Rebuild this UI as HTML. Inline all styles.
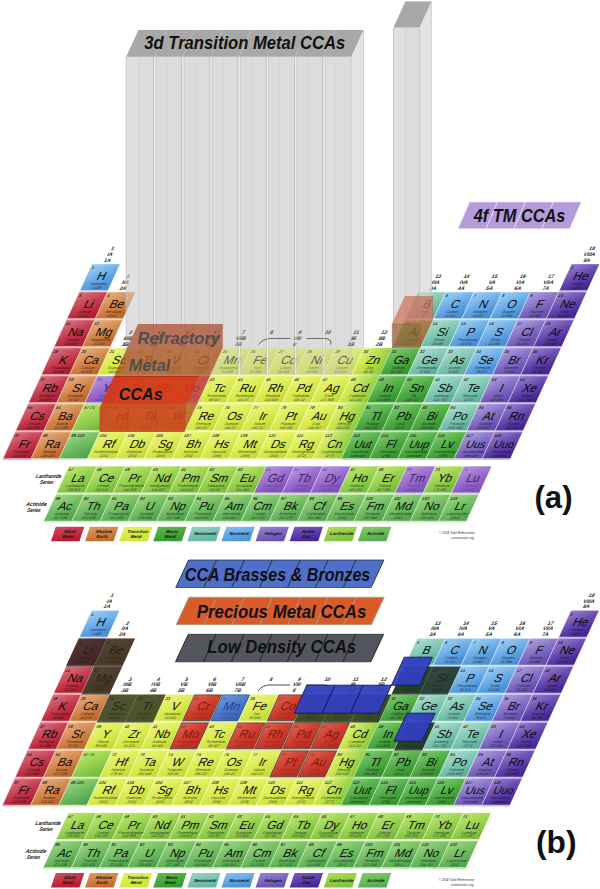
<!DOCTYPE html>
<html><head><meta charset="utf-8"><title>CCA periodic tables</title>
<style>html,body{margin:0;padding:0;background:#fff;}svg{display:block;font-family:"Liberation Sans",sans-serif;}</style></head><body>
<svg width="600" height="889" viewBox="0 0 600 889">
<defs>
<linearGradient id="g_alk" x1="0" y1="0" x2="0.35" y2="1"><stop offset="0" stop-color="#cf4c5e"/><stop offset="1" stop-color="#b91c32"/></linearGradient>
<linearGradient id="g_ae" x1="0" y1="0" x2="0.35" y2="1"><stop offset="0" stop-color="#de9a5e"/><stop offset="1" stop-color="#c86c2c"/></linearGradient>
<linearGradient id="g_tm" x1="0" y1="0" x2="0.35" y2="1"><stop offset="0" stop-color="#e6f25c"/><stop offset="1" stop-color="#d0e638"/></linearGradient>
<linearGradient id="g_bm" x1="0" y1="0" x2="0.35" y2="1"><stop offset="0" stop-color="#5cbc4a"/><stop offset="1" stop-color="#379a30"/></linearGradient>
<linearGradient id="g_sm" x1="0" y1="0" x2="0.35" y2="1"><stop offset="0" stop-color="#94d5c2"/><stop offset="1" stop-color="#64b8a4"/></linearGradient>
<linearGradient id="g_nm" x1="0" y1="0" x2="0.35" y2="1"><stop offset="0" stop-color="#82c2f0"/><stop offset="1" stop-color="#4a94de"/></linearGradient>
<linearGradient id="g_hal" x1="0" y1="0" x2="0.35" y2="1"><stop offset="0" stop-color="#9486d4"/><stop offset="1" stop-color="#6a50b6"/></linearGradient>
<linearGradient id="g_ng" x1="0" y1="0" x2="0.35" y2="1"><stop offset="0" stop-color="#7a5cc0"/><stop offset="1" stop-color="#47269a"/></linearGradient>
<linearGradient id="g_lan" x1="0" y1="0" x2="0.35" y2="1"><stop offset="0" stop-color="#addf4c"/><stop offset="1" stop-color="#7fc440"/></linearGradient>
<linearGradient id="g_act" x1="0" y1="0" x2="0.35" y2="1"><stop offset="0" stop-color="#84cd62"/><stop offset="1" stop-color="#56ac52"/></linearGradient>
<linearGradient id="g_pur" x1="0" y1="0" x2="0.35" y2="1"><stop offset="0" stop-color="#a27ad2"/><stop offset="1" stop-color="#8654c2"/></linearGradient>
<linearGradient id="g_red" x1="0" y1="0" x2="0.35" y2="1"><stop offset="0" stop-color="#d63826"/><stop offset="1" stop-color="#c62c1c"/></linearGradient>
<linearGradient id="g_blu" x1="0" y1="0" x2="0.35" y2="1"><stop offset="0" stop-color="#4c80d4"/><stop offset="1" stop-color="#3c68c2"/></linearGradient>
<linearGradient id="g_bar" x1="0" y1="0" x2="0" y2="1"><stop offset="0" stop-color="#b4b4b4" stop-opacity="0.5"/><stop offset="0.8" stop-color="#b2b2b2" stop-opacity="0.48"/><stop offset="1" stop-color="#b0b0b0" stop-opacity="0.42"/></linearGradient>
<linearGradient id="g_shine" x1="0" y1="0" x2="1" y2="1"><stop offset="0" stop-color="#fff" stop-opacity="0.22"/><stop offset="0.5" stop-color="#fff" stop-opacity="0.05"/><stop offset="1" stop-color="#000" stop-opacity="0.06"/></linearGradient>
<linearGradient id="g_zn" x1="0" y1="0" x2="1" y2="0"><stop offset="0" stop-color="#7cc83c" stop-opacity="0.05"/><stop offset="1" stop-color="#6cc040" stop-opacity="0.6"/></linearGradient>
</defs>
<rect width="600" height="889" fill="#ffffff"/>
<g transform="matrix(1,0,-0.458,1,92.00,264.00)" font-family="Liberation Sans, sans-serif" font-style="normal">
<text x="13.80" y="-13.60" font-size="5.2" font-weight="bold" text-anchor="middle" fill="#1a1a1a" fill-opacity="1.0">1</text>
<text x="13.80" y="-8.00" font-size="5.2" font-weight="bold" text-anchor="middle" fill="#1a1a1a" fill-opacity="1.0">IA</text>
<text x="13.80" y="-2.40" font-size="5.2" font-weight="bold" text-anchor="middle" fill="#1a1a1a" fill-opacity="1.0">1A</text>
<text x="42.00" y="14.40" font-size="5.2" font-weight="bold" text-anchor="middle" fill="#1a1a1a" fill-opacity="1.0">2</text>
<text x="42.00" y="20.00" font-size="5.2" font-weight="bold" text-anchor="middle" fill="#1a1a1a" fill-opacity="1.0">IIA</text>
<text x="42.00" y="25.60" font-size="5.2" font-weight="bold" text-anchor="middle" fill="#1a1a1a" fill-opacity="1.0">2A</text>
<text x="70.20" y="70.40" font-size="5.2" font-weight="bold" text-anchor="middle" fill="#1a1a1a" fill-opacity="1.0">3</text>
<text x="70.20" y="76.00" font-size="5.2" font-weight="bold" text-anchor="middle" fill="#1a1a1a" fill-opacity="1.0">IIIB</text>
<text x="70.20" y="81.60" font-size="5.2" font-weight="bold" text-anchor="middle" fill="#1a1a1a" fill-opacity="1.0">3B</text>
<text x="98.40" y="70.40" font-size="5.2" font-weight="bold" text-anchor="middle" fill="#1a1a1a" fill-opacity="1.0">4</text>
<text x="98.40" y="76.00" font-size="5.2" font-weight="bold" text-anchor="middle" fill="#1a1a1a" fill-opacity="1.0">IVB</text>
<text x="98.40" y="81.60" font-size="5.2" font-weight="bold" text-anchor="middle" fill="#1a1a1a" fill-opacity="1.0">4B</text>
<text x="126.60" y="70.40" font-size="5.2" font-weight="bold" text-anchor="middle" fill="#1a1a1a" fill-opacity="1.0">5</text>
<text x="126.60" y="76.00" font-size="5.2" font-weight="bold" text-anchor="middle" fill="#1a1a1a" fill-opacity="1.0">VB</text>
<text x="126.60" y="81.60" font-size="5.2" font-weight="bold" text-anchor="middle" fill="#1a1a1a" fill-opacity="1.0">5B</text>
<text x="154.80" y="70.40" font-size="5.2" font-weight="bold" text-anchor="middle" fill="#1a1a1a" fill-opacity="1.0">6</text>
<text x="154.80" y="76.00" font-size="5.2" font-weight="bold" text-anchor="middle" fill="#1a1a1a" fill-opacity="1.0">VIB</text>
<text x="154.80" y="81.60" font-size="5.2" font-weight="bold" text-anchor="middle" fill="#1a1a1a" fill-opacity="1.0">6B</text>
<text x="183.00" y="70.40" font-size="5.2" font-weight="bold" text-anchor="middle" fill="#1a1a1a" fill-opacity="1.0">7</text>
<text x="183.00" y="76.00" font-size="5.2" font-weight="bold" text-anchor="middle" fill="#1a1a1a" fill-opacity="1.0">VIIB</text>
<text x="183.00" y="81.60" font-size="5.2" font-weight="bold" text-anchor="middle" fill="#1a1a1a" fill-opacity="1.0">7B</text>
<text x="211.20" y="70.40" font-size="5.2" font-weight="bold" text-anchor="middle" fill="#1a1a1a" fill-opacity="1.0">8</text>
<text x="239.40" y="70.40" font-size="5.2" font-weight="bold" text-anchor="middle" fill="#1a1a1a" fill-opacity="1.0">9</text>
<text x="239.40" y="76.00" font-size="5.2" font-weight="bold" text-anchor="middle" fill="#1a1a1a" fill-opacity="1.0">VIII</text>
<text x="239.40" y="81.60" font-size="5.2" font-weight="bold" text-anchor="middle" fill="#1a1a1a" fill-opacity="1.0">8</text>
<text x="267.60" y="70.40" font-size="5.2" font-weight="bold" text-anchor="middle" fill="#1a1a1a" fill-opacity="1.0">10</text>
<text x="295.80" y="70.40" font-size="5.2" font-weight="bold" text-anchor="middle" fill="#1a1a1a" fill-opacity="1.0">11</text>
<text x="295.80" y="76.00" font-size="5.2" font-weight="bold" text-anchor="middle" fill="#1a1a1a" fill-opacity="1.0">IB</text>
<text x="295.80" y="81.60" font-size="5.2" font-weight="bold" text-anchor="middle" fill="#1a1a1a" fill-opacity="1.0">1B</text>
<text x="324.00" y="70.40" font-size="5.2" font-weight="bold" text-anchor="middle" fill="#1a1a1a" fill-opacity="1.0">12</text>
<text x="324.00" y="76.00" font-size="5.2" font-weight="bold" text-anchor="middle" fill="#1a1a1a" fill-opacity="1.0">IIB</text>
<text x="324.00" y="81.60" font-size="5.2" font-weight="bold" text-anchor="middle" fill="#1a1a1a" fill-opacity="1.0">2B</text>
<text x="352.20" y="14.40" font-size="5.2" font-weight="bold" text-anchor="middle" fill="#1a1a1a" fill-opacity="1.0">13</text>
<text x="352.20" y="20.00" font-size="5.2" font-weight="bold" text-anchor="middle" fill="#1a1a1a" fill-opacity="1.0">IIIA</text>
<text x="352.20" y="25.60" font-size="5.2" font-weight="bold" text-anchor="middle" fill="#1a1a1a" fill-opacity="1.0">3A</text>
<text x="380.40" y="14.40" font-size="5.2" font-weight="bold" text-anchor="middle" fill="#1a1a1a" fill-opacity="1.0">14</text>
<text x="380.40" y="20.00" font-size="5.2" font-weight="bold" text-anchor="middle" fill="#1a1a1a" fill-opacity="1.0">IVA</text>
<text x="380.40" y="25.60" font-size="5.2" font-weight="bold" text-anchor="middle" fill="#1a1a1a" fill-opacity="1.0">4A</text>
<text x="408.60" y="14.40" font-size="5.2" font-weight="bold" text-anchor="middle" fill="#1a1a1a" fill-opacity="1.0">15</text>
<text x="408.60" y="20.00" font-size="5.2" font-weight="bold" text-anchor="middle" fill="#1a1a1a" fill-opacity="1.0">VA</text>
<text x="408.60" y="25.60" font-size="5.2" font-weight="bold" text-anchor="middle" fill="#1a1a1a" fill-opacity="1.0">5A</text>
<text x="436.80" y="14.40" font-size="5.2" font-weight="bold" text-anchor="middle" fill="#1a1a1a" fill-opacity="1.0">16</text>
<text x="436.80" y="20.00" font-size="5.2" font-weight="bold" text-anchor="middle" fill="#1a1a1a" fill-opacity="1.0">VIA</text>
<text x="436.80" y="25.60" font-size="5.2" font-weight="bold" text-anchor="middle" fill="#1a1a1a" fill-opacity="1.0">6A</text>
<text x="465.00" y="14.40" font-size="5.2" font-weight="bold" text-anchor="middle" fill="#1a1a1a" fill-opacity="1.0">17</text>
<text x="465.00" y="20.00" font-size="5.2" font-weight="bold" text-anchor="middle" fill="#1a1a1a" fill-opacity="1.0">VIIA</text>
<text x="465.00" y="25.60" font-size="5.2" font-weight="bold" text-anchor="middle" fill="#1a1a1a" fill-opacity="1.0">7A</text>
<text x="493.20" y="-13.60" font-size="5.2" font-weight="bold" text-anchor="middle" fill="#1a1a1a" fill-opacity="1.0">18</text>
<text x="493.20" y="-8.00" font-size="5.2" font-weight="bold" text-anchor="middle" fill="#1a1a1a" fill-opacity="1.0">VIIIA</text>
<text x="493.20" y="-2.40" font-size="5.2" font-weight="bold" text-anchor="middle" fill="#1a1a1a" fill-opacity="1.0">8A</text>
<path d="M203.4 80.5 q2 -6 9 -6 H232.6 M248.6 74.5 H266.8 q7 0 9 6" fill="none" stroke="#333" stroke-opacity="1.0" stroke-width="0.8"/>
<rect x="0.00" y="0.00" width="28.20" height="28.00" fill="#82c2f0" fill-opacity="0.38"/>
<rect x="0.45" y="0.20" width="27.30" height="26.10" fill="url(#g_nm)"/>
<rect x="0.45" y="0.20" width="27.30" height="26.10" fill="url(#g_shine)"/>
<rect x="479.40" y="0.00" width="28.20" height="28.00" fill="#7a5cc0" fill-opacity="0.38"/>
<rect x="479.85" y="0.20" width="27.30" height="26.10" fill="url(#g_ng)"/>
<rect x="479.85" y="0.20" width="27.30" height="26.10" fill="url(#g_shine)"/>
<rect x="0.00" y="28.00" width="28.20" height="28.00" fill="#cf4c5e" fill-opacity="0.38"/>
<rect x="0.45" y="28.20" width="27.30" height="26.10" fill="url(#g_alk)"/>
<rect x="0.45" y="28.20" width="27.30" height="26.10" fill="url(#g_shine)"/>
<rect x="28.20" y="28.00" width="28.20" height="28.00" fill="#de9a5e" fill-opacity="0.38"/>
<rect x="28.65" y="28.20" width="27.30" height="26.10" fill="url(#g_ae)"/>
<rect x="28.65" y="28.20" width="27.30" height="26.10" fill="url(#g_shine)"/>
<rect x="338.40" y="28.00" width="28.20" height="28.00" fill="#94d5c2" fill-opacity="0.38"/>
<rect x="338.85" y="28.20" width="27.30" height="26.10" fill="url(#g_sm)"/>
<rect x="338.85" y="28.20" width="27.30" height="26.10" fill="url(#g_shine)"/>
<rect x="366.60" y="28.00" width="28.20" height="28.00" fill="#82c2f0" fill-opacity="0.38"/>
<rect x="367.05" y="28.20" width="27.30" height="26.10" fill="url(#g_nm)"/>
<rect x="367.05" y="28.20" width="27.30" height="26.10" fill="url(#g_shine)"/>
<rect x="394.80" y="28.00" width="28.20" height="28.00" fill="#82c2f0" fill-opacity="0.38"/>
<rect x="395.25" y="28.20" width="27.30" height="26.10" fill="url(#g_nm)"/>
<rect x="395.25" y="28.20" width="27.30" height="26.10" fill="url(#g_shine)"/>
<rect x="423.00" y="28.00" width="28.20" height="28.00" fill="#82c2f0" fill-opacity="0.38"/>
<rect x="423.45" y="28.20" width="27.30" height="26.10" fill="url(#g_nm)"/>
<rect x="423.45" y="28.20" width="27.30" height="26.10" fill="url(#g_shine)"/>
<rect x="451.20" y="28.00" width="28.20" height="28.00" fill="#9486d4" fill-opacity="0.38"/>
<rect x="451.65" y="28.20" width="27.30" height="26.10" fill="url(#g_hal)"/>
<rect x="451.65" y="28.20" width="27.30" height="26.10" fill="url(#g_shine)"/>
<rect x="479.40" y="28.00" width="28.20" height="28.00" fill="#7a5cc0" fill-opacity="0.38"/>
<rect x="479.85" y="28.20" width="27.30" height="26.10" fill="url(#g_ng)"/>
<rect x="479.85" y="28.20" width="27.30" height="26.10" fill="url(#g_shine)"/>
<rect x="0.00" y="56.00" width="28.20" height="28.00" fill="#cf4c5e" fill-opacity="0.38"/>
<rect x="0.45" y="56.20" width="27.30" height="26.10" fill="url(#g_alk)"/>
<rect x="0.45" y="56.20" width="27.30" height="26.10" fill="url(#g_shine)"/>
<rect x="28.20" y="56.00" width="28.20" height="28.00" fill="#de9a5e" fill-opacity="0.38"/>
<rect x="28.65" y="56.20" width="27.30" height="26.10" fill="url(#g_ae)"/>
<rect x="28.65" y="56.20" width="27.30" height="26.10" fill="url(#g_shine)"/>
<rect x="338.40" y="56.00" width="28.20" height="28.00" fill="#5cbc4a" fill-opacity="0.38"/>
<rect x="338.85" y="56.20" width="27.30" height="26.10" fill="url(#g_bm)"/>
<rect x="338.85" y="56.20" width="27.30" height="26.10" fill="url(#g_shine)"/>
<rect x="366.60" y="56.00" width="28.20" height="28.00" fill="#94d5c2" fill-opacity="0.38"/>
<rect x="367.05" y="56.20" width="27.30" height="26.10" fill="url(#g_sm)"/>
<rect x="367.05" y="56.20" width="27.30" height="26.10" fill="url(#g_shine)"/>
<rect x="394.80" y="56.00" width="28.20" height="28.00" fill="#82c2f0" fill-opacity="0.38"/>
<rect x="395.25" y="56.20" width="27.30" height="26.10" fill="url(#g_nm)"/>
<rect x="395.25" y="56.20" width="27.30" height="26.10" fill="url(#g_shine)"/>
<rect x="423.00" y="56.00" width="28.20" height="28.00" fill="#82c2f0" fill-opacity="0.38"/>
<rect x="423.45" y="56.20" width="27.30" height="26.10" fill="url(#g_nm)"/>
<rect x="423.45" y="56.20" width="27.30" height="26.10" fill="url(#g_shine)"/>
<rect x="451.20" y="56.00" width="28.20" height="28.00" fill="#9486d4" fill-opacity="0.38"/>
<rect x="451.65" y="56.20" width="27.30" height="26.10" fill="url(#g_hal)"/>
<rect x="451.65" y="56.20" width="27.30" height="26.10" fill="url(#g_shine)"/>
<rect x="479.40" y="56.00" width="28.20" height="28.00" fill="#7a5cc0" fill-opacity="0.38"/>
<rect x="479.85" y="56.20" width="27.30" height="26.10" fill="url(#g_ng)"/>
<rect x="479.85" y="56.20" width="27.30" height="26.10" fill="url(#g_shine)"/>
<rect x="0.00" y="84.00" width="28.20" height="28.00" fill="#cf4c5e" fill-opacity="0.38"/>
<rect x="0.45" y="84.20" width="27.30" height="26.10" fill="url(#g_alk)"/>
<rect x="0.45" y="84.20" width="27.30" height="26.10" fill="url(#g_shine)"/>
<rect x="28.20" y="84.00" width="28.20" height="28.00" fill="#de9a5e" fill-opacity="0.38"/>
<rect x="28.65" y="84.20" width="27.30" height="26.10" fill="url(#g_ae)"/>
<rect x="28.65" y="84.20" width="27.30" height="26.10" fill="url(#g_shine)"/>
<rect x="56.40" y="84.00" width="28.20" height="28.00" fill="#e6f25c" fill-opacity="0.38"/>
<rect x="56.85" y="84.20" width="27.30" height="26.10" fill="url(#g_tm)"/>
<rect x="56.85" y="84.20" width="27.30" height="26.10" fill="url(#g_shine)"/>
<rect x="84.60" y="84.00" width="28.20" height="28.00" fill="#e6f25c" fill-opacity="0.38"/>
<rect x="85.05" y="84.20" width="27.30" height="26.10" fill="url(#g_tm)"/>
<rect x="85.05" y="84.20" width="27.30" height="26.10" fill="url(#g_shine)"/>
<rect x="112.80" y="84.00" width="28.20" height="28.00" fill="#e6f25c" fill-opacity="0.38"/>
<rect x="113.25" y="84.20" width="27.30" height="26.10" fill="url(#g_tm)"/>
<rect x="113.25" y="84.20" width="27.30" height="26.10" fill="url(#g_shine)"/>
<rect x="141.00" y="84.00" width="28.20" height="28.00" fill="#e6f25c" fill-opacity="0.38"/>
<rect x="141.45" y="84.20" width="27.30" height="26.10" fill="url(#g_tm)"/>
<rect x="141.45" y="84.20" width="27.30" height="26.10" fill="url(#g_shine)"/>
<rect x="169.20" y="84.00" width="28.20" height="28.00" fill="#e6f25c" fill-opacity="0.38"/>
<rect x="169.65" y="84.20" width="27.30" height="26.10" fill="url(#g_tm)"/>
<rect x="169.65" y="84.20" width="27.30" height="26.10" fill="url(#g_shine)"/>
<rect x="197.40" y="84.00" width="28.20" height="28.00" fill="#e6f25c" fill-opacity="0.38"/>
<rect x="197.85" y="84.20" width="27.30" height="26.10" fill="url(#g_tm)"/>
<rect x="197.85" y="84.20" width="27.30" height="26.10" fill="url(#g_shine)"/>
<rect x="225.60" y="84.00" width="28.20" height="28.00" fill="#e6f25c" fill-opacity="0.38"/>
<rect x="226.05" y="84.20" width="27.30" height="26.10" fill="url(#g_tm)"/>
<rect x="226.05" y="84.20" width="27.30" height="26.10" fill="url(#g_shine)"/>
<rect x="253.80" y="84.00" width="28.20" height="28.00" fill="#e6f25c" fill-opacity="0.38"/>
<rect x="254.25" y="84.20" width="27.30" height="26.10" fill="url(#g_tm)"/>
<rect x="254.25" y="84.20" width="27.30" height="26.10" fill="url(#g_shine)"/>
<rect x="282.00" y="84.00" width="28.20" height="28.00" fill="#e6f25c" fill-opacity="0.38"/>
<rect x="282.45" y="84.20" width="27.30" height="26.10" fill="url(#g_tm)"/>
<rect x="282.45" y="84.20" width="27.30" height="26.10" fill="url(#g_shine)"/>
<rect x="310.20" y="84.00" width="28.20" height="28.00" fill="#e6f25c" fill-opacity="0.38"/>
<rect x="310.65" y="84.20" width="27.30" height="26.10" fill="url(#g_tm)"/>
<rect x="310.65" y="84.20" width="27.30" height="26.10" fill="url(#g_shine)"/>
<rect x="338.40" y="84.00" width="28.20" height="28.00" fill="#5cbc4a" fill-opacity="0.38"/>
<rect x="338.85" y="84.20" width="27.30" height="26.10" fill="url(#g_bm)"/>
<rect x="338.85" y="84.20" width="27.30" height="26.10" fill="url(#g_shine)"/>
<rect x="366.60" y="84.00" width="28.20" height="28.00" fill="#94d5c2" fill-opacity="0.38"/>
<rect x="367.05" y="84.20" width="27.30" height="26.10" fill="url(#g_sm)"/>
<rect x="367.05" y="84.20" width="27.30" height="26.10" fill="url(#g_shine)"/>
<rect x="394.80" y="84.00" width="28.20" height="28.00" fill="#94d5c2" fill-opacity="0.38"/>
<rect x="395.25" y="84.20" width="27.30" height="26.10" fill="url(#g_sm)"/>
<rect x="395.25" y="84.20" width="27.30" height="26.10" fill="url(#g_shine)"/>
<rect x="423.00" y="84.00" width="28.20" height="28.00" fill="#82c2f0" fill-opacity="0.38"/>
<rect x="423.45" y="84.20" width="27.30" height="26.10" fill="url(#g_nm)"/>
<rect x="423.45" y="84.20" width="27.30" height="26.10" fill="url(#g_shine)"/>
<rect x="451.20" y="84.00" width="28.20" height="28.00" fill="#9486d4" fill-opacity="0.38"/>
<rect x="451.65" y="84.20" width="27.30" height="26.10" fill="url(#g_hal)"/>
<rect x="451.65" y="84.20" width="27.30" height="26.10" fill="url(#g_shine)"/>
<rect x="479.40" y="84.00" width="28.20" height="28.00" fill="#7a5cc0" fill-opacity="0.38"/>
<rect x="479.85" y="84.20" width="27.30" height="26.10" fill="url(#g_ng)"/>
<rect x="479.85" y="84.20" width="27.30" height="26.10" fill="url(#g_shine)"/>
<rect x="0.00" y="112.00" width="28.20" height="28.00" fill="#cf4c5e" fill-opacity="0.38"/>
<rect x="0.45" y="112.20" width="27.30" height="26.10" fill="url(#g_alk)"/>
<rect x="0.45" y="112.20" width="27.30" height="26.10" fill="url(#g_shine)"/>
<rect x="28.20" y="112.00" width="28.20" height="28.00" fill="#de9a5e" fill-opacity="0.38"/>
<rect x="28.65" y="112.20" width="27.30" height="26.10" fill="url(#g_ae)"/>
<rect x="28.65" y="112.20" width="27.30" height="26.10" fill="url(#g_shine)"/>
<rect x="56.40" y="112.00" width="28.20" height="28.00" fill="#a27ad2" fill-opacity="0.38"/>
<rect x="56.85" y="112.20" width="27.30" height="26.10" fill="url(#g_pur)"/>
<rect x="56.85" y="112.20" width="27.30" height="26.10" fill="url(#g_shine)"/>
<rect x="84.60" y="112.00" width="28.20" height="28.00" fill="#e6f25c" fill-opacity="0.38"/>
<rect x="85.05" y="112.20" width="27.30" height="26.10" fill="url(#g_tm)"/>
<rect x="85.05" y="112.20" width="27.30" height="26.10" fill="url(#g_shine)"/>
<rect x="112.80" y="112.00" width="28.20" height="28.00" fill="#e6f25c" fill-opacity="0.38"/>
<rect x="113.25" y="112.20" width="27.30" height="26.10" fill="url(#g_tm)"/>
<rect x="113.25" y="112.20" width="27.30" height="26.10" fill="url(#g_shine)"/>
<rect x="141.00" y="112.00" width="28.20" height="28.00" fill="#e6f25c" fill-opacity="0.38"/>
<rect x="141.45" y="112.20" width="27.30" height="26.10" fill="url(#g_tm)"/>
<rect x="141.45" y="112.20" width="27.30" height="26.10" fill="url(#g_shine)"/>
<rect x="169.20" y="112.00" width="28.20" height="28.00" fill="#e6f25c" fill-opacity="0.38"/>
<rect x="169.65" y="112.20" width="27.30" height="26.10" fill="url(#g_tm)"/>
<rect x="169.65" y="112.20" width="27.30" height="26.10" fill="url(#g_shine)"/>
<rect x="197.40" y="112.00" width="28.20" height="28.00" fill="#e6f25c" fill-opacity="0.38"/>
<rect x="197.85" y="112.20" width="27.30" height="26.10" fill="url(#g_tm)"/>
<rect x="197.85" y="112.20" width="27.30" height="26.10" fill="url(#g_shine)"/>
<rect x="225.60" y="112.00" width="28.20" height="28.00" fill="#e6f25c" fill-opacity="0.38"/>
<rect x="226.05" y="112.20" width="27.30" height="26.10" fill="url(#g_tm)"/>
<rect x="226.05" y="112.20" width="27.30" height="26.10" fill="url(#g_shine)"/>
<rect x="253.80" y="112.00" width="28.20" height="28.00" fill="#e6f25c" fill-opacity="0.38"/>
<rect x="254.25" y="112.20" width="27.30" height="26.10" fill="url(#g_tm)"/>
<rect x="254.25" y="112.20" width="27.30" height="26.10" fill="url(#g_shine)"/>
<rect x="282.00" y="112.00" width="28.20" height="28.00" fill="#e6f25c" fill-opacity="0.38"/>
<rect x="282.45" y="112.20" width="27.30" height="26.10" fill="url(#g_tm)"/>
<rect x="282.45" y="112.20" width="27.30" height="26.10" fill="url(#g_shine)"/>
<rect x="310.20" y="112.00" width="28.20" height="28.00" fill="#e6f25c" fill-opacity="0.38"/>
<rect x="310.65" y="112.20" width="27.30" height="26.10" fill="url(#g_tm)"/>
<rect x="310.65" y="112.20" width="27.30" height="26.10" fill="url(#g_shine)"/>
<rect x="338.40" y="112.00" width="28.20" height="28.00" fill="#5cbc4a" fill-opacity="0.38"/>
<rect x="338.85" y="112.20" width="27.30" height="26.10" fill="url(#g_bm)"/>
<rect x="338.85" y="112.20" width="27.30" height="26.10" fill="url(#g_shine)"/>
<rect x="366.60" y="112.00" width="28.20" height="28.00" fill="#5cbc4a" fill-opacity="0.38"/>
<rect x="367.05" y="112.20" width="27.30" height="26.10" fill="url(#g_bm)"/>
<rect x="367.05" y="112.20" width="27.30" height="26.10" fill="url(#g_shine)"/>
<rect x="394.80" y="112.00" width="28.20" height="28.00" fill="#94d5c2" fill-opacity="0.38"/>
<rect x="395.25" y="112.20" width="27.30" height="26.10" fill="url(#g_sm)"/>
<rect x="395.25" y="112.20" width="27.30" height="26.10" fill="url(#g_shine)"/>
<rect x="423.00" y="112.00" width="28.20" height="28.00" fill="#94d5c2" fill-opacity="0.38"/>
<rect x="423.45" y="112.20" width="27.30" height="26.10" fill="url(#g_sm)"/>
<rect x="423.45" y="112.20" width="27.30" height="26.10" fill="url(#g_shine)"/>
<rect x="451.20" y="112.00" width="28.20" height="28.00" fill="#9486d4" fill-opacity="0.38"/>
<rect x="451.65" y="112.20" width="27.30" height="26.10" fill="url(#g_hal)"/>
<rect x="451.65" y="112.20" width="27.30" height="26.10" fill="url(#g_shine)"/>
<rect x="479.40" y="112.00" width="28.20" height="28.00" fill="#7a5cc0" fill-opacity="0.38"/>
<rect x="479.85" y="112.20" width="27.30" height="26.10" fill="url(#g_ng)"/>
<rect x="479.85" y="112.20" width="27.30" height="26.10" fill="url(#g_shine)"/>
<rect x="0.00" y="140.00" width="28.20" height="28.00" fill="#cf4c5e" fill-opacity="0.38"/>
<rect x="0.45" y="140.20" width="27.30" height="26.10" fill="url(#g_alk)"/>
<rect x="0.45" y="140.20" width="27.30" height="26.10" fill="url(#g_shine)"/>
<rect x="28.20" y="140.00" width="28.20" height="28.00" fill="#de9a5e" fill-opacity="0.38"/>
<rect x="28.65" y="140.20" width="27.30" height="26.10" fill="url(#g_ae)"/>
<rect x="28.65" y="140.20" width="27.30" height="26.10" fill="url(#g_shine)"/>
<rect x="84.60" y="140.00" width="28.20" height="28.00" fill="#e6f25c" fill-opacity="0.38"/>
<rect x="85.05" y="140.20" width="27.30" height="26.10" fill="url(#g_tm)"/>
<rect x="85.05" y="140.20" width="27.30" height="26.10" fill="url(#g_shine)"/>
<rect x="112.80" y="140.00" width="28.20" height="28.00" fill="#e6f25c" fill-opacity="0.38"/>
<rect x="113.25" y="140.20" width="27.30" height="26.10" fill="url(#g_tm)"/>
<rect x="113.25" y="140.20" width="27.30" height="26.10" fill="url(#g_shine)"/>
<rect x="141.00" y="140.00" width="28.20" height="28.00" fill="#e6f25c" fill-opacity="0.38"/>
<rect x="141.45" y="140.20" width="27.30" height="26.10" fill="url(#g_tm)"/>
<rect x="141.45" y="140.20" width="27.30" height="26.10" fill="url(#g_shine)"/>
<rect x="169.20" y="140.00" width="28.20" height="28.00" fill="#e6f25c" fill-opacity="0.38"/>
<rect x="169.65" y="140.20" width="27.30" height="26.10" fill="url(#g_tm)"/>
<rect x="169.65" y="140.20" width="27.30" height="26.10" fill="url(#g_shine)"/>
<rect x="197.40" y="140.00" width="28.20" height="28.00" fill="#e6f25c" fill-opacity="0.38"/>
<rect x="197.85" y="140.20" width="27.30" height="26.10" fill="url(#g_tm)"/>
<rect x="197.85" y="140.20" width="27.30" height="26.10" fill="url(#g_shine)"/>
<rect x="225.60" y="140.00" width="28.20" height="28.00" fill="#e6f25c" fill-opacity="0.38"/>
<rect x="226.05" y="140.20" width="27.30" height="26.10" fill="url(#g_tm)"/>
<rect x="226.05" y="140.20" width="27.30" height="26.10" fill="url(#g_shine)"/>
<rect x="253.80" y="140.00" width="28.20" height="28.00" fill="#e6f25c" fill-opacity="0.38"/>
<rect x="254.25" y="140.20" width="27.30" height="26.10" fill="url(#g_tm)"/>
<rect x="254.25" y="140.20" width="27.30" height="26.10" fill="url(#g_shine)"/>
<rect x="282.00" y="140.00" width="28.20" height="28.00" fill="#e6f25c" fill-opacity="0.38"/>
<rect x="282.45" y="140.20" width="27.30" height="26.10" fill="url(#g_tm)"/>
<rect x="282.45" y="140.20" width="27.30" height="26.10" fill="url(#g_shine)"/>
<rect x="310.20" y="140.00" width="28.20" height="28.00" fill="#e6f25c" fill-opacity="0.38"/>
<rect x="310.65" y="140.20" width="27.30" height="26.10" fill="url(#g_tm)"/>
<rect x="310.65" y="140.20" width="27.30" height="26.10" fill="url(#g_shine)"/>
<rect x="338.40" y="140.00" width="28.20" height="28.00" fill="#5cbc4a" fill-opacity="0.38"/>
<rect x="338.85" y="140.20" width="27.30" height="26.10" fill="url(#g_bm)"/>
<rect x="338.85" y="140.20" width="27.30" height="26.10" fill="url(#g_shine)"/>
<rect x="366.60" y="140.00" width="28.20" height="28.00" fill="#5cbc4a" fill-opacity="0.38"/>
<rect x="367.05" y="140.20" width="27.30" height="26.10" fill="url(#g_bm)"/>
<rect x="367.05" y="140.20" width="27.30" height="26.10" fill="url(#g_shine)"/>
<rect x="394.80" y="140.00" width="28.20" height="28.00" fill="#5cbc4a" fill-opacity="0.38"/>
<rect x="395.25" y="140.20" width="27.30" height="26.10" fill="url(#g_bm)"/>
<rect x="395.25" y="140.20" width="27.30" height="26.10" fill="url(#g_shine)"/>
<rect x="423.00" y="140.00" width="28.20" height="28.00" fill="#94d5c2" fill-opacity="0.38"/>
<rect x="423.45" y="140.20" width="27.30" height="26.10" fill="url(#g_sm)"/>
<rect x="423.45" y="140.20" width="27.30" height="26.10" fill="url(#g_shine)"/>
<rect x="451.20" y="140.00" width="28.20" height="28.00" fill="#9486d4" fill-opacity="0.38"/>
<rect x="451.65" y="140.20" width="27.30" height="26.10" fill="url(#g_hal)"/>
<rect x="451.65" y="140.20" width="27.30" height="26.10" fill="url(#g_shine)"/>
<rect x="479.40" y="140.00" width="28.20" height="28.00" fill="#7a5cc0" fill-opacity="0.38"/>
<rect x="479.85" y="140.20" width="27.30" height="26.10" fill="url(#g_ng)"/>
<rect x="479.85" y="140.20" width="27.30" height="26.10" fill="url(#g_shine)"/>
<rect x="0.00" y="168.00" width="28.20" height="28.00" fill="#cf4c5e" fill-opacity="0.38"/>
<rect x="0.45" y="168.20" width="27.30" height="26.10" fill="url(#g_alk)"/>
<rect x="0.45" y="168.20" width="27.30" height="26.10" fill="url(#g_shine)"/>
<rect x="28.20" y="168.00" width="28.20" height="28.00" fill="#de9a5e" fill-opacity="0.38"/>
<rect x="28.65" y="168.20" width="27.30" height="26.10" fill="url(#g_ae)"/>
<rect x="28.65" y="168.20" width="27.30" height="26.10" fill="url(#g_shine)"/>
<rect x="84.60" y="168.00" width="28.20" height="28.00" fill="#e6f25c" fill-opacity="0.38"/>
<rect x="85.05" y="168.20" width="27.30" height="26.10" fill="url(#g_tm)"/>
<rect x="85.05" y="168.20" width="27.30" height="26.10" fill="url(#g_shine)"/>
<rect x="112.80" y="168.00" width="28.20" height="28.00" fill="#e6f25c" fill-opacity="0.38"/>
<rect x="113.25" y="168.20" width="27.30" height="26.10" fill="url(#g_tm)"/>
<rect x="113.25" y="168.20" width="27.30" height="26.10" fill="url(#g_shine)"/>
<rect x="141.00" y="168.00" width="28.20" height="28.00" fill="#e6f25c" fill-opacity="0.38"/>
<rect x="141.45" y="168.20" width="27.30" height="26.10" fill="url(#g_tm)"/>
<rect x="141.45" y="168.20" width="27.30" height="26.10" fill="url(#g_shine)"/>
<rect x="169.20" y="168.00" width="28.20" height="28.00" fill="#e6f25c" fill-opacity="0.38"/>
<rect x="169.65" y="168.20" width="27.30" height="26.10" fill="url(#g_tm)"/>
<rect x="169.65" y="168.20" width="27.30" height="26.10" fill="url(#g_shine)"/>
<rect x="197.40" y="168.00" width="28.20" height="28.00" fill="#e6f25c" fill-opacity="0.38"/>
<rect x="197.85" y="168.20" width="27.30" height="26.10" fill="url(#g_tm)"/>
<rect x="197.85" y="168.20" width="27.30" height="26.10" fill="url(#g_shine)"/>
<rect x="225.60" y="168.00" width="28.20" height="28.00" fill="#e6f25c" fill-opacity="0.38"/>
<rect x="226.05" y="168.20" width="27.30" height="26.10" fill="url(#g_tm)"/>
<rect x="226.05" y="168.20" width="27.30" height="26.10" fill="url(#g_shine)"/>
<rect x="253.80" y="168.00" width="28.20" height="28.00" fill="#e6f25c" fill-opacity="0.38"/>
<rect x="254.25" y="168.20" width="27.30" height="26.10" fill="url(#g_tm)"/>
<rect x="254.25" y="168.20" width="27.30" height="26.10" fill="url(#g_shine)"/>
<rect x="282.00" y="168.00" width="28.20" height="28.00" fill="#e6f25c" fill-opacity="0.38"/>
<rect x="282.45" y="168.20" width="27.30" height="26.10" fill="url(#g_tm)"/>
<rect x="282.45" y="168.20" width="27.30" height="26.10" fill="url(#g_shine)"/>
<rect x="310.20" y="168.00" width="28.20" height="28.00" fill="#e6f25c" fill-opacity="0.38"/>
<rect x="310.65" y="168.20" width="27.30" height="26.10" fill="url(#g_tm)"/>
<rect x="310.65" y="168.20" width="27.30" height="26.10" fill="url(#g_shine)"/>
<rect x="338.40" y="168.00" width="28.20" height="28.00" fill="#5cbc4a" fill-opacity="0.38"/>
<rect x="338.85" y="168.20" width="27.30" height="26.10" fill="url(#g_bm)"/>
<rect x="338.85" y="168.20" width="27.30" height="26.10" fill="url(#g_shine)"/>
<rect x="366.60" y="168.00" width="28.20" height="28.00" fill="#5cbc4a" fill-opacity="0.38"/>
<rect x="367.05" y="168.20" width="27.30" height="26.10" fill="url(#g_bm)"/>
<rect x="367.05" y="168.20" width="27.30" height="26.10" fill="url(#g_shine)"/>
<rect x="394.80" y="168.00" width="28.20" height="28.00" fill="#5cbc4a" fill-opacity="0.38"/>
<rect x="395.25" y="168.20" width="27.30" height="26.10" fill="url(#g_bm)"/>
<rect x="395.25" y="168.20" width="27.30" height="26.10" fill="url(#g_shine)"/>
<rect x="423.00" y="168.00" width="28.20" height="28.00" fill="#5cbc4a" fill-opacity="0.38"/>
<rect x="423.45" y="168.20" width="27.30" height="26.10" fill="url(#g_bm)"/>
<rect x="423.45" y="168.20" width="27.30" height="26.10" fill="url(#g_shine)"/>
<rect x="451.20" y="168.00" width="28.20" height="28.00" fill="#9486d4" fill-opacity="0.38"/>
<rect x="451.65" y="168.20" width="27.30" height="26.10" fill="url(#g_hal)"/>
<rect x="451.65" y="168.20" width="27.30" height="26.10" fill="url(#g_shine)"/>
<rect x="479.40" y="168.00" width="28.20" height="28.00" fill="#7a5cc0" fill-opacity="0.38"/>
<rect x="479.85" y="168.20" width="27.30" height="26.10" fill="url(#g_ng)"/>
<rect x="479.85" y="168.20" width="27.30" height="26.10" fill="url(#g_shine)"/>
<rect x="69.37" y="202.25" width="28.20" height="28.00" fill="#addf4c" fill-opacity="0.38"/>
<rect x="69.82" y="202.45" width="27.30" height="26.10" fill="url(#g_lan)"/>
<rect x="69.82" y="202.45" width="27.30" height="26.10" fill="url(#g_shine)"/>
<rect x="97.57" y="202.25" width="28.20" height="28.00" fill="#addf4c" fill-opacity="0.38"/>
<rect x="98.02" y="202.45" width="27.30" height="26.10" fill="url(#g_lan)"/>
<rect x="98.02" y="202.45" width="27.30" height="26.10" fill="url(#g_shine)"/>
<rect x="125.77" y="202.25" width="28.20" height="28.00" fill="#addf4c" fill-opacity="0.38"/>
<rect x="126.22" y="202.45" width="27.30" height="26.10" fill="url(#g_lan)"/>
<rect x="126.22" y="202.45" width="27.30" height="26.10" fill="url(#g_shine)"/>
<rect x="153.97" y="202.25" width="28.20" height="28.00" fill="#addf4c" fill-opacity="0.38"/>
<rect x="154.42" y="202.45" width="27.30" height="26.10" fill="url(#g_lan)"/>
<rect x="154.42" y="202.45" width="27.30" height="26.10" fill="url(#g_shine)"/>
<rect x="182.17" y="202.25" width="28.20" height="28.00" fill="#addf4c" fill-opacity="0.38"/>
<rect x="182.62" y="202.45" width="27.30" height="26.10" fill="url(#g_lan)"/>
<rect x="182.62" y="202.45" width="27.30" height="26.10" fill="url(#g_shine)"/>
<rect x="210.37" y="202.25" width="28.20" height="28.00" fill="#addf4c" fill-opacity="0.38"/>
<rect x="210.82" y="202.45" width="27.30" height="26.10" fill="url(#g_lan)"/>
<rect x="210.82" y="202.45" width="27.30" height="26.10" fill="url(#g_shine)"/>
<rect x="238.57" y="202.25" width="28.20" height="28.00" fill="#addf4c" fill-opacity="0.38"/>
<rect x="239.02" y="202.45" width="27.30" height="26.10" fill="url(#g_lan)"/>
<rect x="239.02" y="202.45" width="27.30" height="26.10" fill="url(#g_shine)"/>
<rect x="266.77" y="202.25" width="28.20" height="28.00" fill="#a27ad2" fill-opacity="0.38"/>
<rect x="267.22" y="202.45" width="27.30" height="26.10" fill="url(#g_pur)"/>
<rect x="267.22" y="202.45" width="27.30" height="26.10" fill="url(#g_shine)"/>
<rect x="294.97" y="202.25" width="28.20" height="28.00" fill="#a27ad2" fill-opacity="0.38"/>
<rect x="295.42" y="202.45" width="27.30" height="26.10" fill="url(#g_pur)"/>
<rect x="295.42" y="202.45" width="27.30" height="26.10" fill="url(#g_shine)"/>
<rect x="323.17" y="202.25" width="28.20" height="28.00" fill="#a27ad2" fill-opacity="0.38"/>
<rect x="323.62" y="202.45" width="27.30" height="26.10" fill="url(#g_pur)"/>
<rect x="323.62" y="202.45" width="27.30" height="26.10" fill="url(#g_shine)"/>
<rect x="351.37" y="202.25" width="28.20" height="28.00" fill="#addf4c" fill-opacity="0.38"/>
<rect x="351.82" y="202.45" width="27.30" height="26.10" fill="url(#g_lan)"/>
<rect x="351.82" y="202.45" width="27.30" height="26.10" fill="url(#g_shine)"/>
<rect x="379.57" y="202.25" width="28.20" height="28.00" fill="#addf4c" fill-opacity="0.38"/>
<rect x="380.02" y="202.45" width="27.30" height="26.10" fill="url(#g_lan)"/>
<rect x="380.02" y="202.45" width="27.30" height="26.10" fill="url(#g_shine)"/>
<rect x="407.77" y="202.25" width="28.20" height="28.00" fill="#a27ad2" fill-opacity="0.38"/>
<rect x="408.22" y="202.45" width="27.30" height="26.10" fill="url(#g_pur)"/>
<rect x="408.22" y="202.45" width="27.30" height="26.10" fill="url(#g_shine)"/>
<rect x="435.97" y="202.25" width="28.20" height="28.00" fill="#addf4c" fill-opacity="0.38"/>
<rect x="436.42" y="202.45" width="27.30" height="26.10" fill="url(#g_lan)"/>
<rect x="436.42" y="202.45" width="27.30" height="26.10" fill="url(#g_shine)"/>
<rect x="464.17" y="202.25" width="28.20" height="28.00" fill="#a27ad2" fill-opacity="0.38"/>
<rect x="464.62" y="202.45" width="27.30" height="26.10" fill="url(#g_pur)"/>
<rect x="464.62" y="202.45" width="27.30" height="26.10" fill="url(#g_shine)"/>
<rect x="69.37" y="230.50" width="28.20" height="28.00" fill="#84cd62" fill-opacity="0.38"/>
<rect x="69.82" y="230.70" width="27.30" height="26.10" fill="url(#g_act)"/>
<rect x="69.82" y="230.70" width="27.30" height="26.10" fill="url(#g_shine)"/>
<rect x="97.57" y="230.50" width="28.20" height="28.00" fill="#84cd62" fill-opacity="0.38"/>
<rect x="98.02" y="230.70" width="27.30" height="26.10" fill="url(#g_act)"/>
<rect x="98.02" y="230.70" width="27.30" height="26.10" fill="url(#g_shine)"/>
<rect x="125.77" y="230.50" width="28.20" height="28.00" fill="#84cd62" fill-opacity="0.38"/>
<rect x="126.22" y="230.70" width="27.30" height="26.10" fill="url(#g_act)"/>
<rect x="126.22" y="230.70" width="27.30" height="26.10" fill="url(#g_shine)"/>
<rect x="153.97" y="230.50" width="28.20" height="28.00" fill="#84cd62" fill-opacity="0.38"/>
<rect x="154.42" y="230.70" width="27.30" height="26.10" fill="url(#g_act)"/>
<rect x="154.42" y="230.70" width="27.30" height="26.10" fill="url(#g_shine)"/>
<rect x="182.17" y="230.50" width="28.20" height="28.00" fill="#84cd62" fill-opacity="0.38"/>
<rect x="182.62" y="230.70" width="27.30" height="26.10" fill="url(#g_act)"/>
<rect x="182.62" y="230.70" width="27.30" height="26.10" fill="url(#g_shine)"/>
<rect x="210.37" y="230.50" width="28.20" height="28.00" fill="#84cd62" fill-opacity="0.38"/>
<rect x="210.82" y="230.70" width="27.30" height="26.10" fill="url(#g_act)"/>
<rect x="210.82" y="230.70" width="27.30" height="26.10" fill="url(#g_shine)"/>
<rect x="238.57" y="230.50" width="28.20" height="28.00" fill="#84cd62" fill-opacity="0.38"/>
<rect x="239.02" y="230.70" width="27.30" height="26.10" fill="url(#g_act)"/>
<rect x="239.02" y="230.70" width="27.30" height="26.10" fill="url(#g_shine)"/>
<rect x="266.77" y="230.50" width="28.20" height="28.00" fill="#84cd62" fill-opacity="0.38"/>
<rect x="267.22" y="230.70" width="27.30" height="26.10" fill="url(#g_act)"/>
<rect x="267.22" y="230.70" width="27.30" height="26.10" fill="url(#g_shine)"/>
<rect x="294.97" y="230.50" width="28.20" height="28.00" fill="#84cd62" fill-opacity="0.38"/>
<rect x="295.42" y="230.70" width="27.30" height="26.10" fill="url(#g_act)"/>
<rect x="295.42" y="230.70" width="27.30" height="26.10" fill="url(#g_shine)"/>
<rect x="323.17" y="230.50" width="28.20" height="28.00" fill="#84cd62" fill-opacity="0.38"/>
<rect x="323.62" y="230.70" width="27.30" height="26.10" fill="url(#g_act)"/>
<rect x="323.62" y="230.70" width="27.30" height="26.10" fill="url(#g_shine)"/>
<rect x="351.37" y="230.50" width="28.20" height="28.00" fill="#84cd62" fill-opacity="0.38"/>
<rect x="351.82" y="230.70" width="27.30" height="26.10" fill="url(#g_act)"/>
<rect x="351.82" y="230.70" width="27.30" height="26.10" fill="url(#g_shine)"/>
<rect x="379.57" y="230.50" width="28.20" height="28.00" fill="#84cd62" fill-opacity="0.38"/>
<rect x="380.02" y="230.70" width="27.30" height="26.10" fill="url(#g_act)"/>
<rect x="380.02" y="230.70" width="27.30" height="26.10" fill="url(#g_shine)"/>
<rect x="407.77" y="230.50" width="28.20" height="28.00" fill="#84cd62" fill-opacity="0.38"/>
<rect x="408.22" y="230.70" width="27.30" height="26.10" fill="url(#g_act)"/>
<rect x="408.22" y="230.70" width="27.30" height="26.10" fill="url(#g_shine)"/>
<rect x="435.97" y="230.50" width="28.20" height="28.00" fill="#84cd62" fill-opacity="0.38"/>
<rect x="436.42" y="230.70" width="27.30" height="26.10" fill="url(#g_act)"/>
<rect x="436.42" y="230.70" width="27.30" height="26.10" fill="url(#g_shine)"/>
<rect x="464.17" y="230.50" width="28.20" height="28.00" fill="#84cd62" fill-opacity="0.38"/>
<rect x="464.62" y="230.70" width="27.30" height="26.10" fill="url(#g_act)"/>
<rect x="464.62" y="230.70" width="27.30" height="26.10" fill="url(#g_shine)"/>
<rect x="310.20" y="84.00" width="28.20" height="110.30" fill="url(#g_zn)"/>
<text x="1.60" y="5.20" font-size="4.2" font-weight="bold" fill="#0a0a0a" fill-opacity="0.8">1</text>
<text x="15.30" y="15.80" font-size="11.8" text-anchor="middle" fill="#0a0a0a">H</text>
<text x="15.30" y="20.80" font-size="3.7" text-anchor="middle" fill="#0a0a0a" fill-opacity="0.8">Hydrogen</text>
<text x="15.30" y="24.60" font-size="3.7" text-anchor="middle" fill="#0a0a0a" fill-opacity="0.8">1.008</text>
<text x="481.00" y="5.20" font-size="4.2" font-weight="bold" fill="#0a0a0a" fill-opacity="0.8">2</text>
<text x="494.70" y="15.80" font-size="11.8" text-anchor="middle" fill="#0a0a0a">He</text>
<text x="494.70" y="20.80" font-size="3.7" text-anchor="middle" fill="#0a0a0a" fill-opacity="0.8">Helium</text>
<text x="494.70" y="24.60" font-size="3.7" text-anchor="middle" fill="#0a0a0a" fill-opacity="0.8">4.003</text>
<text x="1.60" y="33.20" font-size="4.2" font-weight="bold" fill="#0a0a0a" fill-opacity="0.8">3</text>
<text x="15.30" y="43.80" font-size="11.8" text-anchor="middle" fill="#0a0a0a">Li</text>
<text x="15.30" y="48.80" font-size="3.7" text-anchor="middle" fill="#0a0a0a" fill-opacity="0.8">Lithium</text>
<text x="15.30" y="52.60" font-size="3.7" text-anchor="middle" fill="#0a0a0a" fill-opacity="0.8">6.941</text>
<text x="29.80" y="33.20" font-size="4.2" font-weight="bold" fill="#0a0a0a" fill-opacity="0.8">4</text>
<text x="43.50" y="43.80" font-size="11.8" text-anchor="middle" fill="#0a0a0a">Be</text>
<text x="43.50" y="48.80" font-size="3.7" text-anchor="middle" fill="#0a0a0a" fill-opacity="0.8">Beryllium</text>
<text x="43.50" y="52.60" font-size="3.7" text-anchor="middle" fill="#0a0a0a" fill-opacity="0.8">9.012</text>
<text x="340.00" y="33.20" font-size="4.2" font-weight="bold" fill="#0a0a0a" fill-opacity="0.8">5</text>
<text x="353.70" y="43.80" font-size="11.8" text-anchor="middle" fill="#0a0a0a">B</text>
<text x="353.70" y="48.80" font-size="3.7" text-anchor="middle" fill="#0a0a0a" fill-opacity="0.8">Boron</text>
<text x="353.70" y="52.60" font-size="3.7" text-anchor="middle" fill="#0a0a0a" fill-opacity="0.8">10.811</text>
<text x="368.20" y="33.20" font-size="4.2" font-weight="bold" fill="#0a0a0a" fill-opacity="0.8">6</text>
<text x="381.90" y="43.80" font-size="11.8" text-anchor="middle" fill="#0a0a0a">C</text>
<text x="381.90" y="48.80" font-size="3.7" text-anchor="middle" fill="#0a0a0a" fill-opacity="0.8">Carbon</text>
<text x="381.90" y="52.60" font-size="3.7" text-anchor="middle" fill="#0a0a0a" fill-opacity="0.8">12.011</text>
<text x="396.40" y="33.20" font-size="4.2" font-weight="bold" fill="#0a0a0a" fill-opacity="0.8">7</text>
<text x="410.10" y="43.80" font-size="11.8" text-anchor="middle" fill="#0a0a0a">N</text>
<text x="410.10" y="48.80" font-size="3.7" text-anchor="middle" fill="#0a0a0a" fill-opacity="0.8">Nitrogen</text>
<text x="410.10" y="52.60" font-size="3.7" text-anchor="middle" fill="#0a0a0a" fill-opacity="0.8">14.007</text>
<text x="424.60" y="33.20" font-size="4.2" font-weight="bold" fill="#0a0a0a" fill-opacity="0.8">8</text>
<text x="438.30" y="43.80" font-size="11.8" text-anchor="middle" fill="#0a0a0a">O</text>
<text x="438.30" y="48.80" font-size="3.7" text-anchor="middle" fill="#0a0a0a" fill-opacity="0.8">Oxygen</text>
<text x="438.30" y="52.60" font-size="3.7" text-anchor="middle" fill="#0a0a0a" fill-opacity="0.8">15.999</text>
<text x="452.80" y="33.20" font-size="4.2" font-weight="bold" fill="#0a0a0a" fill-opacity="0.8">9</text>
<text x="466.50" y="43.80" font-size="11.8" text-anchor="middle" fill="#0a0a0a">F</text>
<text x="466.50" y="48.80" font-size="3.7" text-anchor="middle" fill="#0a0a0a" fill-opacity="0.8">Fluorine</text>
<text x="466.50" y="52.60" font-size="3.7" text-anchor="middle" fill="#0a0a0a" fill-opacity="0.8">18.998</text>
<text x="481.00" y="33.20" font-size="4.2" font-weight="bold" fill="#0a0a0a" fill-opacity="0.8">10</text>
<text x="494.70" y="43.80" font-size="11.8" text-anchor="middle" fill="#0a0a0a">Ne</text>
<text x="494.70" y="48.80" font-size="3.7" text-anchor="middle" fill="#0a0a0a" fill-opacity="0.8">Neon</text>
<text x="494.70" y="52.60" font-size="3.7" text-anchor="middle" fill="#0a0a0a" fill-opacity="0.8">20.180</text>
<text x="1.60" y="61.20" font-size="4.2" font-weight="bold" fill="#0a0a0a" fill-opacity="0.8">11</text>
<text x="15.30" y="71.80" font-size="11.8" text-anchor="middle" fill="#0a0a0a">Na</text>
<text x="15.30" y="76.80" font-size="3.7" text-anchor="middle" fill="#0a0a0a" fill-opacity="0.8">Sodium</text>
<text x="15.30" y="80.60" font-size="3.7" text-anchor="middle" fill="#0a0a0a" fill-opacity="0.8">22.990</text>
<text x="29.80" y="61.20" font-size="4.2" font-weight="bold" fill="#0a0a0a" fill-opacity="0.8">12</text>
<text x="43.50" y="71.80" font-size="11.8" text-anchor="middle" fill="#0a0a0a">Mg</text>
<text x="43.50" y="76.80" font-size="3.7" text-anchor="middle" fill="#0a0a0a" fill-opacity="0.8">Magnesium</text>
<text x="43.50" y="80.60" font-size="3.7" text-anchor="middle" fill="#0a0a0a" fill-opacity="0.8">24.305</text>
<text x="340.00" y="61.20" font-size="4.2" font-weight="bold" fill="#0a0a0a" fill-opacity="0.8">13</text>
<text x="353.70" y="71.80" font-size="11.8" text-anchor="middle" fill="#0a0a0a">Al</text>
<text x="353.70" y="76.80" font-size="3.7" text-anchor="middle" fill="#0a0a0a" fill-opacity="0.8">Aluminum</text>
<text x="353.70" y="80.60" font-size="3.7" text-anchor="middle" fill="#0a0a0a" fill-opacity="0.8">26.982</text>
<text x="368.20" y="61.20" font-size="4.2" font-weight="bold" fill="#0a0a0a" fill-opacity="0.8">14</text>
<text x="381.90" y="71.80" font-size="11.8" text-anchor="middle" fill="#0a0a0a">Si</text>
<text x="381.90" y="76.80" font-size="3.7" text-anchor="middle" fill="#0a0a0a" fill-opacity="0.8">Silicon</text>
<text x="381.90" y="80.60" font-size="3.7" text-anchor="middle" fill="#0a0a0a" fill-opacity="0.8">28.086</text>
<text x="396.40" y="61.20" font-size="4.2" font-weight="bold" fill="#0a0a0a" fill-opacity="0.8">15</text>
<text x="410.10" y="71.80" font-size="11.8" text-anchor="middle" fill="#0a0a0a">P</text>
<text x="410.10" y="76.80" font-size="3.7" text-anchor="middle" fill="#0a0a0a" fill-opacity="0.8">Phosphorus</text>
<text x="410.10" y="80.60" font-size="3.7" text-anchor="middle" fill="#0a0a0a" fill-opacity="0.8">30.974</text>
<text x="424.60" y="61.20" font-size="4.2" font-weight="bold" fill="#0a0a0a" fill-opacity="0.8">16</text>
<text x="438.30" y="71.80" font-size="11.8" text-anchor="middle" fill="#0a0a0a">S</text>
<text x="438.30" y="76.80" font-size="3.7" text-anchor="middle" fill="#0a0a0a" fill-opacity="0.8">Sulfur</text>
<text x="438.30" y="80.60" font-size="3.7" text-anchor="middle" fill="#0a0a0a" fill-opacity="0.8">32.066</text>
<text x="452.80" y="61.20" font-size="4.2" font-weight="bold" fill="#0a0a0a" fill-opacity="0.8">17</text>
<text x="466.50" y="71.80" font-size="11.8" text-anchor="middle" fill="#0a0a0a">Cl</text>
<text x="466.50" y="76.80" font-size="3.7" text-anchor="middle" fill="#0a0a0a" fill-opacity="0.8">Chlorine</text>
<text x="466.50" y="80.60" font-size="3.7" text-anchor="middle" fill="#0a0a0a" fill-opacity="0.8">35.453</text>
<text x="481.00" y="61.20" font-size="4.2" font-weight="bold" fill="#0a0a0a" fill-opacity="0.8">18</text>
<text x="494.70" y="71.80" font-size="11.8" text-anchor="middle" fill="#0a0a0a">Ar</text>
<text x="494.70" y="76.80" font-size="3.7" text-anchor="middle" fill="#0a0a0a" fill-opacity="0.8">Argon</text>
<text x="494.70" y="80.60" font-size="3.7" text-anchor="middle" fill="#0a0a0a" fill-opacity="0.8">39.948</text>
<text x="1.60" y="89.20" font-size="4.2" font-weight="bold" fill="#0a0a0a" fill-opacity="0.8">19</text>
<text x="15.30" y="99.80" font-size="11.8" text-anchor="middle" fill="#0a0a0a">K</text>
<text x="15.30" y="104.80" font-size="3.7" text-anchor="middle" fill="#0a0a0a" fill-opacity="0.8">Potassium</text>
<text x="15.30" y="108.60" font-size="3.7" text-anchor="middle" fill="#0a0a0a" fill-opacity="0.8">39.098</text>
<text x="29.80" y="89.20" font-size="4.2" font-weight="bold" fill="#0a0a0a" fill-opacity="0.8">20</text>
<text x="43.50" y="99.80" font-size="11.8" text-anchor="middle" fill="#0a0a0a">Ca</text>
<text x="43.50" y="104.80" font-size="3.7" text-anchor="middle" fill="#0a0a0a" fill-opacity="0.8">Calcium</text>
<text x="43.50" y="108.60" font-size="3.7" text-anchor="middle" fill="#0a0a0a" fill-opacity="0.8">40.078</text>
<text x="58.00" y="89.20" font-size="4.2" font-weight="bold" fill="#0a0a0a" fill-opacity="0.8">21</text>
<text x="71.70" y="99.80" font-size="11.8" text-anchor="middle" fill="#0a0a0a">Sc</text>
<text x="71.70" y="104.80" font-size="3.7" text-anchor="middle" fill="#0a0a0a" fill-opacity="0.8">Scandium</text>
<text x="71.70" y="108.60" font-size="3.7" text-anchor="middle" fill="#0a0a0a" fill-opacity="0.8">44.956</text>
<text x="86.20" y="89.20" font-size="4.2" font-weight="bold" fill="#0a0a0a" fill-opacity="0.8">22</text>
<text x="99.90" y="99.80" font-size="11.8" text-anchor="middle" fill="#0a0a0a">Ti</text>
<text x="99.90" y="104.80" font-size="3.7" text-anchor="middle" fill="#0a0a0a" fill-opacity="0.8">Titanium</text>
<text x="99.90" y="108.60" font-size="3.7" text-anchor="middle" fill="#0a0a0a" fill-opacity="0.8">47.867</text>
<text x="114.40" y="89.20" font-size="4.2" font-weight="bold" fill="#0a0a0a" fill-opacity="0.8">23</text>
<text x="128.10" y="99.80" font-size="11.8" text-anchor="middle" fill="#0a0a0a">V</text>
<text x="128.10" y="104.80" font-size="3.7" text-anchor="middle" fill="#0a0a0a" fill-opacity="0.8">Vanadium</text>
<text x="128.10" y="108.60" font-size="3.7" text-anchor="middle" fill="#0a0a0a" fill-opacity="0.8">50.942</text>
<text x="142.60" y="89.20" font-size="4.2" font-weight="bold" fill="#0a0a0a" fill-opacity="0.8">24</text>
<text x="156.30" y="99.80" font-size="11.8" text-anchor="middle" fill="#0a0a0a">Cr</text>
<text x="156.30" y="104.80" font-size="3.7" text-anchor="middle" fill="#0a0a0a" fill-opacity="0.8">Chromium</text>
<text x="156.30" y="108.60" font-size="3.7" text-anchor="middle" fill="#0a0a0a" fill-opacity="0.8">51.996</text>
<text x="170.80" y="89.20" font-size="4.2" font-weight="bold" fill="#0a0a0a" fill-opacity="0.8">25</text>
<text x="184.50" y="99.80" font-size="11.8" text-anchor="middle" fill="#0a0a0a">Mn</text>
<text x="184.50" y="104.80" font-size="3.7" text-anchor="middle" fill="#0a0a0a" fill-opacity="0.8">Manganese</text>
<text x="184.50" y="108.60" font-size="3.7" text-anchor="middle" fill="#0a0a0a" fill-opacity="0.8">54.938</text>
<text x="199.00" y="89.20" font-size="4.2" font-weight="bold" fill="#0a0a0a" fill-opacity="0.8">26</text>
<text x="212.70" y="99.80" font-size="11.8" text-anchor="middle" fill="#0a0a0a">Fe</text>
<text x="212.70" y="104.80" font-size="3.7" text-anchor="middle" fill="#0a0a0a" fill-opacity="0.8">Iron</text>
<text x="212.70" y="108.60" font-size="3.7" text-anchor="middle" fill="#0a0a0a" fill-opacity="0.8">55.845</text>
<text x="227.20" y="89.20" font-size="4.2" font-weight="bold" fill="#0a0a0a" fill-opacity="0.8">27</text>
<text x="240.90" y="99.80" font-size="11.8" text-anchor="middle" fill="#0a0a0a">Co</text>
<text x="240.90" y="104.80" font-size="3.7" text-anchor="middle" fill="#0a0a0a" fill-opacity="0.8">Cobalt</text>
<text x="240.90" y="108.60" font-size="3.7" text-anchor="middle" fill="#0a0a0a" fill-opacity="0.8">58.933</text>
<text x="255.40" y="89.20" font-size="4.2" font-weight="bold" fill="#0a0a0a" fill-opacity="0.8">28</text>
<text x="269.10" y="99.80" font-size="11.8" text-anchor="middle" fill="#0a0a0a">Ni</text>
<text x="269.10" y="104.80" font-size="3.7" text-anchor="middle" fill="#0a0a0a" fill-opacity="0.8">Nickel</text>
<text x="269.10" y="108.60" font-size="3.7" text-anchor="middle" fill="#0a0a0a" fill-opacity="0.8">58.693</text>
<text x="283.60" y="89.20" font-size="4.2" font-weight="bold" fill="#0a0a0a" fill-opacity="0.8">29</text>
<text x="297.30" y="99.80" font-size="11.8" text-anchor="middle" fill="#0a0a0a">Cu</text>
<text x="297.30" y="104.80" font-size="3.7" text-anchor="middle" fill="#0a0a0a" fill-opacity="0.8">Copper</text>
<text x="297.30" y="108.60" font-size="3.7" text-anchor="middle" fill="#0a0a0a" fill-opacity="0.8">63.546</text>
<text x="311.80" y="89.20" font-size="4.2" font-weight="bold" fill="#0a0a0a" fill-opacity="0.8">30</text>
<text x="325.50" y="99.80" font-size="11.8" text-anchor="middle" fill="#0a0a0a">Zn</text>
<text x="325.50" y="104.80" font-size="3.7" text-anchor="middle" fill="#0a0a0a" fill-opacity="0.8">Zinc</text>
<text x="325.50" y="108.60" font-size="3.7" text-anchor="middle" fill="#0a0a0a" fill-opacity="0.8">65.38</text>
<text x="340.00" y="89.20" font-size="4.2" font-weight="bold" fill="#0a0a0a" fill-opacity="0.8">31</text>
<text x="353.70" y="99.80" font-size="11.8" text-anchor="middle" fill="#0a0a0a">Ga</text>
<text x="353.70" y="104.80" font-size="3.7" text-anchor="middle" fill="#0a0a0a" fill-opacity="0.8">Gallium</text>
<text x="353.70" y="108.60" font-size="3.7" text-anchor="middle" fill="#0a0a0a" fill-opacity="0.8">69.723</text>
<text x="368.20" y="89.20" font-size="4.2" font-weight="bold" fill="#0a0a0a" fill-opacity="0.8">32</text>
<text x="381.90" y="99.80" font-size="11.8" text-anchor="middle" fill="#0a0a0a">Ge</text>
<text x="381.90" y="104.80" font-size="3.7" text-anchor="middle" fill="#0a0a0a" fill-opacity="0.8">Germanium</text>
<text x="381.90" y="108.60" font-size="3.7" text-anchor="middle" fill="#0a0a0a" fill-opacity="0.8">72.631</text>
<text x="396.40" y="89.20" font-size="4.2" font-weight="bold" fill="#0a0a0a" fill-opacity="0.8">33</text>
<text x="410.10" y="99.80" font-size="11.8" text-anchor="middle" fill="#0a0a0a">As</text>
<text x="410.10" y="104.80" font-size="3.7" text-anchor="middle" fill="#0a0a0a" fill-opacity="0.8">Arsenic</text>
<text x="410.10" y="108.60" font-size="3.7" text-anchor="middle" fill="#0a0a0a" fill-opacity="0.8">74.922</text>
<text x="424.60" y="89.20" font-size="4.2" font-weight="bold" fill="#0a0a0a" fill-opacity="0.8">34</text>
<text x="438.30" y="99.80" font-size="11.8" text-anchor="middle" fill="#0a0a0a">Se</text>
<text x="438.30" y="104.80" font-size="3.7" text-anchor="middle" fill="#0a0a0a" fill-opacity="0.8">Selenium</text>
<text x="438.30" y="108.60" font-size="3.7" text-anchor="middle" fill="#0a0a0a" fill-opacity="0.8">78.971</text>
<text x="452.80" y="89.20" font-size="4.2" font-weight="bold" fill="#0a0a0a" fill-opacity="0.8">35</text>
<text x="466.50" y="99.80" font-size="11.8" text-anchor="middle" fill="#0a0a0a">Br</text>
<text x="466.50" y="104.80" font-size="3.7" text-anchor="middle" fill="#0a0a0a" fill-opacity="0.8">Bromine</text>
<text x="466.50" y="108.60" font-size="3.7" text-anchor="middle" fill="#0a0a0a" fill-opacity="0.8">79.904</text>
<text x="481.00" y="89.20" font-size="4.2" font-weight="bold" fill="#0a0a0a" fill-opacity="0.8">36</text>
<text x="494.70" y="99.80" font-size="11.8" text-anchor="middle" fill="#0a0a0a">Kr</text>
<text x="494.70" y="104.80" font-size="3.7" text-anchor="middle" fill="#0a0a0a" fill-opacity="0.8">Krypton</text>
<text x="494.70" y="108.60" font-size="3.7" text-anchor="middle" fill="#0a0a0a" fill-opacity="0.8">84.798</text>
<text x="1.60" y="117.20" font-size="4.2" font-weight="bold" fill="#0a0a0a" fill-opacity="0.8">37</text>
<text x="15.30" y="127.80" font-size="11.8" text-anchor="middle" fill="#0a0a0a">Rb</text>
<text x="15.30" y="132.80" font-size="3.7" text-anchor="middle" fill="#0a0a0a" fill-opacity="0.8">Rubidium</text>
<text x="15.30" y="136.60" font-size="3.7" text-anchor="middle" fill="#0a0a0a" fill-opacity="0.8">84.468</text>
<text x="29.80" y="117.20" font-size="4.2" font-weight="bold" fill="#0a0a0a" fill-opacity="0.8">38</text>
<text x="43.50" y="127.80" font-size="11.8" text-anchor="middle" fill="#0a0a0a">Sr</text>
<text x="43.50" y="132.80" font-size="3.7" text-anchor="middle" fill="#0a0a0a" fill-opacity="0.8">Strontium</text>
<text x="43.50" y="136.60" font-size="3.7" text-anchor="middle" fill="#0a0a0a" fill-opacity="0.8">87.62</text>
<text x="58.00" y="117.20" font-size="4.2" font-weight="bold" fill="#3c2470" fill-opacity="0.55">39</text>
<text x="71.70" y="127.80" font-size="11.8" text-anchor="middle" fill="#3c2470">Y</text>
<text x="71.70" y="132.80" font-size="3.7" text-anchor="middle" fill="#3c2470" fill-opacity="0.55">Yttrium</text>
<text x="71.70" y="136.60" font-size="3.7" text-anchor="middle" fill="#3c2470" fill-opacity="0.55">88.906</text>
<text x="86.20" y="117.20" font-size="4.2" font-weight="bold" fill="#0a0a0a" fill-opacity="0.8">40</text>
<text x="99.90" y="127.80" font-size="11.8" text-anchor="middle" fill="#0a0a0a">Zr</text>
<text x="99.90" y="132.80" font-size="3.7" text-anchor="middle" fill="#0a0a0a" fill-opacity="0.8">Zirconium</text>
<text x="99.90" y="136.60" font-size="3.7" text-anchor="middle" fill="#0a0a0a" fill-opacity="0.8">91.224</text>
<text x="114.40" y="117.20" font-size="4.2" font-weight="bold" fill="#0a0a0a" fill-opacity="0.8">41</text>
<text x="128.10" y="127.80" font-size="11.8" text-anchor="middle" fill="#0a0a0a">Nb</text>
<text x="128.10" y="132.80" font-size="3.7" text-anchor="middle" fill="#0a0a0a" fill-opacity="0.8">Niobium</text>
<text x="128.10" y="136.60" font-size="3.7" text-anchor="middle" fill="#0a0a0a" fill-opacity="0.8">92.906</text>
<text x="142.60" y="117.20" font-size="4.2" font-weight="bold" fill="#0a0a0a" fill-opacity="0.8">42</text>
<text x="156.30" y="127.80" font-size="11.8" text-anchor="middle" fill="#0a0a0a">Mo</text>
<text x="156.30" y="132.80" font-size="3.7" text-anchor="middle" fill="#0a0a0a" fill-opacity="0.8">Molybdenum</text>
<text x="156.30" y="136.60" font-size="3.7" text-anchor="middle" fill="#0a0a0a" fill-opacity="0.8">95.95</text>
<text x="170.80" y="117.20" font-size="4.2" font-weight="bold" fill="#0a0a0a" fill-opacity="0.8">43</text>
<text x="184.50" y="127.80" font-size="11.8" text-anchor="middle" fill="#0a0a0a">Tc</text>
<text x="184.50" y="132.80" font-size="3.7" text-anchor="middle" fill="#0a0a0a" fill-opacity="0.8">Technetium</text>
<text x="184.50" y="136.60" font-size="3.7" text-anchor="middle" fill="#0a0a0a" fill-opacity="0.8">98.907</text>
<text x="199.00" y="117.20" font-size="4.2" font-weight="bold" fill="#0a0a0a" fill-opacity="0.8">44</text>
<text x="212.70" y="127.80" font-size="11.8" text-anchor="middle" fill="#0a0a0a">Ru</text>
<text x="212.70" y="132.80" font-size="3.7" text-anchor="middle" fill="#0a0a0a" fill-opacity="0.8">Ruthenium</text>
<text x="212.70" y="136.60" font-size="3.7" text-anchor="middle" fill="#0a0a0a" fill-opacity="0.8">101.07</text>
<text x="227.20" y="117.20" font-size="4.2" font-weight="bold" fill="#0a0a0a" fill-opacity="0.8">45</text>
<text x="240.90" y="127.80" font-size="11.8" text-anchor="middle" fill="#0a0a0a">Rh</text>
<text x="240.90" y="132.80" font-size="3.7" text-anchor="middle" fill="#0a0a0a" fill-opacity="0.8">Rhodium</text>
<text x="240.90" y="136.60" font-size="3.7" text-anchor="middle" fill="#0a0a0a" fill-opacity="0.8">102.906</text>
<text x="255.40" y="117.20" font-size="4.2" font-weight="bold" fill="#0a0a0a" fill-opacity="0.8">46</text>
<text x="269.10" y="127.80" font-size="11.8" text-anchor="middle" fill="#0a0a0a">Pd</text>
<text x="269.10" y="132.80" font-size="3.7" text-anchor="middle" fill="#0a0a0a" fill-opacity="0.8">Palladium</text>
<text x="269.10" y="136.60" font-size="3.7" text-anchor="middle" fill="#0a0a0a" fill-opacity="0.8">106.42</text>
<text x="283.60" y="117.20" font-size="4.2" font-weight="bold" fill="#0a0a0a" fill-opacity="0.8">47</text>
<text x="297.30" y="127.80" font-size="11.8" text-anchor="middle" fill="#0a0a0a">Ag</text>
<text x="297.30" y="132.80" font-size="3.7" text-anchor="middle" fill="#0a0a0a" fill-opacity="0.8">Silver</text>
<text x="297.30" y="136.60" font-size="3.7" text-anchor="middle" fill="#0a0a0a" fill-opacity="0.8">107.868</text>
<text x="311.80" y="117.20" font-size="4.2" font-weight="bold" fill="#0a0a0a" fill-opacity="0.8">48</text>
<text x="325.50" y="127.80" font-size="11.8" text-anchor="middle" fill="#0a0a0a">Cd</text>
<text x="325.50" y="132.80" font-size="3.7" text-anchor="middle" fill="#0a0a0a" fill-opacity="0.8">Cadmium</text>
<text x="325.50" y="136.60" font-size="3.7" text-anchor="middle" fill="#0a0a0a" fill-opacity="0.8">112.411</text>
<text x="340.00" y="117.20" font-size="4.2" font-weight="bold" fill="#0a0a0a" fill-opacity="0.8">49</text>
<text x="353.70" y="127.80" font-size="11.8" text-anchor="middle" fill="#0a0a0a">In</text>
<text x="353.70" y="132.80" font-size="3.7" text-anchor="middle" fill="#0a0a0a" fill-opacity="0.8">Indium</text>
<text x="353.70" y="136.60" font-size="3.7" text-anchor="middle" fill="#0a0a0a" fill-opacity="0.8">114.818</text>
<text x="368.20" y="117.20" font-size="4.2" font-weight="bold" fill="#0a0a0a" fill-opacity="0.8">50</text>
<text x="381.90" y="127.80" font-size="11.8" text-anchor="middle" fill="#0a0a0a">Sn</text>
<text x="381.90" y="132.80" font-size="3.7" text-anchor="middle" fill="#0a0a0a" fill-opacity="0.8">Tin</text>
<text x="381.90" y="136.60" font-size="3.7" text-anchor="middle" fill="#0a0a0a" fill-opacity="0.8">118.711</text>
<text x="396.40" y="117.20" font-size="4.2" font-weight="bold" fill="#0a0a0a" fill-opacity="0.8">51</text>
<text x="410.10" y="127.80" font-size="11.8" text-anchor="middle" fill="#0a0a0a">Sb</text>
<text x="410.10" y="132.80" font-size="3.7" text-anchor="middle" fill="#0a0a0a" fill-opacity="0.8">Antimony</text>
<text x="410.10" y="136.60" font-size="3.7" text-anchor="middle" fill="#0a0a0a" fill-opacity="0.8">121.760</text>
<text x="424.60" y="117.20" font-size="4.2" font-weight="bold" fill="#0a0a0a" fill-opacity="0.8">52</text>
<text x="438.30" y="127.80" font-size="11.8" text-anchor="middle" fill="#0a0a0a">Te</text>
<text x="438.30" y="132.80" font-size="3.7" text-anchor="middle" fill="#0a0a0a" fill-opacity="0.8">Tellurium</text>
<text x="438.30" y="136.60" font-size="3.7" text-anchor="middle" fill="#0a0a0a" fill-opacity="0.8">127.6</text>
<text x="452.80" y="117.20" font-size="4.2" font-weight="bold" fill="#0a0a0a" fill-opacity="0.8">53</text>
<text x="466.50" y="127.80" font-size="11.8" text-anchor="middle" fill="#0a0a0a">I</text>
<text x="466.50" y="132.80" font-size="3.7" text-anchor="middle" fill="#0a0a0a" fill-opacity="0.8">Iodine</text>
<text x="466.50" y="136.60" font-size="3.7" text-anchor="middle" fill="#0a0a0a" fill-opacity="0.8">126.904</text>
<text x="481.00" y="117.20" font-size="4.2" font-weight="bold" fill="#0a0a0a" fill-opacity="0.8">54</text>
<text x="494.70" y="127.80" font-size="11.8" text-anchor="middle" fill="#0a0a0a">Xe</text>
<text x="494.70" y="132.80" font-size="3.7" text-anchor="middle" fill="#0a0a0a" fill-opacity="0.8">Xenon</text>
<text x="494.70" y="136.60" font-size="3.7" text-anchor="middle" fill="#0a0a0a" fill-opacity="0.8">131.294</text>
<text x="1.60" y="145.20" font-size="4.2" font-weight="bold" fill="#0a0a0a" fill-opacity="0.8">55</text>
<text x="15.30" y="155.80" font-size="11.8" text-anchor="middle" fill="#0a0a0a">Cs</text>
<text x="15.30" y="160.80" font-size="3.7" text-anchor="middle" fill="#0a0a0a" fill-opacity="0.8">Cesium</text>
<text x="15.30" y="164.60" font-size="3.7" text-anchor="middle" fill="#0a0a0a" fill-opacity="0.8">132.905</text>
<text x="29.80" y="145.20" font-size="4.2" font-weight="bold" fill="#0a0a0a" fill-opacity="0.8">56</text>
<text x="43.50" y="155.80" font-size="11.8" text-anchor="middle" fill="#0a0a0a">Ba</text>
<text x="43.50" y="160.80" font-size="3.7" text-anchor="middle" fill="#0a0a0a" fill-opacity="0.8">Barium</text>
<text x="43.50" y="164.60" font-size="3.7" text-anchor="middle" fill="#0a0a0a" fill-opacity="0.8">137.328</text>
<text x="86.20" y="145.20" font-size="4.2" font-weight="bold" fill="#0a0a0a" fill-opacity="0.8">72</text>
<text x="99.90" y="155.80" font-size="11.8" text-anchor="middle" fill="#0a0a0a">Hf</text>
<text x="99.90" y="160.80" font-size="3.7" text-anchor="middle" fill="#0a0a0a" fill-opacity="0.8">Hafnium</text>
<text x="99.90" y="164.60" font-size="3.7" text-anchor="middle" fill="#0a0a0a" fill-opacity="0.8">178.49</text>
<text x="114.40" y="145.20" font-size="4.2" font-weight="bold" fill="#0a0a0a" fill-opacity="0.8">73</text>
<text x="128.10" y="155.80" font-size="11.8" text-anchor="middle" fill="#0a0a0a">Ta</text>
<text x="128.10" y="160.80" font-size="3.7" text-anchor="middle" fill="#0a0a0a" fill-opacity="0.8">Tantalum</text>
<text x="128.10" y="164.60" font-size="3.7" text-anchor="middle" fill="#0a0a0a" fill-opacity="0.8">180.948</text>
<text x="142.60" y="145.20" font-size="4.2" font-weight="bold" fill="#0a0a0a" fill-opacity="0.8">74</text>
<text x="156.30" y="155.80" font-size="11.8" text-anchor="middle" fill="#0a0a0a">W</text>
<text x="156.30" y="160.80" font-size="3.7" text-anchor="middle" fill="#0a0a0a" fill-opacity="0.8">Tungsten</text>
<text x="156.30" y="164.60" font-size="3.7" text-anchor="middle" fill="#0a0a0a" fill-opacity="0.8">183.84</text>
<text x="170.80" y="145.20" font-size="4.2" font-weight="bold" fill="#0a0a0a" fill-opacity="0.8">75</text>
<text x="184.50" y="155.80" font-size="11.8" text-anchor="middle" fill="#0a0a0a">Re</text>
<text x="184.50" y="160.80" font-size="3.7" text-anchor="middle" fill="#0a0a0a" fill-opacity="0.8">Rhenium</text>
<text x="184.50" y="164.60" font-size="3.7" text-anchor="middle" fill="#0a0a0a" fill-opacity="0.8">186.207</text>
<text x="199.00" y="145.20" font-size="4.2" font-weight="bold" fill="#0a0a0a" fill-opacity="0.8">76</text>
<text x="212.70" y="155.80" font-size="11.8" text-anchor="middle" fill="#0a0a0a">Os</text>
<text x="212.70" y="160.80" font-size="3.7" text-anchor="middle" fill="#0a0a0a" fill-opacity="0.8">Osmium</text>
<text x="212.70" y="164.60" font-size="3.7" text-anchor="middle" fill="#0a0a0a" fill-opacity="0.8">190.23</text>
<text x="227.20" y="145.20" font-size="4.2" font-weight="bold" fill="#0a0a0a" fill-opacity="0.8">77</text>
<text x="240.90" y="155.80" font-size="11.8" text-anchor="middle" fill="#0a0a0a">Ir</text>
<text x="240.90" y="160.80" font-size="3.7" text-anchor="middle" fill="#0a0a0a" fill-opacity="0.8">Iridium</text>
<text x="240.90" y="164.60" font-size="3.7" text-anchor="middle" fill="#0a0a0a" fill-opacity="0.8">192.217</text>
<text x="255.40" y="145.20" font-size="4.2" font-weight="bold" fill="#0a0a0a" fill-opacity="0.8">78</text>
<text x="269.10" y="155.80" font-size="11.8" text-anchor="middle" fill="#0a0a0a">Pt</text>
<text x="269.10" y="160.80" font-size="3.7" text-anchor="middle" fill="#0a0a0a" fill-opacity="0.8">Platinum</text>
<text x="269.10" y="164.60" font-size="3.7" text-anchor="middle" fill="#0a0a0a" fill-opacity="0.8">195.085</text>
<text x="283.60" y="145.20" font-size="4.2" font-weight="bold" fill="#0a0a0a" fill-opacity="0.8">79</text>
<text x="297.30" y="155.80" font-size="11.8" text-anchor="middle" fill="#0a0a0a">Au</text>
<text x="297.30" y="160.80" font-size="3.7" text-anchor="middle" fill="#0a0a0a" fill-opacity="0.8">Gold</text>
<text x="297.30" y="164.60" font-size="3.7" text-anchor="middle" fill="#0a0a0a" fill-opacity="0.8">196.967</text>
<text x="311.80" y="145.20" font-size="4.2" font-weight="bold" fill="#0a0a0a" fill-opacity="0.8">80</text>
<text x="325.50" y="155.80" font-size="11.8" text-anchor="middle" fill="#0a0a0a">Hg</text>
<text x="325.50" y="160.80" font-size="3.7" text-anchor="middle" fill="#0a0a0a" fill-opacity="0.8">Mercury</text>
<text x="325.50" y="164.60" font-size="3.7" text-anchor="middle" fill="#0a0a0a" fill-opacity="0.8">200.592</text>
<text x="340.00" y="145.20" font-size="4.2" font-weight="bold" fill="#0a0a0a" fill-opacity="0.8">81</text>
<text x="353.70" y="155.80" font-size="11.8" text-anchor="middle" fill="#0a0a0a">Tl</text>
<text x="353.70" y="160.80" font-size="3.7" text-anchor="middle" fill="#0a0a0a" fill-opacity="0.8">Thallium</text>
<text x="353.70" y="164.60" font-size="3.7" text-anchor="middle" fill="#0a0a0a" fill-opacity="0.8">204.383</text>
<text x="368.20" y="145.20" font-size="4.2" font-weight="bold" fill="#0a0a0a" fill-opacity="0.8">82</text>
<text x="381.90" y="155.80" font-size="11.8" text-anchor="middle" fill="#0a0a0a">Pb</text>
<text x="381.90" y="160.80" font-size="3.7" text-anchor="middle" fill="#0a0a0a" fill-opacity="0.8">Lead</text>
<text x="381.90" y="164.60" font-size="3.7" text-anchor="middle" fill="#0a0a0a" fill-opacity="0.8">207.2</text>
<text x="396.40" y="145.20" font-size="4.2" font-weight="bold" fill="#0a0a0a" fill-opacity="0.8">83</text>
<text x="410.10" y="155.80" font-size="11.8" text-anchor="middle" fill="#0a0a0a">Bi</text>
<text x="410.10" y="160.80" font-size="3.7" text-anchor="middle" fill="#0a0a0a" fill-opacity="0.8">Bismuth</text>
<text x="410.10" y="164.60" font-size="3.7" text-anchor="middle" fill="#0a0a0a" fill-opacity="0.8">208.980</text>
<text x="424.60" y="145.20" font-size="4.2" font-weight="bold" fill="#0a0a0a" fill-opacity="0.8">84</text>
<text x="438.30" y="155.80" font-size="11.8" text-anchor="middle" fill="#0a0a0a">Po</text>
<text x="438.30" y="160.80" font-size="3.7" text-anchor="middle" fill="#0a0a0a" fill-opacity="0.8">Polonium</text>
<text x="438.30" y="164.60" font-size="3.7" text-anchor="middle" fill="#0a0a0a" fill-opacity="0.8">[208.982]</text>
<text x="452.80" y="145.20" font-size="4.2" font-weight="bold" fill="#0a0a0a" fill-opacity="0.8">85</text>
<text x="466.50" y="155.80" font-size="11.8" text-anchor="middle" fill="#0a0a0a">At</text>
<text x="466.50" y="160.80" font-size="3.7" text-anchor="middle" fill="#0a0a0a" fill-opacity="0.8">Astatine</text>
<text x="466.50" y="164.60" font-size="3.7" text-anchor="middle" fill="#0a0a0a" fill-opacity="0.8">209.987</text>
<text x="481.00" y="145.20" font-size="4.2" font-weight="bold" fill="#0a0a0a" fill-opacity="0.8">86</text>
<text x="494.70" y="155.80" font-size="11.8" text-anchor="middle" fill="#0a0a0a">Rn</text>
<text x="494.70" y="160.80" font-size="3.7" text-anchor="middle" fill="#0a0a0a" fill-opacity="0.8">Radon</text>
<text x="494.70" y="164.60" font-size="3.7" text-anchor="middle" fill="#0a0a0a" fill-opacity="0.8">222.018</text>
<text x="1.60" y="173.20" font-size="4.2" font-weight="bold" fill="#0a0a0a" fill-opacity="0.8">87</text>
<text x="15.30" y="183.80" font-size="11.8" text-anchor="middle" fill="#0a0a0a">Fr</text>
<text x="15.30" y="188.80" font-size="3.7" text-anchor="middle" fill="#0a0a0a" fill-opacity="0.8">Francium</text>
<text x="15.30" y="192.60" font-size="3.7" text-anchor="middle" fill="#0a0a0a" fill-opacity="0.8">223.020</text>
<text x="29.80" y="173.20" font-size="4.2" font-weight="bold" fill="#0a0a0a" fill-opacity="0.8">88</text>
<text x="43.50" y="183.80" font-size="11.8" text-anchor="middle" fill="#0a0a0a">Ra</text>
<text x="43.50" y="188.80" font-size="3.7" text-anchor="middle" fill="#0a0a0a" fill-opacity="0.8">Radium</text>
<text x="43.50" y="192.60" font-size="3.7" text-anchor="middle" fill="#0a0a0a" fill-opacity="0.8">226.025</text>
<text x="86.20" y="173.20" font-size="4.2" font-weight="bold" fill="#0a0a0a" fill-opacity="0.8">104</text>
<text x="99.90" y="183.80" font-size="11.8" text-anchor="middle" fill="#0a0a0a">Rf</text>
<text x="99.90" y="188.80" font-size="3.7" text-anchor="middle" fill="#0a0a0a" fill-opacity="0.8">Rutherfordium</text>
<text x="99.90" y="192.60" font-size="3.7" text-anchor="middle" fill="#0a0a0a" fill-opacity="0.8">[261]</text>
<text x="114.40" y="173.20" font-size="4.2" font-weight="bold" fill="#0a0a0a" fill-opacity="0.8">105</text>
<text x="128.10" y="183.80" font-size="11.8" text-anchor="middle" fill="#0a0a0a">Db</text>
<text x="128.10" y="188.80" font-size="3.7" text-anchor="middle" fill="#0a0a0a" fill-opacity="0.8">Dubnium</text>
<text x="128.10" y="192.60" font-size="3.7" text-anchor="middle" fill="#0a0a0a" fill-opacity="0.8">[262]</text>
<text x="142.60" y="173.20" font-size="4.2" font-weight="bold" fill="#0a0a0a" fill-opacity="0.8">106</text>
<text x="156.30" y="183.80" font-size="11.8" text-anchor="middle" fill="#0a0a0a">Sg</text>
<text x="156.30" y="188.80" font-size="3.7" text-anchor="middle" fill="#0a0a0a" fill-opacity="0.8">Seaborgium</text>
<text x="156.30" y="192.60" font-size="3.7" text-anchor="middle" fill="#0a0a0a" fill-opacity="0.8">[266]</text>
<text x="170.80" y="173.20" font-size="4.2" font-weight="bold" fill="#0a0a0a" fill-opacity="0.8">107</text>
<text x="184.50" y="183.80" font-size="11.8" text-anchor="middle" fill="#0a0a0a">Bh</text>
<text x="184.50" y="188.80" font-size="3.7" text-anchor="middle" fill="#0a0a0a" fill-opacity="0.8">Bohrium</text>
<text x="184.50" y="192.60" font-size="3.7" text-anchor="middle" fill="#0a0a0a" fill-opacity="0.8">[264]</text>
<text x="199.00" y="173.20" font-size="4.2" font-weight="bold" fill="#0a0a0a" fill-opacity="0.8">108</text>
<text x="212.70" y="183.80" font-size="11.8" text-anchor="middle" fill="#0a0a0a">Hs</text>
<text x="212.70" y="188.80" font-size="3.7" text-anchor="middle" fill="#0a0a0a" fill-opacity="0.8">Hassium</text>
<text x="212.70" y="192.60" font-size="3.7" text-anchor="middle" fill="#0a0a0a" fill-opacity="0.8">[269]</text>
<text x="227.20" y="173.20" font-size="4.2" font-weight="bold" fill="#0a0a0a" fill-opacity="0.8">109</text>
<text x="240.90" y="183.80" font-size="11.8" text-anchor="middle" fill="#0a0a0a">Mt</text>
<text x="240.90" y="188.80" font-size="3.7" text-anchor="middle" fill="#0a0a0a" fill-opacity="0.8">Meitnerium</text>
<text x="240.90" y="192.60" font-size="3.7" text-anchor="middle" fill="#0a0a0a" fill-opacity="0.8">[268]</text>
<text x="255.40" y="173.20" font-size="4.2" font-weight="bold" fill="#0a0a0a" fill-opacity="0.8">110</text>
<text x="269.10" y="183.80" font-size="11.8" text-anchor="middle" fill="#0a0a0a">Ds</text>
<text x="269.10" y="188.80" font-size="3.7" text-anchor="middle" fill="#0a0a0a" fill-opacity="0.8">Darmstadtium</text>
<text x="269.10" y="192.60" font-size="3.7" text-anchor="middle" fill="#0a0a0a" fill-opacity="0.8">[269]</text>
<text x="283.60" y="173.20" font-size="4.2" font-weight="bold" fill="#0a0a0a" fill-opacity="0.8">111</text>
<text x="297.30" y="183.80" font-size="11.8" text-anchor="middle" fill="#0a0a0a">Rg</text>
<text x="297.30" y="188.80" font-size="3.7" text-anchor="middle" fill="#0a0a0a" fill-opacity="0.8">Roentgenium</text>
<text x="297.30" y="192.60" font-size="3.7" text-anchor="middle" fill="#0a0a0a" fill-opacity="0.8">[272]</text>
<text x="311.80" y="173.20" font-size="4.2" font-weight="bold" fill="#0a0a0a" fill-opacity="0.8">112</text>
<text x="325.50" y="183.80" font-size="11.8" text-anchor="middle" fill="#0a0a0a">Cn</text>
<text x="325.50" y="188.80" font-size="3.7" text-anchor="middle" fill="#0a0a0a" fill-opacity="0.8">Copernicium</text>
<text x="325.50" y="192.60" font-size="3.7" text-anchor="middle" fill="#0a0a0a" fill-opacity="0.8">[277]</text>
<text x="340.00" y="173.20" font-size="4.2" font-weight="bold" fill="#0a0a0a" fill-opacity="0.8">113</text>
<text x="353.70" y="183.80" font-size="10.8" text-anchor="middle" fill="#0a0a0a">Uut</text>
<text x="353.70" y="188.80" font-size="3.7" text-anchor="middle" fill="#0a0a0a" fill-opacity="0.8">Ununtrium</text>
<text x="353.70" y="192.60" font-size="3.7" text-anchor="middle" fill="#0a0a0a" fill-opacity="0.8">unknown</text>
<text x="368.20" y="173.20" font-size="4.2" font-weight="bold" fill="#0a0a0a" fill-opacity="0.8">114</text>
<text x="381.90" y="183.80" font-size="11.8" text-anchor="middle" fill="#0a0a0a">Fl</text>
<text x="381.90" y="188.80" font-size="3.7" text-anchor="middle" fill="#0a0a0a" fill-opacity="0.8">Flerovium</text>
<text x="381.90" y="192.60" font-size="3.7" text-anchor="middle" fill="#0a0a0a" fill-opacity="0.8">[289]</text>
<text x="396.40" y="173.20" font-size="4.2" font-weight="bold" fill="#0a0a0a" fill-opacity="0.8">115</text>
<text x="410.10" y="183.80" font-size="10.8" text-anchor="middle" fill="#0a0a0a">Uup</text>
<text x="410.10" y="188.80" font-size="3.7" text-anchor="middle" fill="#0a0a0a" fill-opacity="0.8">Ununpentium</text>
<text x="410.10" y="192.60" font-size="3.7" text-anchor="middle" fill="#0a0a0a" fill-opacity="0.8">unknown</text>
<text x="424.60" y="173.20" font-size="4.2" font-weight="bold" fill="#0a0a0a" fill-opacity="0.8">116</text>
<text x="438.30" y="183.80" font-size="11.8" text-anchor="middle" fill="#0a0a0a">Lv</text>
<text x="438.30" y="188.80" font-size="3.7" text-anchor="middle" fill="#0a0a0a" fill-opacity="0.8">Livermorium</text>
<text x="438.30" y="192.60" font-size="3.7" text-anchor="middle" fill="#0a0a0a" fill-opacity="0.8">[298]</text>
<text x="452.80" y="173.20" font-size="4.2" font-weight="bold" fill="#0a0a0a" fill-opacity="0.8">117</text>
<text x="466.50" y="183.80" font-size="10.8" text-anchor="middle" fill="#0a0a0a">Uus</text>
<text x="466.50" y="188.80" font-size="3.7" text-anchor="middle" fill="#0a0a0a" fill-opacity="0.8">Ununseptium</text>
<text x="466.50" y="192.60" font-size="3.7" text-anchor="middle" fill="#0a0a0a" fill-opacity="0.8">unknown</text>
<text x="481.00" y="173.20" font-size="4.2" font-weight="bold" fill="#0a0a0a" fill-opacity="0.8">118</text>
<text x="494.70" y="183.80" font-size="10.8" text-anchor="middle" fill="#0a0a0a">Uuo</text>
<text x="494.70" y="188.80" font-size="3.7" text-anchor="middle" fill="#0a0a0a" fill-opacity="0.8">Ununoctium</text>
<text x="494.70" y="192.60" font-size="3.7" text-anchor="middle" fill="#0a0a0a" fill-opacity="0.8">unknown</text>
<text x="70.97" y="207.45" font-size="4.2" font-weight="bold" fill="#0a0a0a" fill-opacity="0.8">57</text>
<text x="84.67" y="218.05" font-size="11.8" text-anchor="middle" fill="#0a0a0a">La</text>
<text x="84.67" y="223.05" font-size="3.7" text-anchor="middle" fill="#0a0a0a" fill-opacity="0.8">Lanthanum</text>
<text x="84.67" y="226.85" font-size="3.7" text-anchor="middle" fill="#0a0a0a" fill-opacity="0.8">138.905</text>
<text x="99.17" y="207.45" font-size="4.2" font-weight="bold" fill="#0a0a0a" fill-opacity="0.8">58</text>
<text x="112.87" y="218.05" font-size="11.8" text-anchor="middle" fill="#0a0a0a">Ce</text>
<text x="112.87" y="223.05" font-size="3.7" text-anchor="middle" fill="#0a0a0a" fill-opacity="0.8">Cerium</text>
<text x="112.87" y="226.85" font-size="3.7" text-anchor="middle" fill="#0a0a0a" fill-opacity="0.8">140.116</text>
<text x="127.37" y="207.45" font-size="4.2" font-weight="bold" fill="#0a0a0a" fill-opacity="0.8">59</text>
<text x="141.07" y="218.05" font-size="11.8" text-anchor="middle" fill="#0a0a0a">Pr</text>
<text x="141.07" y="223.05" font-size="3.7" text-anchor="middle" fill="#0a0a0a" fill-opacity="0.8">Praseodymium</text>
<text x="141.07" y="226.85" font-size="3.7" text-anchor="middle" fill="#0a0a0a" fill-opacity="0.8">140.908</text>
<text x="155.57" y="207.45" font-size="4.2" font-weight="bold" fill="#0a0a0a" fill-opacity="0.8">60</text>
<text x="169.27" y="218.05" font-size="11.8" text-anchor="middle" fill="#0a0a0a">Nd</text>
<text x="169.27" y="223.05" font-size="3.7" text-anchor="middle" fill="#0a0a0a" fill-opacity="0.8">Neodymium</text>
<text x="169.27" y="226.85" font-size="3.7" text-anchor="middle" fill="#0a0a0a" fill-opacity="0.8">144.243</text>
<text x="183.77" y="207.45" font-size="4.2" font-weight="bold" fill="#0a0a0a" fill-opacity="0.8">61</text>
<text x="197.47" y="218.05" font-size="11.8" text-anchor="middle" fill="#0a0a0a">Pm</text>
<text x="197.47" y="223.05" font-size="3.7" text-anchor="middle" fill="#0a0a0a" fill-opacity="0.8">Promethium</text>
<text x="197.47" y="226.85" font-size="3.7" text-anchor="middle" fill="#0a0a0a" fill-opacity="0.8">144.913</text>
<text x="211.97" y="207.45" font-size="4.2" font-weight="bold" fill="#0a0a0a" fill-opacity="0.8">62</text>
<text x="225.67" y="218.05" font-size="11.8" text-anchor="middle" fill="#0a0a0a">Sm</text>
<text x="225.67" y="223.05" font-size="3.7" text-anchor="middle" fill="#0a0a0a" fill-opacity="0.8">Samarium</text>
<text x="225.67" y="226.85" font-size="3.7" text-anchor="middle" fill="#0a0a0a" fill-opacity="0.8">150.36</text>
<text x="240.17" y="207.45" font-size="4.2" font-weight="bold" fill="#0a0a0a" fill-opacity="0.8">63</text>
<text x="253.87" y="218.05" font-size="11.8" text-anchor="middle" fill="#0a0a0a">Eu</text>
<text x="253.87" y="223.05" font-size="3.7" text-anchor="middle" fill="#0a0a0a" fill-opacity="0.8">Europium</text>
<text x="253.87" y="226.85" font-size="3.7" text-anchor="middle" fill="#0a0a0a" fill-opacity="0.8">151.964</text>
<text x="268.37" y="207.45" font-size="4.2" font-weight="bold" fill="#3c2470" fill-opacity="0.55">64</text>
<text x="282.07" y="218.05" font-size="11.8" text-anchor="middle" fill="#3c2470">Gd</text>
<text x="282.07" y="223.05" font-size="3.7" text-anchor="middle" fill="#3c2470" fill-opacity="0.55">Gadolinium</text>
<text x="282.07" y="226.85" font-size="3.7" text-anchor="middle" fill="#3c2470" fill-opacity="0.55">157.25</text>
<text x="296.57" y="207.45" font-size="4.2" font-weight="bold" fill="#3c2470" fill-opacity="0.55">65</text>
<text x="310.27" y="218.05" font-size="11.8" text-anchor="middle" fill="#3c2470">Tb</text>
<text x="310.27" y="223.05" font-size="3.7" text-anchor="middle" fill="#3c2470" fill-opacity="0.55">Terbium</text>
<text x="310.27" y="226.85" font-size="3.7" text-anchor="middle" fill="#3c2470" fill-opacity="0.55">158.925</text>
<text x="324.77" y="207.45" font-size="4.2" font-weight="bold" fill="#3c2470" fill-opacity="0.55">66</text>
<text x="338.47" y="218.05" font-size="11.8" text-anchor="middle" fill="#3c2470">Dy</text>
<text x="338.47" y="223.05" font-size="3.7" text-anchor="middle" fill="#3c2470" fill-opacity="0.55">Dysprosium</text>
<text x="338.47" y="226.85" font-size="3.7" text-anchor="middle" fill="#3c2470" fill-opacity="0.55">162.500</text>
<text x="352.97" y="207.45" font-size="4.2" font-weight="bold" fill="#0a0a0a" fill-opacity="0.8">67</text>
<text x="366.67" y="218.05" font-size="11.8" text-anchor="middle" fill="#0a0a0a">Ho</text>
<text x="366.67" y="223.05" font-size="3.7" text-anchor="middle" fill="#0a0a0a" fill-opacity="0.8">Holmium</text>
<text x="366.67" y="226.85" font-size="3.7" text-anchor="middle" fill="#0a0a0a" fill-opacity="0.8">164.930</text>
<text x="381.17" y="207.45" font-size="4.2" font-weight="bold" fill="#0a0a0a" fill-opacity="0.8">68</text>
<text x="394.87" y="218.05" font-size="11.8" text-anchor="middle" fill="#0a0a0a">Er</text>
<text x="394.87" y="223.05" font-size="3.7" text-anchor="middle" fill="#0a0a0a" fill-opacity="0.8">Erbium</text>
<text x="394.87" y="226.85" font-size="3.7" text-anchor="middle" fill="#0a0a0a" fill-opacity="0.8">167.259</text>
<text x="409.37" y="207.45" font-size="4.2" font-weight="bold" fill="#3c2470" fill-opacity="0.55">69</text>
<text x="423.07" y="218.05" font-size="11.8" text-anchor="middle" fill="#3c2470">Tm</text>
<text x="423.07" y="223.05" font-size="3.7" text-anchor="middle" fill="#3c2470" fill-opacity="0.55">Thulium</text>
<text x="423.07" y="226.85" font-size="3.7" text-anchor="middle" fill="#3c2470" fill-opacity="0.55">168.934</text>
<text x="437.57" y="207.45" font-size="4.2" font-weight="bold" fill="#0a0a0a" fill-opacity="0.8">70</text>
<text x="451.27" y="218.05" font-size="11.8" text-anchor="middle" fill="#0a0a0a">Yb</text>
<text x="451.27" y="223.05" font-size="3.7" text-anchor="middle" fill="#0a0a0a" fill-opacity="0.8">Ytterbium</text>
<text x="451.27" y="226.85" font-size="3.7" text-anchor="middle" fill="#0a0a0a" fill-opacity="0.8">173.055</text>
<text x="465.77" y="207.45" font-size="4.2" font-weight="bold" fill="#3c2470" fill-opacity="0.55">71</text>
<text x="479.47" y="218.05" font-size="11.8" text-anchor="middle" fill="#3c2470">Lu</text>
<text x="479.47" y="223.05" font-size="3.7" text-anchor="middle" fill="#3c2470" fill-opacity="0.55">Lutetium</text>
<text x="479.47" y="226.85" font-size="3.7" text-anchor="middle" fill="#3c2470" fill-opacity="0.55">174.967</text>
<text x="70.97" y="235.70" font-size="4.2" font-weight="bold" fill="#0a0a0a" fill-opacity="0.8">89</text>
<text x="84.67" y="246.30" font-size="11.8" text-anchor="middle" fill="#0a0a0a">Ac</text>
<text x="84.67" y="251.30" font-size="3.7" text-anchor="middle" fill="#0a0a0a" fill-opacity="0.8">Actinium</text>
<text x="84.67" y="255.10" font-size="3.7" text-anchor="middle" fill="#0a0a0a" fill-opacity="0.8">227.028</text>
<text x="99.17" y="235.70" font-size="4.2" font-weight="bold" fill="#0a0a0a" fill-opacity="0.8">90</text>
<text x="112.87" y="246.30" font-size="11.8" text-anchor="middle" fill="#0a0a0a">Th</text>
<text x="112.87" y="251.30" font-size="3.7" text-anchor="middle" fill="#0a0a0a" fill-opacity="0.8">Thorium</text>
<text x="112.87" y="255.10" font-size="3.7" text-anchor="middle" fill="#0a0a0a" fill-opacity="0.8">232.038</text>
<text x="127.37" y="235.70" font-size="4.2" font-weight="bold" fill="#0a0a0a" fill-opacity="0.8">91</text>
<text x="141.07" y="246.30" font-size="11.8" text-anchor="middle" fill="#0a0a0a">Pa</text>
<text x="141.07" y="251.30" font-size="3.7" text-anchor="middle" fill="#0a0a0a" fill-opacity="0.8">Protactinium</text>
<text x="141.07" y="255.10" font-size="3.7" text-anchor="middle" fill="#0a0a0a" fill-opacity="0.8">231.036</text>
<text x="155.57" y="235.70" font-size="4.2" font-weight="bold" fill="#0a0a0a" fill-opacity="0.8">92</text>
<text x="169.27" y="246.30" font-size="11.8" text-anchor="middle" fill="#0a0a0a">U</text>
<text x="169.27" y="251.30" font-size="3.7" text-anchor="middle" fill="#0a0a0a" fill-opacity="0.8">Uranium</text>
<text x="169.27" y="255.10" font-size="3.7" text-anchor="middle" fill="#0a0a0a" fill-opacity="0.8">238.029</text>
<text x="183.77" y="235.70" font-size="4.2" font-weight="bold" fill="#0a0a0a" fill-opacity="0.8">93</text>
<text x="197.47" y="246.30" font-size="11.8" text-anchor="middle" fill="#0a0a0a">Np</text>
<text x="197.47" y="251.30" font-size="3.7" text-anchor="middle" fill="#0a0a0a" fill-opacity="0.8">Neptunium</text>
<text x="197.47" y="255.10" font-size="3.7" text-anchor="middle" fill="#0a0a0a" fill-opacity="0.8">237.048</text>
<text x="211.97" y="235.70" font-size="4.2" font-weight="bold" fill="#0a0a0a" fill-opacity="0.8">94</text>
<text x="225.67" y="246.30" font-size="11.8" text-anchor="middle" fill="#0a0a0a">Pu</text>
<text x="225.67" y="251.30" font-size="3.7" text-anchor="middle" fill="#0a0a0a" fill-opacity="0.8">Plutonium</text>
<text x="225.67" y="255.10" font-size="3.7" text-anchor="middle" fill="#0a0a0a" fill-opacity="0.8">244.064</text>
<text x="240.17" y="235.70" font-size="4.2" font-weight="bold" fill="#0a0a0a" fill-opacity="0.8">95</text>
<text x="253.87" y="246.30" font-size="11.8" text-anchor="middle" fill="#0a0a0a">Am</text>
<text x="253.87" y="251.30" font-size="3.7" text-anchor="middle" fill="#0a0a0a" fill-opacity="0.8">Americium</text>
<text x="253.87" y="255.10" font-size="3.7" text-anchor="middle" fill="#0a0a0a" fill-opacity="0.8">243.061</text>
<text x="268.37" y="235.70" font-size="4.2" font-weight="bold" fill="#0a0a0a" fill-opacity="0.8">96</text>
<text x="282.07" y="246.30" font-size="11.8" text-anchor="middle" fill="#0a0a0a">Cm</text>
<text x="282.07" y="251.30" font-size="3.7" text-anchor="middle" fill="#0a0a0a" fill-opacity="0.8">Curium</text>
<text x="282.07" y="255.10" font-size="3.7" text-anchor="middle" fill="#0a0a0a" fill-opacity="0.8">247.070</text>
<text x="296.57" y="235.70" font-size="4.2" font-weight="bold" fill="#0a0a0a" fill-opacity="0.8">97</text>
<text x="310.27" y="246.30" font-size="11.8" text-anchor="middle" fill="#0a0a0a">Bk</text>
<text x="310.27" y="251.30" font-size="3.7" text-anchor="middle" fill="#0a0a0a" fill-opacity="0.8">Berkelium</text>
<text x="310.27" y="255.10" font-size="3.7" text-anchor="middle" fill="#0a0a0a" fill-opacity="0.8">247.070</text>
<text x="324.77" y="235.70" font-size="4.2" font-weight="bold" fill="#0a0a0a" fill-opacity="0.8">98</text>
<text x="338.47" y="246.30" font-size="11.8" text-anchor="middle" fill="#0a0a0a">Cf</text>
<text x="338.47" y="251.30" font-size="3.7" text-anchor="middle" fill="#0a0a0a" fill-opacity="0.8">Californium</text>
<text x="338.47" y="255.10" font-size="3.7" text-anchor="middle" fill="#0a0a0a" fill-opacity="0.8">251.080</text>
<text x="352.97" y="235.70" font-size="4.2" font-weight="bold" fill="#0a0a0a" fill-opacity="0.8">99</text>
<text x="366.67" y="246.30" font-size="11.8" text-anchor="middle" fill="#0a0a0a">Es</text>
<text x="366.67" y="251.30" font-size="3.7" text-anchor="middle" fill="#0a0a0a" fill-opacity="0.8">Einsteinium</text>
<text x="366.67" y="255.10" font-size="3.7" text-anchor="middle" fill="#0a0a0a" fill-opacity="0.8">[254]</text>
<text x="381.17" y="235.70" font-size="4.2" font-weight="bold" fill="#0a0a0a" fill-opacity="0.8">100</text>
<text x="394.87" y="246.30" font-size="11.8" text-anchor="middle" fill="#0a0a0a">Fm</text>
<text x="394.87" y="251.30" font-size="3.7" text-anchor="middle" fill="#0a0a0a" fill-opacity="0.8">Fermium</text>
<text x="394.87" y="255.10" font-size="3.7" text-anchor="middle" fill="#0a0a0a" fill-opacity="0.8">257.095</text>
<text x="409.37" y="235.70" font-size="4.2" font-weight="bold" fill="#0a0a0a" fill-opacity="0.8">101</text>
<text x="423.07" y="246.30" font-size="11.8" text-anchor="middle" fill="#0a0a0a">Md</text>
<text x="423.07" y="251.30" font-size="3.7" text-anchor="middle" fill="#0a0a0a" fill-opacity="0.8">Mendelevium</text>
<text x="423.07" y="255.10" font-size="3.7" text-anchor="middle" fill="#0a0a0a" fill-opacity="0.8">258.1</text>
<text x="437.57" y="235.70" font-size="4.2" font-weight="bold" fill="#0a0a0a" fill-opacity="0.8">102</text>
<text x="451.27" y="246.30" font-size="11.8" text-anchor="middle" fill="#0a0a0a">No</text>
<text x="451.27" y="251.30" font-size="3.7" text-anchor="middle" fill="#0a0a0a" fill-opacity="0.8">Nobelium</text>
<text x="451.27" y="255.10" font-size="3.7" text-anchor="middle" fill="#0a0a0a" fill-opacity="0.8">259.101</text>
<text x="465.77" y="235.70" font-size="4.2" font-weight="bold" fill="#0a0a0a" fill-opacity="0.8">103</text>
<text x="479.47" y="246.30" font-size="11.8" text-anchor="middle" fill="#0a0a0a">Lr</text>
<text x="479.47" y="251.30" font-size="3.7" text-anchor="middle" fill="#0a0a0a" fill-opacity="0.8">Lawrencium</text>
<text x="479.47" y="255.10" font-size="3.7" text-anchor="middle" fill="#0a0a0a" fill-opacity="0.8">[262]</text>
<rect x="56.40" y="140.00" width="28.20" height="28.00" fill="#addf4c" fill-opacity="0.38"/>
<rect x="56.85" y="140.20" width="27.30" height="26.10" fill="url(#g_lan)"/>
<rect x="56.85" y="140.20" width="27.30" height="26.10" fill="url(#g_shine)"/>
<text x="58.00" y="145.20" font-size="4.2" font-weight="bold" fill="#111" fill-opacity="0.8">57-71</text>
<rect x="56.40" y="168.00" width="28.20" height="28.00" fill="#84cd62" fill-opacity="0.38"/>
<rect x="56.85" y="168.20" width="27.30" height="26.10" fill="url(#g_act)"/>
<rect x="56.85" y="168.20" width="27.30" height="26.10" fill="url(#g_shine)"/>
<text x="58.00" y="173.20" font-size="4.2" font-weight="bold" fill="#111" fill-opacity="0.8">89-103</text>
</g>
<text font-family="Liberation Sans, sans-serif" font-weight="bold" font-style="italic" font-size="5.6" fill="#111" transform="translate(35.5,477.8) skewX(-14)" textLength="25.5" lengthAdjust="spacingAndGlyphs">Lanthanide</text>
<text font-family="Liberation Sans, sans-serif" font-weight="bold" font-style="italic" font-size="5.6" fill="#111" transform="translate(39.5,484.3) skewX(-14)" textLength="13.5" lengthAdjust="spacingAndGlyphs">Series</text>
<text font-family="Liberation Sans, sans-serif" font-weight="bold" font-style="italic" font-size="5.6" fill="#111" transform="translate(25.8,505.6) skewX(-14)" textLength="20.5" lengthAdjust="spacingAndGlyphs">Actinide</text>
<text font-family="Liberation Sans, sans-serif" font-weight="bold" font-style="italic" font-size="5.6" fill="#111" transform="translate(26.8,512.3) skewX(-14)" textLength="13.5" lengthAdjust="spacingAndGlyphs">Series</text>
<text font-family="Liberation Sans, sans-serif" font-style="italic" font-size="3.3" fill="#333" x="439" y="533.6" textLength="36" lengthAdjust="spacingAndGlyphs">© 2014 Todd Helmenstine</text>
<text font-family="Liberation Sans, sans-serif" font-style="italic" font-size="3.3" fill="#333" x="451" y="539.2" textLength="23" lengthAdjust="spacingAndGlyphs">sciencenotes.org</text>
<g transform="matrix(1,0,-0.33,1,55.80,526.70)" font-family="Liberation Sans, sans-serif" font-weight="bold" font-size="4.4" text-anchor="middle" fill="#111">
<rect x="0.00" y="0" width="28.5" height="14.6" fill="url(#g_alk)"/>
<text x="15.50" y="6.2">Alkali</text><text x="15.50" y="11.4">Metal</text>
<rect x="34.10" y="0" width="28.5" height="14.6" fill="url(#g_ae)"/>
<text x="49.60" y="6.2">Alkaline</text><text x="49.60" y="11.4">Earth</text>
<rect x="68.20" y="0" width="28.5" height="14.6" fill="url(#g_tm)"/>
<text x="83.70" y="6.2">Transition</text><text x="83.70" y="11.4">Metal</text>
<rect x="102.30" y="0" width="28.5" height="14.6" fill="url(#g_bm)"/>
<text x="117.80" y="6.2">Basic</text><text x="117.80" y="11.4">Metal</text>
<rect x="136.40" y="0" width="28.5" height="14.6" fill="url(#g_sm)"/>
<text x="151.90" y="8.8">Semimetal</text>
<rect x="170.50" y="0" width="28.5" height="14.6" fill="url(#g_nm)"/>
<text x="186.00" y="8.8">Nonmetal</text>
<rect x="204.60" y="0" width="28.5" height="14.6" fill="url(#g_hal)"/>
<text x="220.10" y="8.8">Halogen</text>
<rect x="238.70" y="0" width="28.5" height="14.6" fill="url(#g_ng)"/>
<text x="254.20" y="6.2">Noble</text><text x="254.20" y="11.4">Gas</text>
<rect x="272.80" y="0" width="28.5" height="14.6" fill="url(#g_lan)"/>
<text x="288.30" y="8.8">Lanthanide</text>
<rect x="306.90" y="0" width="28.5" height="14.6" fill="url(#g_act)"/>
<text x="322.40" y="8.8">Actinide</text>
</g>
<polygon points="138.5,29.9 363.5,29.9 363.5,348.2 138.5,348.2" fill="#c8c8c8" fill-opacity="0.40"/>
<polygon points="138.5,29.9 126.2,56.7 126.2,375.0 138.5,348.2" fill="#c8c8c8" fill-opacity="0.28"/>
<polygon points="351.2,56.7 363.5,29.9 363.5,348.2 351.2,375.0" fill="#d8d8d8" fill-opacity="0.30"/>
<polygon points="126.2,56.7 351.2,56.7 351.2,375.0 126.2,375.0" fill="#c8c8c8" fill-opacity="0.40"/>
<polygon points="138.5,29.9 363.5,29.9 351.2,56.7 126.2,56.7" fill="#a8a8a8"/>
<line x1="153.5" y1="56.7" x2="153.5" y2="375.0" stroke="#bcbcbc" stroke-width="0.9"/>
<line x1="154.7" y1="56.7" x2="154.7" y2="375.0" stroke="#f0f0f0" stroke-width="1"/>
<line x1="156.0" y1="56.7" x2="156.0" y2="375.0" stroke="#c6c6c6" stroke-width="0.6"/>
<line x1="154.4" y1="56.7" x2="166.7" y2="29.9" stroke="#c4c4c4" stroke-width="0.7"/>
<line x1="166.7" y1="56.7" x2="166.7" y2="348.2" stroke="#cdcdcd" stroke-width="0.5"/>
<line x1="181.7" y1="56.7" x2="181.7" y2="375.0" stroke="#bcbcbc" stroke-width="0.9"/>
<line x1="182.9" y1="56.7" x2="182.9" y2="375.0" stroke="#f0f0f0" stroke-width="1"/>
<line x1="184.2" y1="56.7" x2="184.2" y2="375.0" stroke="#c6c6c6" stroke-width="0.6"/>
<line x1="182.6" y1="56.7" x2="194.9" y2="29.9" stroke="#c4c4c4" stroke-width="0.7"/>
<line x1="194.9" y1="56.7" x2="194.9" y2="348.2" stroke="#cdcdcd" stroke-width="0.5"/>
<line x1="209.9" y1="56.7" x2="209.9" y2="375.0" stroke="#bcbcbc" stroke-width="0.9"/>
<line x1="211.1" y1="56.7" x2="211.1" y2="375.0" stroke="#f0f0f0" stroke-width="1"/>
<line x1="212.4" y1="56.7" x2="212.4" y2="375.0" stroke="#c6c6c6" stroke-width="0.6"/>
<line x1="210.8" y1="56.7" x2="223.1" y2="29.9" stroke="#c4c4c4" stroke-width="0.7"/>
<line x1="223.1" y1="56.7" x2="223.1" y2="348.2" stroke="#cdcdcd" stroke-width="0.5"/>
<line x1="238.1" y1="56.7" x2="238.1" y2="375.0" stroke="#bcbcbc" stroke-width="0.9"/>
<line x1="239.3" y1="56.7" x2="239.3" y2="375.0" stroke="#f0f0f0" stroke-width="1"/>
<line x1="240.6" y1="56.7" x2="240.6" y2="375.0" stroke="#c6c6c6" stroke-width="0.6"/>
<line x1="239.0" y1="56.7" x2="251.3" y2="29.9" stroke="#c4c4c4" stroke-width="0.7"/>
<line x1="251.3" y1="56.7" x2="251.3" y2="348.2" stroke="#cdcdcd" stroke-width="0.5"/>
<line x1="266.3" y1="56.7" x2="266.3" y2="375.0" stroke="#bcbcbc" stroke-width="0.9"/>
<line x1="267.5" y1="56.7" x2="267.5" y2="375.0" stroke="#f0f0f0" stroke-width="1"/>
<line x1="268.8" y1="56.7" x2="268.8" y2="375.0" stroke="#c6c6c6" stroke-width="0.6"/>
<line x1="267.2" y1="56.7" x2="279.5" y2="29.9" stroke="#c4c4c4" stroke-width="0.7"/>
<line x1="279.5" y1="56.7" x2="279.5" y2="348.2" stroke="#cdcdcd" stroke-width="0.5"/>
<line x1="294.5" y1="56.7" x2="294.5" y2="375.0" stroke="#bcbcbc" stroke-width="0.9"/>
<line x1="295.7" y1="56.7" x2="295.7" y2="375.0" stroke="#f0f0f0" stroke-width="1"/>
<line x1="297.0" y1="56.7" x2="297.0" y2="375.0" stroke="#c6c6c6" stroke-width="0.6"/>
<line x1="295.4" y1="56.7" x2="307.7" y2="29.9" stroke="#c4c4c4" stroke-width="0.7"/>
<line x1="307.7" y1="56.7" x2="307.7" y2="348.2" stroke="#cdcdcd" stroke-width="0.5"/>
<line x1="322.7" y1="56.7" x2="322.7" y2="375.0" stroke="#bcbcbc" stroke-width="0.9"/>
<line x1="323.9" y1="56.7" x2="323.9" y2="375.0" stroke="#f0f0f0" stroke-width="1"/>
<line x1="325.2" y1="56.7" x2="325.2" y2="375.0" stroke="#c6c6c6" stroke-width="0.6"/>
<line x1="323.6" y1="56.7" x2="335.9" y2="29.9" stroke="#c4c4c4" stroke-width="0.7"/>
<line x1="335.9" y1="56.7" x2="335.9" y2="348.2" stroke="#cdcdcd" stroke-width="0.5"/>
<line x1="126.2" y1="56.7" x2="126.2" y2="375.0" stroke="#c2c2c2" stroke-width="0.8"/>
<line x1="138.5" y1="56.7" x2="138.5" y2="348.2" stroke="#d0d0d0" stroke-width="0.6"/>
<line x1="351.2" y1="56.7" x2="351.2" y2="375.0" stroke="#c6c6c6" stroke-width="0.8"/>
<line x1="363.5" y1="29.9" x2="363.5" y2="348.2" stroke="#cacaca" stroke-width="0.8"/>
<polygon points="405.4,1.5 431.4,1.5 431.4,321.0 405.4,321.0" fill="#c8c8c8" fill-opacity="0.40"/>
<polygon points="405.4,1.5 393.5,27.5 393.5,347.0 405.4,321.0" fill="#c8c8c8" fill-opacity="0.28"/>
<polygon points="419.5,27.5 431.4,1.5 431.4,321.0 419.5,347.0" fill="#d8d8d8" fill-opacity="0.30"/>
<polygon points="393.5,27.5 419.5,27.5 419.5,347.0 393.5,347.0" fill="#c8c8c8" fill-opacity="0.40"/>
<polygon points="405.4,1.5 431.4,1.5 419.5,27.5 393.5,27.5" fill="#a8a8a8"/>
<line x1="393.5" y1="27.5" x2="393.5" y2="347.0" stroke="#c2c2c2" stroke-width="0.8"/>
<line x1="405.4" y1="27.5" x2="405.4" y2="321.0" stroke="#d0d0d0" stroke-width="0.6"/>
<line x1="419.5" y1="27.5" x2="419.5" y2="347.0" stroke="#c6c6c6" stroke-width="0.8"/>
<line x1="431.4" y1="1.5" x2="431.4" y2="321.0" stroke="#cacaca" stroke-width="0.8"/>
<g transform="matrix(1,0,-0.458,1,92.00,264.00)" font-family="Liberation Sans, sans-serif">
<text x="70.20" y="70.40" font-size="5.2" font-weight="bold" text-anchor="middle" fill="#1a1a1a" fill-opacity="0.5">3</text>
<text x="70.20" y="76.00" font-size="5.2" font-weight="bold" text-anchor="middle" fill="#1a1a1a" fill-opacity="0.5">IIIB</text>
<text x="70.20" y="81.60" font-size="5.2" font-weight="bold" text-anchor="middle" fill="#1a1a1a" fill-opacity="0.5">3B</text>
<text x="98.40" y="70.40" font-size="5.2" font-weight="bold" text-anchor="middle" fill="#1a1a1a" fill-opacity="0.5">4</text>
<text x="98.40" y="76.00" font-size="5.2" font-weight="bold" text-anchor="middle" fill="#1a1a1a" fill-opacity="0.5">IVB</text>
<text x="98.40" y="81.60" font-size="5.2" font-weight="bold" text-anchor="middle" fill="#1a1a1a" fill-opacity="0.5">4B</text>
<text x="126.60" y="70.40" font-size="5.2" font-weight="bold" text-anchor="middle" fill="#1a1a1a" fill-opacity="0.5">5</text>
<text x="126.60" y="76.00" font-size="5.2" font-weight="bold" text-anchor="middle" fill="#1a1a1a" fill-opacity="0.5">VB</text>
<text x="126.60" y="81.60" font-size="5.2" font-weight="bold" text-anchor="middle" fill="#1a1a1a" fill-opacity="0.5">5B</text>
<text x="154.80" y="70.40" font-size="5.2" font-weight="bold" text-anchor="middle" fill="#1a1a1a" fill-opacity="0.5">6</text>
<text x="154.80" y="76.00" font-size="5.2" font-weight="bold" text-anchor="middle" fill="#1a1a1a" fill-opacity="0.5">VIB</text>
<text x="154.80" y="81.60" font-size="5.2" font-weight="bold" text-anchor="middle" fill="#1a1a1a" fill-opacity="0.5">6B</text>
<text x="183.00" y="70.40" font-size="5.2" font-weight="bold" text-anchor="middle" fill="#1a1a1a" fill-opacity="0.5">7</text>
<text x="183.00" y="76.00" font-size="5.2" font-weight="bold" text-anchor="middle" fill="#1a1a1a" fill-opacity="0.5">VIIB</text>
<text x="183.00" y="81.60" font-size="5.2" font-weight="bold" text-anchor="middle" fill="#1a1a1a" fill-opacity="0.5">7B</text>
<text x="211.20" y="70.40" font-size="5.2" font-weight="bold" text-anchor="middle" fill="#1a1a1a" fill-opacity="0.5">8</text>
<text x="239.40" y="70.40" font-size="5.2" font-weight="bold" text-anchor="middle" fill="#1a1a1a" fill-opacity="0.5">9</text>
<text x="239.40" y="76.00" font-size="5.2" font-weight="bold" text-anchor="middle" fill="#1a1a1a" fill-opacity="0.5">VIII</text>
<text x="239.40" y="81.60" font-size="5.2" font-weight="bold" text-anchor="middle" fill="#1a1a1a" fill-opacity="0.5">8</text>
<text x="267.60" y="70.40" font-size="5.2" font-weight="bold" text-anchor="middle" fill="#1a1a1a" fill-opacity="0.5">10</text>
<text x="295.80" y="70.40" font-size="5.2" font-weight="bold" text-anchor="middle" fill="#1a1a1a" fill-opacity="0.5">11</text>
<text x="295.80" y="76.00" font-size="5.2" font-weight="bold" text-anchor="middle" fill="#1a1a1a" fill-opacity="0.5">IB</text>
<text x="295.80" y="81.60" font-size="5.2" font-weight="bold" text-anchor="middle" fill="#1a1a1a" fill-opacity="0.5">1B</text>
<path d="M203.4 80.5 q2 -6 9 -6 H232.6 M248.6 74.5 H266.8 q7 0 9 6" fill="none" stroke="#333" stroke-opacity="0.5" stroke-width="0.8"/>
</g>
<polygon points="404.8,296.0 433.0,296.0 433.0,320.0 420.1,348.0 391.9,348.0 391.9,324.0" fill="rgba(205,70,40,0.52)"/>
<path d="M391.9 324.0 L420.1 324.0 L420.1 348.0 M420.1 324.0 L433.0 296.0" fill="none" stroke="rgba(120,40,20,0.35)" stroke-width="0.6"/>
<polygon points="391.9,324.0 420.1,324.0 420.1,348.0 391.9,348.0" fill="rgba(70,100,30,0.28)"/>
<polygon points="138.1,324.0 222.7,324.0 222.7,348.0 184.3,432.0 99.7,432.0 99.7,408.0" fill="rgba(170,74,40,0.72)"/>
<path d="M99.7 408.0 L184.3 408.0 L184.3 432.0 M184.3 408.0 L222.7 324.0" fill="none" stroke="rgba(110,40,20,0.3)" stroke-width="0.6"/>
<polygon points="114.3,376.0 198.9,376.0 186.1,404.0 101.5,404.0" fill="rgba(216,56,24,0.86)"/>
<polygon points="101.5,404.0 186.1,404.0 184.3,432.0 99.7,432.0 99.7,408.0" fill="rgba(214,64,26,0.64)"/>
<polygon points="198.9,376.0 209.9,376.0 197.1,404.0 186.1,404.0" fill="rgba(215,45,105,0.45)"/>
<line x1="114.3" y1="376.5" x2="198.9" y2="376.5" stroke="rgba(150,30,20,0.5)" stroke-width="1"/>
<line x1="127.9" y1="432.0" x2="127.9" y2="408.0" stroke="rgba(120,40,20,0.35)" stroke-width="0.6"/>
<line x1="127.9" y1="408.0" x2="166.3" y2="324.0" stroke="rgba(120,40,20,0.22)" stroke-width="0.6"/>
<line x1="156.1" y1="432.0" x2="156.1" y2="408.0" stroke="rgba(120,40,20,0.35)" stroke-width="0.6"/>
<line x1="156.1" y1="408.0" x2="194.5" y2="324.0" stroke="rgba(120,40,20,0.22)" stroke-width="0.6"/>
<text x="144.3" y="49.2" font-family="Liberation Sans, sans-serif" font-weight="bold" font-style="italic" font-size="18" fill="#111" textLength="201" lengthAdjust="spacingAndGlyphs">3d Transition Metal CCAs</text>
<text x="137.5" y="343.8" font-family="Liberation Sans, sans-serif" font-weight="bold" font-style="italic" font-size="16.5" fill="#4e4e4e" textLength="82.5" lengthAdjust="spacingAndGlyphs">Refractory</text>
<text x="128.8" y="371.3" font-family="Liberation Sans, sans-serif" font-weight="bold" font-style="italic" font-size="16.5" fill="#4e4e4e" textLength="41.5" lengthAdjust="spacingAndGlyphs">Metal</text>
<text x="118.8" y="399.5" font-family="Liberation Sans, sans-serif" font-weight="bold" font-style="italic" font-size="16.5" fill="#111" textLength="43.8" lengthAdjust="spacingAndGlyphs">CCAs</text>
<g transform="matrix(1,0,-0.43,1,469.50,202.00)">
<rect x="0" y="0" width="111.80" height="26.8" fill="#b59bd9"/>
<line x1="0.00" y1="0" x2="0.00" y2="26.8" stroke="#efe8f8" stroke-width="0.8"/>
<line x1="27.95" y1="0" x2="27.95" y2="26.8" stroke="#efe8f8" stroke-width="0.8"/>
<line x1="55.90" y1="0" x2="55.90" y2="26.8" stroke="#efe8f8" stroke-width="0.8"/>
<line x1="83.85" y1="0" x2="83.85" y2="26.8" stroke="#efe8f8" stroke-width="0.8"/>
<line x1="111.80" y1="0" x2="111.80" y2="26.8" stroke="#efe8f8" stroke-width="0.8"/>
<line x1="0" y1="0" x2="111.80" y2="0" stroke="#efe8f8" stroke-width="0.6"/><line x1="0" y1="26.8" x2="111.80" y2="26.8" stroke="#efe8f8" stroke-width="0.6"/>
</g>
<text x="473.8" y="222.2" font-family="Liberation Sans, sans-serif" font-weight="bold" font-style="italic" font-size="17.8" fill="#111" textLength="91.5" lengthAdjust="spacingAndGlyphs">4f TM CCAs</text>
<text x="534.5" y="507.5" font-family="Liberation Sans, sans-serif" font-weight="bold" font-style="normal" font-size="31.5" fill="#111" textLength="38" lengthAdjust="spacingAndGlyphs">(a)</text>
<g transform="matrix(1,0,-0.458,1,91.50,610.50)" font-family="Liberation Sans, sans-serif" font-style="normal">
<text x="13.80" y="-13.60" font-size="5.2" font-weight="bold" text-anchor="middle" fill="#1a1a1a" fill-opacity="1.0">1</text>
<text x="13.80" y="-8.00" font-size="5.2" font-weight="bold" text-anchor="middle" fill="#1a1a1a" fill-opacity="1.0">IA</text>
<text x="13.80" y="-2.40" font-size="5.2" font-weight="bold" text-anchor="middle" fill="#1a1a1a" fill-opacity="1.0">1A</text>
<text x="42.00" y="14.40" font-size="5.2" font-weight="bold" text-anchor="middle" fill="#1a1a1a" fill-opacity="1.0">2</text>
<text x="42.00" y="20.00" font-size="5.2" font-weight="bold" text-anchor="middle" fill="#1a1a1a" fill-opacity="1.0">IIA</text>
<text x="42.00" y="25.60" font-size="5.2" font-weight="bold" text-anchor="middle" fill="#1a1a1a" fill-opacity="1.0">2A</text>
<text x="70.20" y="70.40" font-size="5.2" font-weight="bold" text-anchor="middle" fill="#1a1a1a" fill-opacity="1.0">3</text>
<text x="70.20" y="76.00" font-size="5.2" font-weight="bold" text-anchor="middle" fill="#1a1a1a" fill-opacity="1.0">IIIB</text>
<text x="70.20" y="81.60" font-size="5.2" font-weight="bold" text-anchor="middle" fill="#1a1a1a" fill-opacity="1.0">3B</text>
<text x="98.40" y="70.40" font-size="5.2" font-weight="bold" text-anchor="middle" fill="#1a1a1a" fill-opacity="1.0">4</text>
<text x="98.40" y="76.00" font-size="5.2" font-weight="bold" text-anchor="middle" fill="#1a1a1a" fill-opacity="1.0">IVB</text>
<text x="98.40" y="81.60" font-size="5.2" font-weight="bold" text-anchor="middle" fill="#1a1a1a" fill-opacity="1.0">4B</text>
<text x="126.60" y="70.40" font-size="5.2" font-weight="bold" text-anchor="middle" fill="#1a1a1a" fill-opacity="1.0">5</text>
<text x="126.60" y="76.00" font-size="5.2" font-weight="bold" text-anchor="middle" fill="#1a1a1a" fill-opacity="1.0">VB</text>
<text x="126.60" y="81.60" font-size="5.2" font-weight="bold" text-anchor="middle" fill="#1a1a1a" fill-opacity="1.0">5B</text>
<text x="154.80" y="70.40" font-size="5.2" font-weight="bold" text-anchor="middle" fill="#1a1a1a" fill-opacity="1.0">6</text>
<text x="154.80" y="76.00" font-size="5.2" font-weight="bold" text-anchor="middle" fill="#1a1a1a" fill-opacity="1.0">VIB</text>
<text x="154.80" y="81.60" font-size="5.2" font-weight="bold" text-anchor="middle" fill="#1a1a1a" fill-opacity="1.0">6B</text>
<text x="183.00" y="70.40" font-size="5.2" font-weight="bold" text-anchor="middle" fill="#1a1a1a" fill-opacity="1.0">7</text>
<text x="183.00" y="76.00" font-size="5.2" font-weight="bold" text-anchor="middle" fill="#1a1a1a" fill-opacity="1.0">VIIB</text>
<text x="183.00" y="81.60" font-size="5.2" font-weight="bold" text-anchor="middle" fill="#1a1a1a" fill-opacity="1.0">7B</text>
<text x="211.20" y="70.40" font-size="5.2" font-weight="bold" text-anchor="middle" fill="#1a1a1a" fill-opacity="1.0">8</text>
<text x="239.40" y="70.40" font-size="5.2" font-weight="bold" text-anchor="middle" fill="#1a1a1a" fill-opacity="1.0">9</text>
<text x="239.40" y="76.00" font-size="5.2" font-weight="bold" text-anchor="middle" fill="#1a1a1a" fill-opacity="1.0">VIII</text>
<text x="239.40" y="81.60" font-size="5.2" font-weight="bold" text-anchor="middle" fill="#1a1a1a" fill-opacity="1.0">8</text>
<text x="267.60" y="70.40" font-size="5.2" font-weight="bold" text-anchor="middle" fill="#1a1a1a" fill-opacity="1.0">10</text>
<text x="295.80" y="70.40" font-size="5.2" font-weight="bold" text-anchor="middle" fill="#1a1a1a" fill-opacity="1.0">11</text>
<text x="295.80" y="76.00" font-size="5.2" font-weight="bold" text-anchor="middle" fill="#1a1a1a" fill-opacity="1.0">IB</text>
<text x="295.80" y="81.60" font-size="5.2" font-weight="bold" text-anchor="middle" fill="#1a1a1a" fill-opacity="1.0">1B</text>
<text x="324.00" y="70.40" font-size="5.2" font-weight="bold" text-anchor="middle" fill="#1a1a1a" fill-opacity="1.0">12</text>
<text x="324.00" y="76.00" font-size="5.2" font-weight="bold" text-anchor="middle" fill="#1a1a1a" fill-opacity="1.0">IIB</text>
<text x="324.00" y="81.60" font-size="5.2" font-weight="bold" text-anchor="middle" fill="#1a1a1a" fill-opacity="1.0">2B</text>
<text x="352.20" y="14.40" font-size="5.2" font-weight="bold" text-anchor="middle" fill="#1a1a1a" fill-opacity="1.0">13</text>
<text x="352.20" y="20.00" font-size="5.2" font-weight="bold" text-anchor="middle" fill="#1a1a1a" fill-opacity="1.0">IIIA</text>
<text x="352.20" y="25.60" font-size="5.2" font-weight="bold" text-anchor="middle" fill="#1a1a1a" fill-opacity="1.0">3A</text>
<text x="380.40" y="14.40" font-size="5.2" font-weight="bold" text-anchor="middle" fill="#1a1a1a" fill-opacity="1.0">14</text>
<text x="380.40" y="20.00" font-size="5.2" font-weight="bold" text-anchor="middle" fill="#1a1a1a" fill-opacity="1.0">IVA</text>
<text x="380.40" y="25.60" font-size="5.2" font-weight="bold" text-anchor="middle" fill="#1a1a1a" fill-opacity="1.0">4A</text>
<text x="408.60" y="14.40" font-size="5.2" font-weight="bold" text-anchor="middle" fill="#1a1a1a" fill-opacity="1.0">15</text>
<text x="408.60" y="20.00" font-size="5.2" font-weight="bold" text-anchor="middle" fill="#1a1a1a" fill-opacity="1.0">VA</text>
<text x="408.60" y="25.60" font-size="5.2" font-weight="bold" text-anchor="middle" fill="#1a1a1a" fill-opacity="1.0">5A</text>
<text x="436.80" y="14.40" font-size="5.2" font-weight="bold" text-anchor="middle" fill="#1a1a1a" fill-opacity="1.0">16</text>
<text x="436.80" y="20.00" font-size="5.2" font-weight="bold" text-anchor="middle" fill="#1a1a1a" fill-opacity="1.0">VIA</text>
<text x="436.80" y="25.60" font-size="5.2" font-weight="bold" text-anchor="middle" fill="#1a1a1a" fill-opacity="1.0">6A</text>
<text x="465.00" y="14.40" font-size="5.2" font-weight="bold" text-anchor="middle" fill="#1a1a1a" fill-opacity="1.0">17</text>
<text x="465.00" y="20.00" font-size="5.2" font-weight="bold" text-anchor="middle" fill="#1a1a1a" fill-opacity="1.0">VIIA</text>
<text x="465.00" y="25.60" font-size="5.2" font-weight="bold" text-anchor="middle" fill="#1a1a1a" fill-opacity="1.0">7A</text>
<text x="493.20" y="-13.60" font-size="5.2" font-weight="bold" text-anchor="middle" fill="#1a1a1a" fill-opacity="1.0">18</text>
<text x="493.20" y="-8.00" font-size="5.2" font-weight="bold" text-anchor="middle" fill="#1a1a1a" fill-opacity="1.0">VIIIA</text>
<text x="493.20" y="-2.40" font-size="5.2" font-weight="bold" text-anchor="middle" fill="#1a1a1a" fill-opacity="1.0">8A</text>
<path d="M203.4 80.5 q2 -6 9 -6 H232.6 M248.6 74.5 H266.8 q7 0 9 6" fill="none" stroke="#333" stroke-opacity="1.0" stroke-width="0.8"/>
<rect x="0.00" y="0.00" width="28.20" height="28.00" fill="#82c2f0" fill-opacity="0.38"/>
<rect x="0.45" y="0.20" width="27.30" height="26.10" fill="url(#g_nm)"/>
<rect x="0.45" y="0.20" width="27.30" height="26.10" fill="url(#g_shine)"/>
<rect x="479.40" y="0.00" width="28.20" height="28.00" fill="#7a5cc0" fill-opacity="0.38"/>
<rect x="479.85" y="0.20" width="27.30" height="26.10" fill="url(#g_ng)"/>
<rect x="479.85" y="0.20" width="27.30" height="26.10" fill="url(#g_shine)"/>
<rect x="0.00" y="28.00" width="28.20" height="28.00" fill="#cf4c5e" fill-opacity="0.38"/>
<rect x="0.45" y="28.20" width="27.30" height="26.10" fill="url(#g_alk)"/>
<rect x="0.45" y="28.20" width="27.30" height="26.10" fill="url(#g_shine)"/>
<rect x="28.20" y="28.00" width="28.20" height="28.00" fill="#de9a5e" fill-opacity="0.38"/>
<rect x="28.65" y="28.20" width="27.30" height="26.10" fill="url(#g_ae)"/>
<rect x="28.65" y="28.20" width="27.30" height="26.10" fill="url(#g_shine)"/>
<rect x="338.40" y="28.00" width="28.20" height="28.00" fill="#94d5c2" fill-opacity="0.38"/>
<rect x="338.85" y="28.20" width="27.30" height="26.10" fill="url(#g_sm)"/>
<rect x="338.85" y="28.20" width="27.30" height="26.10" fill="url(#g_shine)"/>
<rect x="366.60" y="28.00" width="28.20" height="28.00" fill="#82c2f0" fill-opacity="0.38"/>
<rect x="367.05" y="28.20" width="27.30" height="26.10" fill="url(#g_nm)"/>
<rect x="367.05" y="28.20" width="27.30" height="26.10" fill="url(#g_shine)"/>
<rect x="394.80" y="28.00" width="28.20" height="28.00" fill="#82c2f0" fill-opacity="0.38"/>
<rect x="395.25" y="28.20" width="27.30" height="26.10" fill="url(#g_nm)"/>
<rect x="395.25" y="28.20" width="27.30" height="26.10" fill="url(#g_shine)"/>
<rect x="423.00" y="28.00" width="28.20" height="28.00" fill="#82c2f0" fill-opacity="0.38"/>
<rect x="423.45" y="28.20" width="27.30" height="26.10" fill="url(#g_nm)"/>
<rect x="423.45" y="28.20" width="27.30" height="26.10" fill="url(#g_shine)"/>
<rect x="451.20" y="28.00" width="28.20" height="28.00" fill="#9486d4" fill-opacity="0.38"/>
<rect x="451.65" y="28.20" width="27.30" height="26.10" fill="url(#g_hal)"/>
<rect x="451.65" y="28.20" width="27.30" height="26.10" fill="url(#g_shine)"/>
<rect x="479.40" y="28.00" width="28.20" height="28.00" fill="#7a5cc0" fill-opacity="0.38"/>
<rect x="479.85" y="28.20" width="27.30" height="26.10" fill="url(#g_ng)"/>
<rect x="479.85" y="28.20" width="27.30" height="26.10" fill="url(#g_shine)"/>
<rect x="0.00" y="56.00" width="28.20" height="28.00" fill="#cf4c5e" fill-opacity="0.38"/>
<rect x="0.45" y="56.20" width="27.30" height="26.10" fill="url(#g_alk)"/>
<rect x="0.45" y="56.20" width="27.30" height="26.10" fill="url(#g_shine)"/>
<rect x="28.20" y="56.00" width="28.20" height="28.00" fill="#de9a5e" fill-opacity="0.38"/>
<rect x="28.65" y="56.20" width="27.30" height="26.10" fill="url(#g_ae)"/>
<rect x="28.65" y="56.20" width="27.30" height="26.10" fill="url(#g_shine)"/>
<rect x="338.40" y="56.00" width="28.20" height="28.00" fill="#5cbc4a" fill-opacity="0.38"/>
<rect x="338.85" y="56.20" width="27.30" height="26.10" fill="url(#g_bm)"/>
<rect x="338.85" y="56.20" width="27.30" height="26.10" fill="url(#g_shine)"/>
<rect x="366.60" y="56.00" width="28.20" height="28.00" fill="#94d5c2" fill-opacity="0.38"/>
<rect x="367.05" y="56.20" width="27.30" height="26.10" fill="url(#g_sm)"/>
<rect x="367.05" y="56.20" width="27.30" height="26.10" fill="url(#g_shine)"/>
<rect x="394.80" y="56.00" width="28.20" height="28.00" fill="#82c2f0" fill-opacity="0.38"/>
<rect x="395.25" y="56.20" width="27.30" height="26.10" fill="url(#g_nm)"/>
<rect x="395.25" y="56.20" width="27.30" height="26.10" fill="url(#g_shine)"/>
<rect x="423.00" y="56.00" width="28.20" height="28.00" fill="#82c2f0" fill-opacity="0.38"/>
<rect x="423.45" y="56.20" width="27.30" height="26.10" fill="url(#g_nm)"/>
<rect x="423.45" y="56.20" width="27.30" height="26.10" fill="url(#g_shine)"/>
<rect x="451.20" y="56.00" width="28.20" height="28.00" fill="#9486d4" fill-opacity="0.38"/>
<rect x="451.65" y="56.20" width="27.30" height="26.10" fill="url(#g_hal)"/>
<rect x="451.65" y="56.20" width="27.30" height="26.10" fill="url(#g_shine)"/>
<rect x="479.40" y="56.00" width="28.20" height="28.00" fill="#7a5cc0" fill-opacity="0.38"/>
<rect x="479.85" y="56.20" width="27.30" height="26.10" fill="url(#g_ng)"/>
<rect x="479.85" y="56.20" width="27.30" height="26.10" fill="url(#g_shine)"/>
<rect x="0.00" y="84.00" width="28.20" height="28.00" fill="#cf4c5e" fill-opacity="0.38"/>
<rect x="0.45" y="84.20" width="27.30" height="26.10" fill="url(#g_alk)"/>
<rect x="0.45" y="84.20" width="27.30" height="26.10" fill="url(#g_shine)"/>
<rect x="28.20" y="84.00" width="28.20" height="28.00" fill="#de9a5e" fill-opacity="0.38"/>
<rect x="28.65" y="84.20" width="27.30" height="26.10" fill="url(#g_ae)"/>
<rect x="28.65" y="84.20" width="27.30" height="26.10" fill="url(#g_shine)"/>
<rect x="56.40" y="84.00" width="28.20" height="28.00" fill="#e6f25c" fill-opacity="0.38"/>
<rect x="56.85" y="84.20" width="27.30" height="26.10" fill="url(#g_tm)"/>
<rect x="56.85" y="84.20" width="27.30" height="26.10" fill="url(#g_shine)"/>
<rect x="84.60" y="84.00" width="28.20" height="28.00" fill="#e6f25c" fill-opacity="0.38"/>
<rect x="85.05" y="84.20" width="27.30" height="26.10" fill="url(#g_tm)"/>
<rect x="85.05" y="84.20" width="27.30" height="26.10" fill="url(#g_shine)"/>
<rect x="112.80" y="84.00" width="28.20" height="28.00" fill="#e6f25c" fill-opacity="0.38"/>
<rect x="113.25" y="84.20" width="27.30" height="26.10" fill="url(#g_tm)"/>
<rect x="113.25" y="84.20" width="27.30" height="26.10" fill="url(#g_shine)"/>
<rect x="141.00" y="84.00" width="28.20" height="28.00" fill="#d63826" fill-opacity="0.38"/>
<rect x="141.45" y="84.20" width="27.30" height="26.10" fill="url(#g_red)"/>
<rect x="141.45" y="84.20" width="27.30" height="26.10" fill="url(#g_shine)"/>
<rect x="141.75" y="84.50" width="26.70" height="25.50" fill="none" stroke="#1c5a50" stroke-opacity="0.75" stroke-width="0.7"/>
<rect x="169.20" y="84.00" width="28.20" height="28.00" fill="#4c80d4" fill-opacity="0.38"/>
<rect x="169.65" y="84.20" width="27.30" height="26.10" fill="url(#g_blu)"/>
<rect x="169.65" y="84.20" width="27.30" height="26.10" fill="url(#g_shine)"/>
<rect x="169.95" y="84.50" width="26.70" height="25.50" fill="none" stroke="#1c5a50" stroke-opacity="0.75" stroke-width="0.7"/>
<rect x="197.40" y="84.00" width="28.20" height="28.00" fill="#e6f25c" fill-opacity="0.38"/>
<rect x="197.85" y="84.20" width="27.30" height="26.10" fill="url(#g_tm)"/>
<rect x="197.85" y="84.20" width="27.30" height="26.10" fill="url(#g_shine)"/>
<rect x="225.60" y="84.00" width="28.20" height="28.00" fill="#d63826" fill-opacity="0.38"/>
<rect x="226.05" y="84.20" width="27.30" height="26.10" fill="url(#g_red)"/>
<rect x="226.05" y="84.20" width="27.30" height="26.10" fill="url(#g_shine)"/>
<rect x="226.35" y="84.50" width="26.70" height="25.50" fill="none" stroke="#1c5a50" stroke-opacity="0.75" stroke-width="0.7"/>
<rect x="253.80" y="84.00" width="28.20" height="28.00" fill="#e6f25c" fill-opacity="0.38"/>
<rect x="254.25" y="84.20" width="27.30" height="26.10" fill="url(#g_tm)"/>
<rect x="254.25" y="84.20" width="27.30" height="26.10" fill="url(#g_shine)"/>
<rect x="282.00" y="84.00" width="28.20" height="28.00" fill="#e6f25c" fill-opacity="0.38"/>
<rect x="282.45" y="84.20" width="27.30" height="26.10" fill="url(#g_tm)"/>
<rect x="282.45" y="84.20" width="27.30" height="26.10" fill="url(#g_shine)"/>
<rect x="310.20" y="84.00" width="28.20" height="28.00" fill="#e6f25c" fill-opacity="0.38"/>
<rect x="310.65" y="84.20" width="27.30" height="26.10" fill="url(#g_tm)"/>
<rect x="310.65" y="84.20" width="27.30" height="26.10" fill="url(#g_shine)"/>
<rect x="338.40" y="84.00" width="28.20" height="28.00" fill="#5cbc4a" fill-opacity="0.38"/>
<rect x="338.85" y="84.20" width="27.30" height="26.10" fill="url(#g_bm)"/>
<rect x="338.85" y="84.20" width="27.30" height="26.10" fill="url(#g_shine)"/>
<rect x="366.60" y="84.00" width="28.20" height="28.00" fill="#94d5c2" fill-opacity="0.38"/>
<rect x="367.05" y="84.20" width="27.30" height="26.10" fill="url(#g_sm)"/>
<rect x="367.05" y="84.20" width="27.30" height="26.10" fill="url(#g_shine)"/>
<rect x="394.80" y="84.00" width="28.20" height="28.00" fill="#94d5c2" fill-opacity="0.38"/>
<rect x="395.25" y="84.20" width="27.30" height="26.10" fill="url(#g_sm)"/>
<rect x="395.25" y="84.20" width="27.30" height="26.10" fill="url(#g_shine)"/>
<rect x="423.00" y="84.00" width="28.20" height="28.00" fill="#82c2f0" fill-opacity="0.38"/>
<rect x="423.45" y="84.20" width="27.30" height="26.10" fill="url(#g_nm)"/>
<rect x="423.45" y="84.20" width="27.30" height="26.10" fill="url(#g_shine)"/>
<rect x="451.20" y="84.00" width="28.20" height="28.00" fill="#9486d4" fill-opacity="0.38"/>
<rect x="451.65" y="84.20" width="27.30" height="26.10" fill="url(#g_hal)"/>
<rect x="451.65" y="84.20" width="27.30" height="26.10" fill="url(#g_shine)"/>
<rect x="479.40" y="84.00" width="28.20" height="28.00" fill="#7a5cc0" fill-opacity="0.38"/>
<rect x="479.85" y="84.20" width="27.30" height="26.10" fill="url(#g_ng)"/>
<rect x="479.85" y="84.20" width="27.30" height="26.10" fill="url(#g_shine)"/>
<rect x="0.00" y="112.00" width="28.20" height="28.00" fill="#cf4c5e" fill-opacity="0.38"/>
<rect x="0.45" y="112.20" width="27.30" height="26.10" fill="url(#g_alk)"/>
<rect x="0.45" y="112.20" width="27.30" height="26.10" fill="url(#g_shine)"/>
<rect x="28.20" y="112.00" width="28.20" height="28.00" fill="#de9a5e" fill-opacity="0.38"/>
<rect x="28.65" y="112.20" width="27.30" height="26.10" fill="url(#g_ae)"/>
<rect x="28.65" y="112.20" width="27.30" height="26.10" fill="url(#g_shine)"/>
<rect x="56.40" y="112.00" width="28.20" height="28.00" fill="#e6f25c" fill-opacity="0.38"/>
<rect x="56.85" y="112.20" width="27.30" height="26.10" fill="url(#g_tm)"/>
<rect x="56.85" y="112.20" width="27.30" height="26.10" fill="url(#g_shine)"/>
<rect x="84.60" y="112.00" width="28.20" height="28.00" fill="#e6f25c" fill-opacity="0.38"/>
<rect x="85.05" y="112.20" width="27.30" height="26.10" fill="url(#g_tm)"/>
<rect x="85.05" y="112.20" width="27.30" height="26.10" fill="url(#g_shine)"/>
<rect x="112.80" y="112.00" width="28.20" height="28.00" fill="#e6f25c" fill-opacity="0.38"/>
<rect x="113.25" y="112.20" width="27.30" height="26.10" fill="url(#g_tm)"/>
<rect x="113.25" y="112.20" width="27.30" height="26.10" fill="url(#g_shine)"/>
<rect x="141.00" y="112.00" width="28.20" height="28.00" fill="#d63826" fill-opacity="0.38"/>
<rect x="141.45" y="112.20" width="27.30" height="26.10" fill="url(#g_red)"/>
<rect x="141.45" y="112.20" width="27.30" height="26.10" fill="url(#g_shine)"/>
<rect x="141.75" y="112.50" width="26.70" height="25.50" fill="none" stroke="#1c5a50" stroke-opacity="0.75" stroke-width="0.7"/>
<rect x="169.20" y="112.00" width="28.20" height="28.00" fill="#e6f25c" fill-opacity="0.38"/>
<rect x="169.65" y="112.20" width="27.30" height="26.10" fill="url(#g_tm)"/>
<rect x="169.65" y="112.20" width="27.30" height="26.10" fill="url(#g_shine)"/>
<rect x="197.40" y="112.00" width="28.20" height="28.00" fill="#d63826" fill-opacity="0.38"/>
<rect x="197.85" y="112.20" width="27.30" height="26.10" fill="url(#g_red)"/>
<rect x="197.85" y="112.20" width="27.30" height="26.10" fill="url(#g_shine)"/>
<rect x="198.15" y="112.50" width="26.70" height="25.50" fill="none" stroke="#1c5a50" stroke-opacity="0.75" stroke-width="0.7"/>
<rect x="225.60" y="112.00" width="28.20" height="28.00" fill="#d63826" fill-opacity="0.38"/>
<rect x="226.05" y="112.20" width="27.30" height="26.10" fill="url(#g_red)"/>
<rect x="226.05" y="112.20" width="27.30" height="26.10" fill="url(#g_shine)"/>
<rect x="226.35" y="112.50" width="26.70" height="25.50" fill="none" stroke="#1c5a50" stroke-opacity="0.75" stroke-width="0.7"/>
<rect x="253.80" y="112.00" width="28.20" height="28.00" fill="#d63826" fill-opacity="0.38"/>
<rect x="254.25" y="112.20" width="27.30" height="26.10" fill="url(#g_red)"/>
<rect x="254.25" y="112.20" width="27.30" height="26.10" fill="url(#g_shine)"/>
<rect x="254.55" y="112.50" width="26.70" height="25.50" fill="none" stroke="#1c5a50" stroke-opacity="0.75" stroke-width="0.7"/>
<rect x="282.00" y="112.00" width="28.20" height="28.00" fill="#d63826" fill-opacity="0.38"/>
<rect x="282.45" y="112.20" width="27.30" height="26.10" fill="url(#g_red)"/>
<rect x="282.45" y="112.20" width="27.30" height="26.10" fill="url(#g_shine)"/>
<rect x="282.75" y="112.50" width="26.70" height="25.50" fill="none" stroke="#1c5a50" stroke-opacity="0.75" stroke-width="0.7"/>
<rect x="310.20" y="112.00" width="28.20" height="28.00" fill="#e6f25c" fill-opacity="0.38"/>
<rect x="310.65" y="112.20" width="27.30" height="26.10" fill="url(#g_tm)"/>
<rect x="310.65" y="112.20" width="27.30" height="26.10" fill="url(#g_shine)"/>
<rect x="338.40" y="112.00" width="28.20" height="28.00" fill="#5cbc4a" fill-opacity="0.38"/>
<rect x="338.85" y="112.20" width="27.30" height="26.10" fill="url(#g_bm)"/>
<rect x="338.85" y="112.20" width="27.30" height="26.10" fill="url(#g_shine)"/>
<rect x="366.60" y="112.00" width="28.20" height="28.00" fill="#5cbc4a" fill-opacity="0.38"/>
<rect x="367.05" y="112.20" width="27.30" height="26.10" fill="url(#g_bm)"/>
<rect x="367.05" y="112.20" width="27.30" height="26.10" fill="url(#g_shine)"/>
<rect x="394.80" y="112.00" width="28.20" height="28.00" fill="#94d5c2" fill-opacity="0.38"/>
<rect x="395.25" y="112.20" width="27.30" height="26.10" fill="url(#g_sm)"/>
<rect x="395.25" y="112.20" width="27.30" height="26.10" fill="url(#g_shine)"/>
<rect x="423.00" y="112.00" width="28.20" height="28.00" fill="#94d5c2" fill-opacity="0.38"/>
<rect x="423.45" y="112.20" width="27.30" height="26.10" fill="url(#g_sm)"/>
<rect x="423.45" y="112.20" width="27.30" height="26.10" fill="url(#g_shine)"/>
<rect x="451.20" y="112.00" width="28.20" height="28.00" fill="#9486d4" fill-opacity="0.38"/>
<rect x="451.65" y="112.20" width="27.30" height="26.10" fill="url(#g_hal)"/>
<rect x="451.65" y="112.20" width="27.30" height="26.10" fill="url(#g_shine)"/>
<rect x="479.40" y="112.00" width="28.20" height="28.00" fill="#7a5cc0" fill-opacity="0.38"/>
<rect x="479.85" y="112.20" width="27.30" height="26.10" fill="url(#g_ng)"/>
<rect x="479.85" y="112.20" width="27.30" height="26.10" fill="url(#g_shine)"/>
<rect x="0.00" y="140.00" width="28.20" height="28.00" fill="#cf4c5e" fill-opacity="0.38"/>
<rect x="0.45" y="140.20" width="27.30" height="26.10" fill="url(#g_alk)"/>
<rect x="0.45" y="140.20" width="27.30" height="26.10" fill="url(#g_shine)"/>
<rect x="28.20" y="140.00" width="28.20" height="28.00" fill="#de9a5e" fill-opacity="0.38"/>
<rect x="28.65" y="140.20" width="27.30" height="26.10" fill="url(#g_ae)"/>
<rect x="28.65" y="140.20" width="27.30" height="26.10" fill="url(#g_shine)"/>
<rect x="84.60" y="140.00" width="28.20" height="28.00" fill="#e6f25c" fill-opacity="0.38"/>
<rect x="85.05" y="140.20" width="27.30" height="26.10" fill="url(#g_tm)"/>
<rect x="85.05" y="140.20" width="27.30" height="26.10" fill="url(#g_shine)"/>
<rect x="112.80" y="140.00" width="28.20" height="28.00" fill="#e6f25c" fill-opacity="0.38"/>
<rect x="113.25" y="140.20" width="27.30" height="26.10" fill="url(#g_tm)"/>
<rect x="113.25" y="140.20" width="27.30" height="26.10" fill="url(#g_shine)"/>
<rect x="141.00" y="140.00" width="28.20" height="28.00" fill="#e6f25c" fill-opacity="0.38"/>
<rect x="141.45" y="140.20" width="27.30" height="26.10" fill="url(#g_tm)"/>
<rect x="141.45" y="140.20" width="27.30" height="26.10" fill="url(#g_shine)"/>
<rect x="169.20" y="140.00" width="28.20" height="28.00" fill="#e6f25c" fill-opacity="0.38"/>
<rect x="169.65" y="140.20" width="27.30" height="26.10" fill="url(#g_tm)"/>
<rect x="169.65" y="140.20" width="27.30" height="26.10" fill="url(#g_shine)"/>
<rect x="197.40" y="140.00" width="28.20" height="28.00" fill="#e6f25c" fill-opacity="0.38"/>
<rect x="197.85" y="140.20" width="27.30" height="26.10" fill="url(#g_tm)"/>
<rect x="197.85" y="140.20" width="27.30" height="26.10" fill="url(#g_shine)"/>
<rect x="225.60" y="140.00" width="28.20" height="28.00" fill="#e6f25c" fill-opacity="0.38"/>
<rect x="226.05" y="140.20" width="27.30" height="26.10" fill="url(#g_tm)"/>
<rect x="226.05" y="140.20" width="27.30" height="26.10" fill="url(#g_shine)"/>
<rect x="253.80" y="140.00" width="28.20" height="28.00" fill="#d63826" fill-opacity="0.38"/>
<rect x="254.25" y="140.20" width="27.30" height="26.10" fill="url(#g_red)"/>
<rect x="254.25" y="140.20" width="27.30" height="26.10" fill="url(#g_shine)"/>
<rect x="254.55" y="140.50" width="26.70" height="25.50" fill="none" stroke="#1c5a50" stroke-opacity="0.75" stroke-width="0.7"/>
<rect x="282.00" y="140.00" width="28.20" height="28.00" fill="#d63826" fill-opacity="0.38"/>
<rect x="282.45" y="140.20" width="27.30" height="26.10" fill="url(#g_red)"/>
<rect x="282.45" y="140.20" width="27.30" height="26.10" fill="url(#g_shine)"/>
<rect x="282.75" y="140.50" width="26.70" height="25.50" fill="none" stroke="#1c5a50" stroke-opacity="0.75" stroke-width="0.7"/>
<rect x="310.20" y="140.00" width="28.20" height="28.00" fill="#e6f25c" fill-opacity="0.38"/>
<rect x="310.65" y="140.20" width="27.30" height="26.10" fill="url(#g_tm)"/>
<rect x="310.65" y="140.20" width="27.30" height="26.10" fill="url(#g_shine)"/>
<rect x="338.40" y="140.00" width="28.20" height="28.00" fill="#5cbc4a" fill-opacity="0.38"/>
<rect x="338.85" y="140.20" width="27.30" height="26.10" fill="url(#g_bm)"/>
<rect x="338.85" y="140.20" width="27.30" height="26.10" fill="url(#g_shine)"/>
<rect x="366.60" y="140.00" width="28.20" height="28.00" fill="#5cbc4a" fill-opacity="0.38"/>
<rect x="367.05" y="140.20" width="27.30" height="26.10" fill="url(#g_bm)"/>
<rect x="367.05" y="140.20" width="27.30" height="26.10" fill="url(#g_shine)"/>
<rect x="394.80" y="140.00" width="28.20" height="28.00" fill="#5cbc4a" fill-opacity="0.38"/>
<rect x="395.25" y="140.20" width="27.30" height="26.10" fill="url(#g_bm)"/>
<rect x="395.25" y="140.20" width="27.30" height="26.10" fill="url(#g_shine)"/>
<rect x="423.00" y="140.00" width="28.20" height="28.00" fill="#94d5c2" fill-opacity="0.38"/>
<rect x="423.45" y="140.20" width="27.30" height="26.10" fill="url(#g_sm)"/>
<rect x="423.45" y="140.20" width="27.30" height="26.10" fill="url(#g_shine)"/>
<rect x="451.20" y="140.00" width="28.20" height="28.00" fill="#9486d4" fill-opacity="0.38"/>
<rect x="451.65" y="140.20" width="27.30" height="26.10" fill="url(#g_hal)"/>
<rect x="451.65" y="140.20" width="27.30" height="26.10" fill="url(#g_shine)"/>
<rect x="479.40" y="140.00" width="28.20" height="28.00" fill="#7a5cc0" fill-opacity="0.38"/>
<rect x="479.85" y="140.20" width="27.30" height="26.10" fill="url(#g_ng)"/>
<rect x="479.85" y="140.20" width="27.30" height="26.10" fill="url(#g_shine)"/>
<rect x="0.00" y="168.00" width="28.20" height="28.00" fill="#cf4c5e" fill-opacity="0.38"/>
<rect x="0.45" y="168.20" width="27.30" height="26.10" fill="url(#g_alk)"/>
<rect x="0.45" y="168.20" width="27.30" height="26.10" fill="url(#g_shine)"/>
<rect x="28.20" y="168.00" width="28.20" height="28.00" fill="#de9a5e" fill-opacity="0.38"/>
<rect x="28.65" y="168.20" width="27.30" height="26.10" fill="url(#g_ae)"/>
<rect x="28.65" y="168.20" width="27.30" height="26.10" fill="url(#g_shine)"/>
<rect x="84.60" y="168.00" width="28.20" height="28.00" fill="#e6f25c" fill-opacity="0.38"/>
<rect x="85.05" y="168.20" width="27.30" height="26.10" fill="url(#g_tm)"/>
<rect x="85.05" y="168.20" width="27.30" height="26.10" fill="url(#g_shine)"/>
<rect x="112.80" y="168.00" width="28.20" height="28.00" fill="#e6f25c" fill-opacity="0.38"/>
<rect x="113.25" y="168.20" width="27.30" height="26.10" fill="url(#g_tm)"/>
<rect x="113.25" y="168.20" width="27.30" height="26.10" fill="url(#g_shine)"/>
<rect x="141.00" y="168.00" width="28.20" height="28.00" fill="#e6f25c" fill-opacity="0.38"/>
<rect x="141.45" y="168.20" width="27.30" height="26.10" fill="url(#g_tm)"/>
<rect x="141.45" y="168.20" width="27.30" height="26.10" fill="url(#g_shine)"/>
<rect x="169.20" y="168.00" width="28.20" height="28.00" fill="#e6f25c" fill-opacity="0.38"/>
<rect x="169.65" y="168.20" width="27.30" height="26.10" fill="url(#g_tm)"/>
<rect x="169.65" y="168.20" width="27.30" height="26.10" fill="url(#g_shine)"/>
<rect x="197.40" y="168.00" width="28.20" height="28.00" fill="#e6f25c" fill-opacity="0.38"/>
<rect x="197.85" y="168.20" width="27.30" height="26.10" fill="url(#g_tm)"/>
<rect x="197.85" y="168.20" width="27.30" height="26.10" fill="url(#g_shine)"/>
<rect x="225.60" y="168.00" width="28.20" height="28.00" fill="#e6f25c" fill-opacity="0.38"/>
<rect x="226.05" y="168.20" width="27.30" height="26.10" fill="url(#g_tm)"/>
<rect x="226.05" y="168.20" width="27.30" height="26.10" fill="url(#g_shine)"/>
<rect x="253.80" y="168.00" width="28.20" height="28.00" fill="#e6f25c" fill-opacity="0.38"/>
<rect x="254.25" y="168.20" width="27.30" height="26.10" fill="url(#g_tm)"/>
<rect x="254.25" y="168.20" width="27.30" height="26.10" fill="url(#g_shine)"/>
<rect x="282.00" y="168.00" width="28.20" height="28.00" fill="#e6f25c" fill-opacity="0.38"/>
<rect x="282.45" y="168.20" width="27.30" height="26.10" fill="url(#g_tm)"/>
<rect x="282.45" y="168.20" width="27.30" height="26.10" fill="url(#g_shine)"/>
<rect x="310.20" y="168.00" width="28.20" height="28.00" fill="#e6f25c" fill-opacity="0.38"/>
<rect x="310.65" y="168.20" width="27.30" height="26.10" fill="url(#g_tm)"/>
<rect x="310.65" y="168.20" width="27.30" height="26.10" fill="url(#g_shine)"/>
<rect x="338.40" y="168.00" width="28.20" height="28.00" fill="#5cbc4a" fill-opacity="0.38"/>
<rect x="338.85" y="168.20" width="27.30" height="26.10" fill="url(#g_bm)"/>
<rect x="338.85" y="168.20" width="27.30" height="26.10" fill="url(#g_shine)"/>
<rect x="366.60" y="168.00" width="28.20" height="28.00" fill="#5cbc4a" fill-opacity="0.38"/>
<rect x="367.05" y="168.20" width="27.30" height="26.10" fill="url(#g_bm)"/>
<rect x="367.05" y="168.20" width="27.30" height="26.10" fill="url(#g_shine)"/>
<rect x="394.80" y="168.00" width="28.20" height="28.00" fill="#5cbc4a" fill-opacity="0.38"/>
<rect x="395.25" y="168.20" width="27.30" height="26.10" fill="url(#g_bm)"/>
<rect x="395.25" y="168.20" width="27.30" height="26.10" fill="url(#g_shine)"/>
<rect x="423.00" y="168.00" width="28.20" height="28.00" fill="#5cbc4a" fill-opacity="0.38"/>
<rect x="423.45" y="168.20" width="27.30" height="26.10" fill="url(#g_bm)"/>
<rect x="423.45" y="168.20" width="27.30" height="26.10" fill="url(#g_shine)"/>
<rect x="451.20" y="168.00" width="28.20" height="28.00" fill="#9486d4" fill-opacity="0.38"/>
<rect x="451.65" y="168.20" width="27.30" height="26.10" fill="url(#g_hal)"/>
<rect x="451.65" y="168.20" width="27.30" height="26.10" fill="url(#g_shine)"/>
<rect x="479.40" y="168.00" width="28.20" height="28.00" fill="#7a5cc0" fill-opacity="0.38"/>
<rect x="479.85" y="168.20" width="27.30" height="26.10" fill="url(#g_ng)"/>
<rect x="479.85" y="168.20" width="27.30" height="26.10" fill="url(#g_shine)"/>
<rect x="69.37" y="202.25" width="28.20" height="28.00" fill="#addf4c" fill-opacity="0.38"/>
<rect x="69.82" y="202.45" width="27.30" height="26.10" fill="url(#g_lan)"/>
<rect x="69.82" y="202.45" width="27.30" height="26.10" fill="url(#g_shine)"/>
<rect x="97.57" y="202.25" width="28.20" height="28.00" fill="#addf4c" fill-opacity="0.38"/>
<rect x="98.02" y="202.45" width="27.30" height="26.10" fill="url(#g_lan)"/>
<rect x="98.02" y="202.45" width="27.30" height="26.10" fill="url(#g_shine)"/>
<rect x="125.77" y="202.25" width="28.20" height="28.00" fill="#addf4c" fill-opacity="0.38"/>
<rect x="126.22" y="202.45" width="27.30" height="26.10" fill="url(#g_lan)"/>
<rect x="126.22" y="202.45" width="27.30" height="26.10" fill="url(#g_shine)"/>
<rect x="153.97" y="202.25" width="28.20" height="28.00" fill="#addf4c" fill-opacity="0.38"/>
<rect x="154.42" y="202.45" width="27.30" height="26.10" fill="url(#g_lan)"/>
<rect x="154.42" y="202.45" width="27.30" height="26.10" fill="url(#g_shine)"/>
<rect x="182.17" y="202.25" width="28.20" height="28.00" fill="#addf4c" fill-opacity="0.38"/>
<rect x="182.62" y="202.45" width="27.30" height="26.10" fill="url(#g_lan)"/>
<rect x="182.62" y="202.45" width="27.30" height="26.10" fill="url(#g_shine)"/>
<rect x="210.37" y="202.25" width="28.20" height="28.00" fill="#addf4c" fill-opacity="0.38"/>
<rect x="210.82" y="202.45" width="27.30" height="26.10" fill="url(#g_lan)"/>
<rect x="210.82" y="202.45" width="27.30" height="26.10" fill="url(#g_shine)"/>
<rect x="238.57" y="202.25" width="28.20" height="28.00" fill="#addf4c" fill-opacity="0.38"/>
<rect x="239.02" y="202.45" width="27.30" height="26.10" fill="url(#g_lan)"/>
<rect x="239.02" y="202.45" width="27.30" height="26.10" fill="url(#g_shine)"/>
<rect x="266.77" y="202.25" width="28.20" height="28.00" fill="#addf4c" fill-opacity="0.38"/>
<rect x="267.22" y="202.45" width="27.30" height="26.10" fill="url(#g_lan)"/>
<rect x="267.22" y="202.45" width="27.30" height="26.10" fill="url(#g_shine)"/>
<rect x="294.97" y="202.25" width="28.20" height="28.00" fill="#addf4c" fill-opacity="0.38"/>
<rect x="295.42" y="202.45" width="27.30" height="26.10" fill="url(#g_lan)"/>
<rect x="295.42" y="202.45" width="27.30" height="26.10" fill="url(#g_shine)"/>
<rect x="323.17" y="202.25" width="28.20" height="28.00" fill="#addf4c" fill-opacity="0.38"/>
<rect x="323.62" y="202.45" width="27.30" height="26.10" fill="url(#g_lan)"/>
<rect x="323.62" y="202.45" width="27.30" height="26.10" fill="url(#g_shine)"/>
<rect x="351.37" y="202.25" width="28.20" height="28.00" fill="#addf4c" fill-opacity="0.38"/>
<rect x="351.82" y="202.45" width="27.30" height="26.10" fill="url(#g_lan)"/>
<rect x="351.82" y="202.45" width="27.30" height="26.10" fill="url(#g_shine)"/>
<rect x="379.57" y="202.25" width="28.20" height="28.00" fill="#addf4c" fill-opacity="0.38"/>
<rect x="380.02" y="202.45" width="27.30" height="26.10" fill="url(#g_lan)"/>
<rect x="380.02" y="202.45" width="27.30" height="26.10" fill="url(#g_shine)"/>
<rect x="407.77" y="202.25" width="28.20" height="28.00" fill="#addf4c" fill-opacity="0.38"/>
<rect x="408.22" y="202.45" width="27.30" height="26.10" fill="url(#g_lan)"/>
<rect x="408.22" y="202.45" width="27.30" height="26.10" fill="url(#g_shine)"/>
<rect x="435.97" y="202.25" width="28.20" height="28.00" fill="#addf4c" fill-opacity="0.38"/>
<rect x="436.42" y="202.45" width="27.30" height="26.10" fill="url(#g_lan)"/>
<rect x="436.42" y="202.45" width="27.30" height="26.10" fill="url(#g_shine)"/>
<rect x="464.17" y="202.25" width="28.20" height="28.00" fill="#addf4c" fill-opacity="0.38"/>
<rect x="464.62" y="202.45" width="27.30" height="26.10" fill="url(#g_lan)"/>
<rect x="464.62" y="202.45" width="27.30" height="26.10" fill="url(#g_shine)"/>
<rect x="69.37" y="230.50" width="28.20" height="28.00" fill="#84cd62" fill-opacity="0.38"/>
<rect x="69.82" y="230.70" width="27.30" height="26.10" fill="url(#g_act)"/>
<rect x="69.82" y="230.70" width="27.30" height="26.10" fill="url(#g_shine)"/>
<rect x="97.57" y="230.50" width="28.20" height="28.00" fill="#84cd62" fill-opacity="0.38"/>
<rect x="98.02" y="230.70" width="27.30" height="26.10" fill="url(#g_act)"/>
<rect x="98.02" y="230.70" width="27.30" height="26.10" fill="url(#g_shine)"/>
<rect x="125.77" y="230.50" width="28.20" height="28.00" fill="#84cd62" fill-opacity="0.38"/>
<rect x="126.22" y="230.70" width="27.30" height="26.10" fill="url(#g_act)"/>
<rect x="126.22" y="230.70" width="27.30" height="26.10" fill="url(#g_shine)"/>
<rect x="153.97" y="230.50" width="28.20" height="28.00" fill="#84cd62" fill-opacity="0.38"/>
<rect x="154.42" y="230.70" width="27.30" height="26.10" fill="url(#g_act)"/>
<rect x="154.42" y="230.70" width="27.30" height="26.10" fill="url(#g_shine)"/>
<rect x="182.17" y="230.50" width="28.20" height="28.00" fill="#84cd62" fill-opacity="0.38"/>
<rect x="182.62" y="230.70" width="27.30" height="26.10" fill="url(#g_act)"/>
<rect x="182.62" y="230.70" width="27.30" height="26.10" fill="url(#g_shine)"/>
<rect x="210.37" y="230.50" width="28.20" height="28.00" fill="#84cd62" fill-opacity="0.38"/>
<rect x="210.82" y="230.70" width="27.30" height="26.10" fill="url(#g_act)"/>
<rect x="210.82" y="230.70" width="27.30" height="26.10" fill="url(#g_shine)"/>
<rect x="238.57" y="230.50" width="28.20" height="28.00" fill="#84cd62" fill-opacity="0.38"/>
<rect x="239.02" y="230.70" width="27.30" height="26.10" fill="url(#g_act)"/>
<rect x="239.02" y="230.70" width="27.30" height="26.10" fill="url(#g_shine)"/>
<rect x="266.77" y="230.50" width="28.20" height="28.00" fill="#84cd62" fill-opacity="0.38"/>
<rect x="267.22" y="230.70" width="27.30" height="26.10" fill="url(#g_act)"/>
<rect x="267.22" y="230.70" width="27.30" height="26.10" fill="url(#g_shine)"/>
<rect x="294.97" y="230.50" width="28.20" height="28.00" fill="#84cd62" fill-opacity="0.38"/>
<rect x="295.42" y="230.70" width="27.30" height="26.10" fill="url(#g_act)"/>
<rect x="295.42" y="230.70" width="27.30" height="26.10" fill="url(#g_shine)"/>
<rect x="323.17" y="230.50" width="28.20" height="28.00" fill="#84cd62" fill-opacity="0.38"/>
<rect x="323.62" y="230.70" width="27.30" height="26.10" fill="url(#g_act)"/>
<rect x="323.62" y="230.70" width="27.30" height="26.10" fill="url(#g_shine)"/>
<rect x="351.37" y="230.50" width="28.20" height="28.00" fill="#84cd62" fill-opacity="0.38"/>
<rect x="351.82" y="230.70" width="27.30" height="26.10" fill="url(#g_act)"/>
<rect x="351.82" y="230.70" width="27.30" height="26.10" fill="url(#g_shine)"/>
<rect x="379.57" y="230.50" width="28.20" height="28.00" fill="#84cd62" fill-opacity="0.38"/>
<rect x="380.02" y="230.70" width="27.30" height="26.10" fill="url(#g_act)"/>
<rect x="380.02" y="230.70" width="27.30" height="26.10" fill="url(#g_shine)"/>
<rect x="407.77" y="230.50" width="28.20" height="28.00" fill="#84cd62" fill-opacity="0.38"/>
<rect x="408.22" y="230.70" width="27.30" height="26.10" fill="url(#g_act)"/>
<rect x="408.22" y="230.70" width="27.30" height="26.10" fill="url(#g_shine)"/>
<rect x="435.97" y="230.50" width="28.20" height="28.00" fill="#84cd62" fill-opacity="0.38"/>
<rect x="436.42" y="230.70" width="27.30" height="26.10" fill="url(#g_act)"/>
<rect x="436.42" y="230.70" width="27.30" height="26.10" fill="url(#g_shine)"/>
<rect x="464.17" y="230.50" width="28.20" height="28.00" fill="#84cd62" fill-opacity="0.38"/>
<rect x="464.62" y="230.70" width="27.30" height="26.10" fill="url(#g_act)"/>
<rect x="464.62" y="230.70" width="27.30" height="26.10" fill="url(#g_shine)"/>
<rect x="310.20" y="84.00" width="28.20" height="110.30" fill="url(#g_zn)"/>
<text x="1.60" y="5.20" font-size="4.2" font-weight="bold" fill="#0a0a0a" fill-opacity="0.8">1</text>
<text x="15.30" y="15.80" font-size="11.8" text-anchor="middle" fill="#0a0a0a">H</text>
<text x="15.30" y="20.80" font-size="3.7" text-anchor="middle" fill="#0a0a0a" fill-opacity="0.8">Hydrogen</text>
<text x="15.30" y="24.60" font-size="3.7" text-anchor="middle" fill="#0a0a0a" fill-opacity="0.8">1.008</text>
<text x="481.00" y="5.20" font-size="4.2" font-weight="bold" fill="#0a0a0a" fill-opacity="0.8">2</text>
<text x="494.70" y="15.80" font-size="11.8" text-anchor="middle" fill="#0a0a0a">He</text>
<text x="494.70" y="20.80" font-size="3.7" text-anchor="middle" fill="#0a0a0a" fill-opacity="0.8">Helium</text>
<text x="494.70" y="24.60" font-size="3.7" text-anchor="middle" fill="#0a0a0a" fill-opacity="0.8">4.003</text>
<text x="1.60" y="33.20" font-size="4.2" font-weight="bold" fill="#0a0a0a" fill-opacity="0.8">3</text>
<text x="15.30" y="43.80" font-size="11.8" text-anchor="middle" fill="#0a0a0a">Li</text>
<text x="15.30" y="48.80" font-size="3.7" text-anchor="middle" fill="#0a0a0a" fill-opacity="0.8">Lithium</text>
<text x="15.30" y="52.60" font-size="3.7" text-anchor="middle" fill="#0a0a0a" fill-opacity="0.8">6.941</text>
<text x="29.80" y="33.20" font-size="4.2" font-weight="bold" fill="#0a0a0a" fill-opacity="0.8">4</text>
<text x="43.50" y="43.80" font-size="11.8" text-anchor="middle" fill="#0a0a0a">Be</text>
<text x="43.50" y="48.80" font-size="3.7" text-anchor="middle" fill="#0a0a0a" fill-opacity="0.8">Beryllium</text>
<text x="43.50" y="52.60" font-size="3.7" text-anchor="middle" fill="#0a0a0a" fill-opacity="0.8">9.012</text>
<text x="340.00" y="33.20" font-size="4.2" font-weight="bold" fill="#0a0a0a" fill-opacity="0.8">5</text>
<text x="353.70" y="43.80" font-size="11.8" text-anchor="middle" fill="#0a0a0a">B</text>
<text x="353.70" y="48.80" font-size="3.7" text-anchor="middle" fill="#0a0a0a" fill-opacity="0.8">Boron</text>
<text x="353.70" y="52.60" font-size="3.7" text-anchor="middle" fill="#0a0a0a" fill-opacity="0.8">10.811</text>
<text x="368.20" y="33.20" font-size="4.2" font-weight="bold" fill="#0a0a0a" fill-opacity="0.8">6</text>
<text x="381.90" y="43.80" font-size="11.8" text-anchor="middle" fill="#0a0a0a">C</text>
<text x="381.90" y="48.80" font-size="3.7" text-anchor="middle" fill="#0a0a0a" fill-opacity="0.8">Carbon</text>
<text x="381.90" y="52.60" font-size="3.7" text-anchor="middle" fill="#0a0a0a" fill-opacity="0.8">12.011</text>
<text x="396.40" y="33.20" font-size="4.2" font-weight="bold" fill="#0a0a0a" fill-opacity="0.8">7</text>
<text x="410.10" y="43.80" font-size="11.8" text-anchor="middle" fill="#0a0a0a">N</text>
<text x="410.10" y="48.80" font-size="3.7" text-anchor="middle" fill="#0a0a0a" fill-opacity="0.8">Nitrogen</text>
<text x="410.10" y="52.60" font-size="3.7" text-anchor="middle" fill="#0a0a0a" fill-opacity="0.8">14.007</text>
<text x="424.60" y="33.20" font-size="4.2" font-weight="bold" fill="#0a0a0a" fill-opacity="0.8">8</text>
<text x="438.30" y="43.80" font-size="11.8" text-anchor="middle" fill="#0a0a0a">O</text>
<text x="438.30" y="48.80" font-size="3.7" text-anchor="middle" fill="#0a0a0a" fill-opacity="0.8">Oxygen</text>
<text x="438.30" y="52.60" font-size="3.7" text-anchor="middle" fill="#0a0a0a" fill-opacity="0.8">15.999</text>
<text x="452.80" y="33.20" font-size="4.2" font-weight="bold" fill="#0a0a0a" fill-opacity="0.8">9</text>
<text x="466.50" y="43.80" font-size="11.8" text-anchor="middle" fill="#0a0a0a">F</text>
<text x="466.50" y="48.80" font-size="3.7" text-anchor="middle" fill="#0a0a0a" fill-opacity="0.8">Fluorine</text>
<text x="466.50" y="52.60" font-size="3.7" text-anchor="middle" fill="#0a0a0a" fill-opacity="0.8">18.998</text>
<text x="481.00" y="33.20" font-size="4.2" font-weight="bold" fill="#0a0a0a" fill-opacity="0.8">10</text>
<text x="494.70" y="43.80" font-size="11.8" text-anchor="middle" fill="#0a0a0a">Ne</text>
<text x="494.70" y="48.80" font-size="3.7" text-anchor="middle" fill="#0a0a0a" fill-opacity="0.8">Neon</text>
<text x="494.70" y="52.60" font-size="3.7" text-anchor="middle" fill="#0a0a0a" fill-opacity="0.8">20.180</text>
<text x="1.60" y="61.20" font-size="4.2" font-weight="bold" fill="#0a0a0a" fill-opacity="0.8">11</text>
<text x="15.30" y="71.80" font-size="11.8" text-anchor="middle" fill="#0a0a0a">Na</text>
<text x="15.30" y="76.80" font-size="3.7" text-anchor="middle" fill="#0a0a0a" fill-opacity="0.8">Sodium</text>
<text x="15.30" y="80.60" font-size="3.7" text-anchor="middle" fill="#0a0a0a" fill-opacity="0.8">22.990</text>
<text x="29.80" y="61.20" font-size="4.2" font-weight="bold" fill="#0a0a0a" fill-opacity="0.8">12</text>
<text x="43.50" y="71.80" font-size="11.8" text-anchor="middle" fill="#0a0a0a">Mg</text>
<text x="43.50" y="76.80" font-size="3.7" text-anchor="middle" fill="#0a0a0a" fill-opacity="0.8">Magnesium</text>
<text x="43.50" y="80.60" font-size="3.7" text-anchor="middle" fill="#0a0a0a" fill-opacity="0.8">24.305</text>
<text x="340.00" y="61.20" font-size="4.2" font-weight="bold" fill="#0a0a0a" fill-opacity="0.8">13</text>
<text x="353.70" y="71.80" font-size="11.8" text-anchor="middle" fill="#0a0a0a">Al</text>
<text x="353.70" y="76.80" font-size="3.7" text-anchor="middle" fill="#0a0a0a" fill-opacity="0.8">Aluminum</text>
<text x="353.70" y="80.60" font-size="3.7" text-anchor="middle" fill="#0a0a0a" fill-opacity="0.8">26.982</text>
<text x="368.20" y="61.20" font-size="4.2" font-weight="bold" fill="#0a0a0a" fill-opacity="0.8">14</text>
<text x="381.90" y="71.80" font-size="11.8" text-anchor="middle" fill="#0a0a0a">Si</text>
<text x="381.90" y="76.80" font-size="3.7" text-anchor="middle" fill="#0a0a0a" fill-opacity="0.8">Silicon</text>
<text x="381.90" y="80.60" font-size="3.7" text-anchor="middle" fill="#0a0a0a" fill-opacity="0.8">28.086</text>
<text x="396.40" y="61.20" font-size="4.2" font-weight="bold" fill="#0a0a0a" fill-opacity="0.8">15</text>
<text x="410.10" y="71.80" font-size="11.8" text-anchor="middle" fill="#0a0a0a">P</text>
<text x="410.10" y="76.80" font-size="3.7" text-anchor="middle" fill="#0a0a0a" fill-opacity="0.8">Phosphorus</text>
<text x="410.10" y="80.60" font-size="3.7" text-anchor="middle" fill="#0a0a0a" fill-opacity="0.8">30.974</text>
<text x="424.60" y="61.20" font-size="4.2" font-weight="bold" fill="#0a0a0a" fill-opacity="0.8">16</text>
<text x="438.30" y="71.80" font-size="11.8" text-anchor="middle" fill="#0a0a0a">S</text>
<text x="438.30" y="76.80" font-size="3.7" text-anchor="middle" fill="#0a0a0a" fill-opacity="0.8">Sulfur</text>
<text x="438.30" y="80.60" font-size="3.7" text-anchor="middle" fill="#0a0a0a" fill-opacity="0.8">32.066</text>
<text x="452.80" y="61.20" font-size="4.2" font-weight="bold" fill="#0a0a0a" fill-opacity="0.8">17</text>
<text x="466.50" y="71.80" font-size="11.8" text-anchor="middle" fill="#0a0a0a">Cl</text>
<text x="466.50" y="76.80" font-size="3.7" text-anchor="middle" fill="#0a0a0a" fill-opacity="0.8">Chlorine</text>
<text x="466.50" y="80.60" font-size="3.7" text-anchor="middle" fill="#0a0a0a" fill-opacity="0.8">35.453</text>
<text x="481.00" y="61.20" font-size="4.2" font-weight="bold" fill="#0a0a0a" fill-opacity="0.8">18</text>
<text x="494.70" y="71.80" font-size="11.8" text-anchor="middle" fill="#0a0a0a">Ar</text>
<text x="494.70" y="76.80" font-size="3.7" text-anchor="middle" fill="#0a0a0a" fill-opacity="0.8">Argon</text>
<text x="494.70" y="80.60" font-size="3.7" text-anchor="middle" fill="#0a0a0a" fill-opacity="0.8">39.948</text>
<text x="1.60" y="89.20" font-size="4.2" font-weight="bold" fill="#0a0a0a" fill-opacity="0.8">19</text>
<text x="15.30" y="99.80" font-size="11.8" text-anchor="middle" fill="#0a0a0a">K</text>
<text x="15.30" y="104.80" font-size="3.7" text-anchor="middle" fill="#0a0a0a" fill-opacity="0.8">Potassium</text>
<text x="15.30" y="108.60" font-size="3.7" text-anchor="middle" fill="#0a0a0a" fill-opacity="0.8">39.098</text>
<text x="29.80" y="89.20" font-size="4.2" font-weight="bold" fill="#0a0a0a" fill-opacity="0.8">20</text>
<text x="43.50" y="99.80" font-size="11.8" text-anchor="middle" fill="#0a0a0a">Ca</text>
<text x="43.50" y="104.80" font-size="3.7" text-anchor="middle" fill="#0a0a0a" fill-opacity="0.8">Calcium</text>
<text x="43.50" y="108.60" font-size="3.7" text-anchor="middle" fill="#0a0a0a" fill-opacity="0.8">40.078</text>
<text x="58.00" y="89.20" font-size="4.2" font-weight="bold" fill="#0a0a0a" fill-opacity="0.8">21</text>
<text x="71.70" y="99.80" font-size="11.8" text-anchor="middle" fill="#0a0a0a">Sc</text>
<text x="71.70" y="104.80" font-size="3.7" text-anchor="middle" fill="#0a0a0a" fill-opacity="0.8">Scandium</text>
<text x="71.70" y="108.60" font-size="3.7" text-anchor="middle" fill="#0a0a0a" fill-opacity="0.8">44.956</text>
<text x="86.20" y="89.20" font-size="4.2" font-weight="bold" fill="#0a0a0a" fill-opacity="0.8">22</text>
<text x="99.90" y="99.80" font-size="11.8" text-anchor="middle" fill="#0a0a0a">Ti</text>
<text x="99.90" y="104.80" font-size="3.7" text-anchor="middle" fill="#0a0a0a" fill-opacity="0.8">Titanium</text>
<text x="99.90" y="108.60" font-size="3.7" text-anchor="middle" fill="#0a0a0a" fill-opacity="0.8">47.867</text>
<text x="114.40" y="89.20" font-size="4.2" font-weight="bold" fill="#0a0a0a" fill-opacity="0.8">23</text>
<text x="128.10" y="99.80" font-size="11.8" text-anchor="middle" fill="#0a0a0a">V</text>
<text x="128.10" y="104.80" font-size="3.7" text-anchor="middle" fill="#0a0a0a" fill-opacity="0.8">Vanadium</text>
<text x="128.10" y="108.60" font-size="3.7" text-anchor="middle" fill="#0a0a0a" fill-opacity="0.8">50.942</text>
<text x="142.60" y="89.20" font-size="4.2" font-weight="bold" fill="#7e1a10" fill-opacity="0.55">24</text>
<text x="156.30" y="99.80" font-size="11.8" text-anchor="middle" fill="#7e1a10">Cr</text>
<text x="156.30" y="104.80" font-size="3.7" text-anchor="middle" fill="#7e1a10" fill-opacity="0.55">Chromium</text>
<text x="156.30" y="108.60" font-size="3.7" text-anchor="middle" fill="#7e1a10" fill-opacity="0.55">51.996</text>
<text x="170.80" y="89.20" font-size="4.2" font-weight="bold" fill="#20408e" fill-opacity="0.55">25</text>
<text x="184.50" y="99.80" font-size="11.8" text-anchor="middle" fill="#20408e">Mn</text>
<text x="184.50" y="104.80" font-size="3.7" text-anchor="middle" fill="#20408e" fill-opacity="0.55">Manganese</text>
<text x="184.50" y="108.60" font-size="3.7" text-anchor="middle" fill="#20408e" fill-opacity="0.55">54.938</text>
<text x="199.00" y="89.20" font-size="4.2" font-weight="bold" fill="#0a0a0a" fill-opacity="0.8">26</text>
<text x="212.70" y="99.80" font-size="11.8" text-anchor="middle" fill="#0a0a0a">Fe</text>
<text x="212.70" y="104.80" font-size="3.7" text-anchor="middle" fill="#0a0a0a" fill-opacity="0.8">Iron</text>
<text x="212.70" y="108.60" font-size="3.7" text-anchor="middle" fill="#0a0a0a" fill-opacity="0.8">55.845</text>
<text x="227.20" y="89.20" font-size="4.2" font-weight="bold" fill="#7e1a10" fill-opacity="0.55">27</text>
<text x="240.90" y="99.80" font-size="11.8" text-anchor="middle" fill="#7e1a10">Co</text>
<text x="240.90" y="104.80" font-size="3.7" text-anchor="middle" fill="#7e1a10" fill-opacity="0.55">Cobalt</text>
<text x="240.90" y="108.60" font-size="3.7" text-anchor="middle" fill="#7e1a10" fill-opacity="0.55">58.933</text>
<text x="255.40" y="89.20" font-size="4.2" font-weight="bold" fill="#0a0a0a" fill-opacity="0.8">28</text>
<text x="269.10" y="99.80" font-size="11.8" text-anchor="middle" fill="#0a0a0a">Ni</text>
<text x="269.10" y="104.80" font-size="3.7" text-anchor="middle" fill="#0a0a0a" fill-opacity="0.8">Nickel</text>
<text x="269.10" y="108.60" font-size="3.7" text-anchor="middle" fill="#0a0a0a" fill-opacity="0.8">58.693</text>
<text x="283.60" y="89.20" font-size="4.2" font-weight="bold" fill="#0a0a0a" fill-opacity="0.8">29</text>
<text x="297.30" y="99.80" font-size="11.8" text-anchor="middle" fill="#0a0a0a">Cu</text>
<text x="297.30" y="104.80" font-size="3.7" text-anchor="middle" fill="#0a0a0a" fill-opacity="0.8">Copper</text>
<text x="297.30" y="108.60" font-size="3.7" text-anchor="middle" fill="#0a0a0a" fill-opacity="0.8">63.546</text>
<text x="311.80" y="89.20" font-size="4.2" font-weight="bold" fill="#0a0a0a" fill-opacity="0.8">30</text>
<text x="325.50" y="99.80" font-size="11.8" text-anchor="middle" fill="#0a0a0a">Zn</text>
<text x="325.50" y="104.80" font-size="3.7" text-anchor="middle" fill="#0a0a0a" fill-opacity="0.8">Zinc</text>
<text x="325.50" y="108.60" font-size="3.7" text-anchor="middle" fill="#0a0a0a" fill-opacity="0.8">65.38</text>
<text x="340.00" y="89.20" font-size="4.2" font-weight="bold" fill="#0a0a0a" fill-opacity="0.8">31</text>
<text x="353.70" y="99.80" font-size="11.8" text-anchor="middle" fill="#0a0a0a">Ga</text>
<text x="353.70" y="104.80" font-size="3.7" text-anchor="middle" fill="#0a0a0a" fill-opacity="0.8">Gallium</text>
<text x="353.70" y="108.60" font-size="3.7" text-anchor="middle" fill="#0a0a0a" fill-opacity="0.8">69.723</text>
<text x="368.20" y="89.20" font-size="4.2" font-weight="bold" fill="#0a0a0a" fill-opacity="0.8">32</text>
<text x="381.90" y="99.80" font-size="11.8" text-anchor="middle" fill="#0a0a0a">Ge</text>
<text x="381.90" y="104.80" font-size="3.7" text-anchor="middle" fill="#0a0a0a" fill-opacity="0.8">Germanium</text>
<text x="381.90" y="108.60" font-size="3.7" text-anchor="middle" fill="#0a0a0a" fill-opacity="0.8">72.631</text>
<text x="396.40" y="89.20" font-size="4.2" font-weight="bold" fill="#0a0a0a" fill-opacity="0.8">33</text>
<text x="410.10" y="99.80" font-size="11.8" text-anchor="middle" fill="#0a0a0a">As</text>
<text x="410.10" y="104.80" font-size="3.7" text-anchor="middle" fill="#0a0a0a" fill-opacity="0.8">Arsenic</text>
<text x="410.10" y="108.60" font-size="3.7" text-anchor="middle" fill="#0a0a0a" fill-opacity="0.8">74.922</text>
<text x="424.60" y="89.20" font-size="4.2" font-weight="bold" fill="#0a0a0a" fill-opacity="0.8">34</text>
<text x="438.30" y="99.80" font-size="11.8" text-anchor="middle" fill="#0a0a0a">Se</text>
<text x="438.30" y="104.80" font-size="3.7" text-anchor="middle" fill="#0a0a0a" fill-opacity="0.8">Selenium</text>
<text x="438.30" y="108.60" font-size="3.7" text-anchor="middle" fill="#0a0a0a" fill-opacity="0.8">78.971</text>
<text x="452.80" y="89.20" font-size="4.2" font-weight="bold" fill="#0a0a0a" fill-opacity="0.8">35</text>
<text x="466.50" y="99.80" font-size="11.8" text-anchor="middle" fill="#0a0a0a">Br</text>
<text x="466.50" y="104.80" font-size="3.7" text-anchor="middle" fill="#0a0a0a" fill-opacity="0.8">Bromine</text>
<text x="466.50" y="108.60" font-size="3.7" text-anchor="middle" fill="#0a0a0a" fill-opacity="0.8">79.904</text>
<text x="481.00" y="89.20" font-size="4.2" font-weight="bold" fill="#0a0a0a" fill-opacity="0.8">36</text>
<text x="494.70" y="99.80" font-size="11.8" text-anchor="middle" fill="#0a0a0a">Kr</text>
<text x="494.70" y="104.80" font-size="3.7" text-anchor="middle" fill="#0a0a0a" fill-opacity="0.8">Krypton</text>
<text x="494.70" y="108.60" font-size="3.7" text-anchor="middle" fill="#0a0a0a" fill-opacity="0.8">84.798</text>
<text x="1.60" y="117.20" font-size="4.2" font-weight="bold" fill="#0a0a0a" fill-opacity="0.8">37</text>
<text x="15.30" y="127.80" font-size="11.8" text-anchor="middle" fill="#0a0a0a">Rb</text>
<text x="15.30" y="132.80" font-size="3.7" text-anchor="middle" fill="#0a0a0a" fill-opacity="0.8">Rubidium</text>
<text x="15.30" y="136.60" font-size="3.7" text-anchor="middle" fill="#0a0a0a" fill-opacity="0.8">84.468</text>
<text x="29.80" y="117.20" font-size="4.2" font-weight="bold" fill="#0a0a0a" fill-opacity="0.8">38</text>
<text x="43.50" y="127.80" font-size="11.8" text-anchor="middle" fill="#0a0a0a">Sr</text>
<text x="43.50" y="132.80" font-size="3.7" text-anchor="middle" fill="#0a0a0a" fill-opacity="0.8">Strontium</text>
<text x="43.50" y="136.60" font-size="3.7" text-anchor="middle" fill="#0a0a0a" fill-opacity="0.8">87.62</text>
<text x="58.00" y="117.20" font-size="4.2" font-weight="bold" fill="#0a0a0a" fill-opacity="0.8">39</text>
<text x="71.70" y="127.80" font-size="11.8" text-anchor="middle" fill="#0a0a0a">Y</text>
<text x="71.70" y="132.80" font-size="3.7" text-anchor="middle" fill="#0a0a0a" fill-opacity="0.8">Yttrium</text>
<text x="71.70" y="136.60" font-size="3.7" text-anchor="middle" fill="#0a0a0a" fill-opacity="0.8">88.906</text>
<text x="86.20" y="117.20" font-size="4.2" font-weight="bold" fill="#0a0a0a" fill-opacity="0.8">40</text>
<text x="99.90" y="127.80" font-size="11.8" text-anchor="middle" fill="#0a0a0a">Zr</text>
<text x="99.90" y="132.80" font-size="3.7" text-anchor="middle" fill="#0a0a0a" fill-opacity="0.8">Zirconium</text>
<text x="99.90" y="136.60" font-size="3.7" text-anchor="middle" fill="#0a0a0a" fill-opacity="0.8">91.224</text>
<text x="114.40" y="117.20" font-size="4.2" font-weight="bold" fill="#0a0a0a" fill-opacity="0.8">41</text>
<text x="128.10" y="127.80" font-size="11.8" text-anchor="middle" fill="#0a0a0a">Nb</text>
<text x="128.10" y="132.80" font-size="3.7" text-anchor="middle" fill="#0a0a0a" fill-opacity="0.8">Niobium</text>
<text x="128.10" y="136.60" font-size="3.7" text-anchor="middle" fill="#0a0a0a" fill-opacity="0.8">92.906</text>
<text x="142.60" y="117.20" font-size="4.2" font-weight="bold" fill="#7e1a10" fill-opacity="0.55">42</text>
<text x="156.30" y="127.80" font-size="11.8" text-anchor="middle" fill="#7e1a10">Mo</text>
<text x="156.30" y="132.80" font-size="3.7" text-anchor="middle" fill="#7e1a10" fill-opacity="0.55">Molybdenum</text>
<text x="156.30" y="136.60" font-size="3.7" text-anchor="middle" fill="#7e1a10" fill-opacity="0.55">95.95</text>
<text x="170.80" y="117.20" font-size="4.2" font-weight="bold" fill="#0a0a0a" fill-opacity="0.8">43</text>
<text x="184.50" y="127.80" font-size="11.8" text-anchor="middle" fill="#0a0a0a">Tc</text>
<text x="184.50" y="132.80" font-size="3.7" text-anchor="middle" fill="#0a0a0a" fill-opacity="0.8">Technetium</text>
<text x="184.50" y="136.60" font-size="3.7" text-anchor="middle" fill="#0a0a0a" fill-opacity="0.8">98.907</text>
<text x="199.00" y="117.20" font-size="4.2" font-weight="bold" fill="#7e1a10" fill-opacity="0.55">44</text>
<text x="212.70" y="127.80" font-size="11.8" text-anchor="middle" fill="#7e1a10">Ru</text>
<text x="212.70" y="132.80" font-size="3.7" text-anchor="middle" fill="#7e1a10" fill-opacity="0.55">Ruthenium</text>
<text x="212.70" y="136.60" font-size="3.7" text-anchor="middle" fill="#7e1a10" fill-opacity="0.55">101.07</text>
<text x="227.20" y="117.20" font-size="4.2" font-weight="bold" fill="#7e1a10" fill-opacity="0.55">45</text>
<text x="240.90" y="127.80" font-size="11.8" text-anchor="middle" fill="#7e1a10">Rh</text>
<text x="240.90" y="132.80" font-size="3.7" text-anchor="middle" fill="#7e1a10" fill-opacity="0.55">Rhodium</text>
<text x="240.90" y="136.60" font-size="3.7" text-anchor="middle" fill="#7e1a10" fill-opacity="0.55">102.906</text>
<text x="255.40" y="117.20" font-size="4.2" font-weight="bold" fill="#7e1a10" fill-opacity="0.55">46</text>
<text x="269.10" y="127.80" font-size="11.8" text-anchor="middle" fill="#7e1a10">Pd</text>
<text x="269.10" y="132.80" font-size="3.7" text-anchor="middle" fill="#7e1a10" fill-opacity="0.55">Palladium</text>
<text x="269.10" y="136.60" font-size="3.7" text-anchor="middle" fill="#7e1a10" fill-opacity="0.55">106.42</text>
<text x="283.60" y="117.20" font-size="4.2" font-weight="bold" fill="#7e1a10" fill-opacity="0.55">47</text>
<text x="297.30" y="127.80" font-size="11.8" text-anchor="middle" fill="#7e1a10">Ag</text>
<text x="297.30" y="132.80" font-size="3.7" text-anchor="middle" fill="#7e1a10" fill-opacity="0.55">Silver</text>
<text x="297.30" y="136.60" font-size="3.7" text-anchor="middle" fill="#7e1a10" fill-opacity="0.55">107.868</text>
<text x="311.80" y="117.20" font-size="4.2" font-weight="bold" fill="#0a0a0a" fill-opacity="0.8">48</text>
<text x="325.50" y="127.80" font-size="11.8" text-anchor="middle" fill="#0a0a0a">Cd</text>
<text x="325.50" y="132.80" font-size="3.7" text-anchor="middle" fill="#0a0a0a" fill-opacity="0.8">Cadmium</text>
<text x="325.50" y="136.60" font-size="3.7" text-anchor="middle" fill="#0a0a0a" fill-opacity="0.8">112.411</text>
<text x="340.00" y="117.20" font-size="4.2" font-weight="bold" fill="#0a0a0a" fill-opacity="0.8">49</text>
<text x="353.70" y="127.80" font-size="11.8" text-anchor="middle" fill="#0a0a0a">In</text>
<text x="353.70" y="132.80" font-size="3.7" text-anchor="middle" fill="#0a0a0a" fill-opacity="0.8">Indium</text>
<text x="353.70" y="136.60" font-size="3.7" text-anchor="middle" fill="#0a0a0a" fill-opacity="0.8">114.818</text>
<text x="368.20" y="117.20" font-size="4.2" font-weight="bold" fill="#0a0a0a" fill-opacity="0.8">50</text>
<text x="381.90" y="127.80" font-size="11.8" text-anchor="middle" fill="#0a0a0a">Sn</text>
<text x="381.90" y="132.80" font-size="3.7" text-anchor="middle" fill="#0a0a0a" fill-opacity="0.8">Tin</text>
<text x="381.90" y="136.60" font-size="3.7" text-anchor="middle" fill="#0a0a0a" fill-opacity="0.8">118.711</text>
<text x="396.40" y="117.20" font-size="4.2" font-weight="bold" fill="#0a0a0a" fill-opacity="0.8">51</text>
<text x="410.10" y="127.80" font-size="11.8" text-anchor="middle" fill="#0a0a0a">Sb</text>
<text x="410.10" y="132.80" font-size="3.7" text-anchor="middle" fill="#0a0a0a" fill-opacity="0.8">Antimony</text>
<text x="410.10" y="136.60" font-size="3.7" text-anchor="middle" fill="#0a0a0a" fill-opacity="0.8">121.760</text>
<text x="424.60" y="117.20" font-size="4.2" font-weight="bold" fill="#0a0a0a" fill-opacity="0.8">52</text>
<text x="438.30" y="127.80" font-size="11.8" text-anchor="middle" fill="#0a0a0a">Te</text>
<text x="438.30" y="132.80" font-size="3.7" text-anchor="middle" fill="#0a0a0a" fill-opacity="0.8">Tellurium</text>
<text x="438.30" y="136.60" font-size="3.7" text-anchor="middle" fill="#0a0a0a" fill-opacity="0.8">127.6</text>
<text x="452.80" y="117.20" font-size="4.2" font-weight="bold" fill="#0a0a0a" fill-opacity="0.8">53</text>
<text x="466.50" y="127.80" font-size="11.8" text-anchor="middle" fill="#0a0a0a">I</text>
<text x="466.50" y="132.80" font-size="3.7" text-anchor="middle" fill="#0a0a0a" fill-opacity="0.8">Iodine</text>
<text x="466.50" y="136.60" font-size="3.7" text-anchor="middle" fill="#0a0a0a" fill-opacity="0.8">126.904</text>
<text x="481.00" y="117.20" font-size="4.2" font-weight="bold" fill="#0a0a0a" fill-opacity="0.8">54</text>
<text x="494.70" y="127.80" font-size="11.8" text-anchor="middle" fill="#0a0a0a">Xe</text>
<text x="494.70" y="132.80" font-size="3.7" text-anchor="middle" fill="#0a0a0a" fill-opacity="0.8">Xenon</text>
<text x="494.70" y="136.60" font-size="3.7" text-anchor="middle" fill="#0a0a0a" fill-opacity="0.8">131.294</text>
<text x="1.60" y="145.20" font-size="4.2" font-weight="bold" fill="#0a0a0a" fill-opacity="0.8">55</text>
<text x="15.30" y="155.80" font-size="11.8" text-anchor="middle" fill="#0a0a0a">Cs</text>
<text x="15.30" y="160.80" font-size="3.7" text-anchor="middle" fill="#0a0a0a" fill-opacity="0.8">Cesium</text>
<text x="15.30" y="164.60" font-size="3.7" text-anchor="middle" fill="#0a0a0a" fill-opacity="0.8">132.905</text>
<text x="29.80" y="145.20" font-size="4.2" font-weight="bold" fill="#0a0a0a" fill-opacity="0.8">56</text>
<text x="43.50" y="155.80" font-size="11.8" text-anchor="middle" fill="#0a0a0a">Ba</text>
<text x="43.50" y="160.80" font-size="3.7" text-anchor="middle" fill="#0a0a0a" fill-opacity="0.8">Barium</text>
<text x="43.50" y="164.60" font-size="3.7" text-anchor="middle" fill="#0a0a0a" fill-opacity="0.8">137.328</text>
<text x="86.20" y="145.20" font-size="4.2" font-weight="bold" fill="#0a0a0a" fill-opacity="0.8">72</text>
<text x="99.90" y="155.80" font-size="11.8" text-anchor="middle" fill="#0a0a0a">Hf</text>
<text x="99.90" y="160.80" font-size="3.7" text-anchor="middle" fill="#0a0a0a" fill-opacity="0.8">Hafnium</text>
<text x="99.90" y="164.60" font-size="3.7" text-anchor="middle" fill="#0a0a0a" fill-opacity="0.8">178.49</text>
<text x="114.40" y="145.20" font-size="4.2" font-weight="bold" fill="#0a0a0a" fill-opacity="0.8">73</text>
<text x="128.10" y="155.80" font-size="11.8" text-anchor="middle" fill="#0a0a0a">Ta</text>
<text x="128.10" y="160.80" font-size="3.7" text-anchor="middle" fill="#0a0a0a" fill-opacity="0.8">Tantalum</text>
<text x="128.10" y="164.60" font-size="3.7" text-anchor="middle" fill="#0a0a0a" fill-opacity="0.8">180.948</text>
<text x="142.60" y="145.20" font-size="4.2" font-weight="bold" fill="#0a0a0a" fill-opacity="0.8">74</text>
<text x="156.30" y="155.80" font-size="11.8" text-anchor="middle" fill="#0a0a0a">W</text>
<text x="156.30" y="160.80" font-size="3.7" text-anchor="middle" fill="#0a0a0a" fill-opacity="0.8">Tungsten</text>
<text x="156.30" y="164.60" font-size="3.7" text-anchor="middle" fill="#0a0a0a" fill-opacity="0.8">183.84</text>
<text x="170.80" y="145.20" font-size="4.2" font-weight="bold" fill="#0a0a0a" fill-opacity="0.8">75</text>
<text x="184.50" y="155.80" font-size="11.8" text-anchor="middle" fill="#0a0a0a">Re</text>
<text x="184.50" y="160.80" font-size="3.7" text-anchor="middle" fill="#0a0a0a" fill-opacity="0.8">Rhenium</text>
<text x="184.50" y="164.60" font-size="3.7" text-anchor="middle" fill="#0a0a0a" fill-opacity="0.8">186.207</text>
<text x="199.00" y="145.20" font-size="4.2" font-weight="bold" fill="#0a0a0a" fill-opacity="0.8">76</text>
<text x="212.70" y="155.80" font-size="11.8" text-anchor="middle" fill="#0a0a0a">Os</text>
<text x="212.70" y="160.80" font-size="3.7" text-anchor="middle" fill="#0a0a0a" fill-opacity="0.8">Osmium</text>
<text x="212.70" y="164.60" font-size="3.7" text-anchor="middle" fill="#0a0a0a" fill-opacity="0.8">190.23</text>
<text x="227.20" y="145.20" font-size="4.2" font-weight="bold" fill="#0a0a0a" fill-opacity="0.8">77</text>
<text x="240.90" y="155.80" font-size="11.8" text-anchor="middle" fill="#0a0a0a">Ir</text>
<text x="240.90" y="160.80" font-size="3.7" text-anchor="middle" fill="#0a0a0a" fill-opacity="0.8">Iridium</text>
<text x="240.90" y="164.60" font-size="3.7" text-anchor="middle" fill="#0a0a0a" fill-opacity="0.8">192.217</text>
<text x="255.40" y="145.20" font-size="4.2" font-weight="bold" fill="#7e1a10" fill-opacity="0.55">78</text>
<text x="269.10" y="155.80" font-size="11.8" text-anchor="middle" fill="#7e1a10">Pt</text>
<text x="269.10" y="160.80" font-size="3.7" text-anchor="middle" fill="#7e1a10" fill-opacity="0.55">Platinum</text>
<text x="269.10" y="164.60" font-size="3.7" text-anchor="middle" fill="#7e1a10" fill-opacity="0.55">195.085</text>
<text x="283.60" y="145.20" font-size="4.2" font-weight="bold" fill="#7e1a10" fill-opacity="0.55">79</text>
<text x="297.30" y="155.80" font-size="11.8" text-anchor="middle" fill="#7e1a10">Au</text>
<text x="297.30" y="160.80" font-size="3.7" text-anchor="middle" fill="#7e1a10" fill-opacity="0.55">Gold</text>
<text x="297.30" y="164.60" font-size="3.7" text-anchor="middle" fill="#7e1a10" fill-opacity="0.55">196.967</text>
<text x="311.80" y="145.20" font-size="4.2" font-weight="bold" fill="#0a0a0a" fill-opacity="0.8">80</text>
<text x="325.50" y="155.80" font-size="11.8" text-anchor="middle" fill="#0a0a0a">Hg</text>
<text x="325.50" y="160.80" font-size="3.7" text-anchor="middle" fill="#0a0a0a" fill-opacity="0.8">Mercury</text>
<text x="325.50" y="164.60" font-size="3.7" text-anchor="middle" fill="#0a0a0a" fill-opacity="0.8">200.592</text>
<text x="340.00" y="145.20" font-size="4.2" font-weight="bold" fill="#0a0a0a" fill-opacity="0.8">81</text>
<text x="353.70" y="155.80" font-size="11.8" text-anchor="middle" fill="#0a0a0a">Tl</text>
<text x="353.70" y="160.80" font-size="3.7" text-anchor="middle" fill="#0a0a0a" fill-opacity="0.8">Thallium</text>
<text x="353.70" y="164.60" font-size="3.7" text-anchor="middle" fill="#0a0a0a" fill-opacity="0.8">204.383</text>
<text x="368.20" y="145.20" font-size="4.2" font-weight="bold" fill="#0a0a0a" fill-opacity="0.8">82</text>
<text x="381.90" y="155.80" font-size="11.8" text-anchor="middle" fill="#0a0a0a">Pb</text>
<text x="381.90" y="160.80" font-size="3.7" text-anchor="middle" fill="#0a0a0a" fill-opacity="0.8">Lead</text>
<text x="381.90" y="164.60" font-size="3.7" text-anchor="middle" fill="#0a0a0a" fill-opacity="0.8">207.2</text>
<text x="396.40" y="145.20" font-size="4.2" font-weight="bold" fill="#0a0a0a" fill-opacity="0.8">83</text>
<text x="410.10" y="155.80" font-size="11.8" text-anchor="middle" fill="#0a0a0a">Bi</text>
<text x="410.10" y="160.80" font-size="3.7" text-anchor="middle" fill="#0a0a0a" fill-opacity="0.8">Bismuth</text>
<text x="410.10" y="164.60" font-size="3.7" text-anchor="middle" fill="#0a0a0a" fill-opacity="0.8">208.980</text>
<text x="424.60" y="145.20" font-size="4.2" font-weight="bold" fill="#0a0a0a" fill-opacity="0.8">84</text>
<text x="438.30" y="155.80" font-size="11.8" text-anchor="middle" fill="#0a0a0a">Po</text>
<text x="438.30" y="160.80" font-size="3.7" text-anchor="middle" fill="#0a0a0a" fill-opacity="0.8">Polonium</text>
<text x="438.30" y="164.60" font-size="3.7" text-anchor="middle" fill="#0a0a0a" fill-opacity="0.8">[208.982]</text>
<text x="452.80" y="145.20" font-size="4.2" font-weight="bold" fill="#0a0a0a" fill-opacity="0.8">85</text>
<text x="466.50" y="155.80" font-size="11.8" text-anchor="middle" fill="#0a0a0a">At</text>
<text x="466.50" y="160.80" font-size="3.7" text-anchor="middle" fill="#0a0a0a" fill-opacity="0.8">Astatine</text>
<text x="466.50" y="164.60" font-size="3.7" text-anchor="middle" fill="#0a0a0a" fill-opacity="0.8">209.987</text>
<text x="481.00" y="145.20" font-size="4.2" font-weight="bold" fill="#0a0a0a" fill-opacity="0.8">86</text>
<text x="494.70" y="155.80" font-size="11.8" text-anchor="middle" fill="#0a0a0a">Rn</text>
<text x="494.70" y="160.80" font-size="3.7" text-anchor="middle" fill="#0a0a0a" fill-opacity="0.8">Radon</text>
<text x="494.70" y="164.60" font-size="3.7" text-anchor="middle" fill="#0a0a0a" fill-opacity="0.8">222.018</text>
<text x="1.60" y="173.20" font-size="4.2" font-weight="bold" fill="#0a0a0a" fill-opacity="0.8">87</text>
<text x="15.30" y="183.80" font-size="11.8" text-anchor="middle" fill="#0a0a0a">Fr</text>
<text x="15.30" y="188.80" font-size="3.7" text-anchor="middle" fill="#0a0a0a" fill-opacity="0.8">Francium</text>
<text x="15.30" y="192.60" font-size="3.7" text-anchor="middle" fill="#0a0a0a" fill-opacity="0.8">223.020</text>
<text x="29.80" y="173.20" font-size="4.2" font-weight="bold" fill="#0a0a0a" fill-opacity="0.8">88</text>
<text x="43.50" y="183.80" font-size="11.8" text-anchor="middle" fill="#0a0a0a">Ra</text>
<text x="43.50" y="188.80" font-size="3.7" text-anchor="middle" fill="#0a0a0a" fill-opacity="0.8">Radium</text>
<text x="43.50" y="192.60" font-size="3.7" text-anchor="middle" fill="#0a0a0a" fill-opacity="0.8">226.025</text>
<text x="86.20" y="173.20" font-size="4.2" font-weight="bold" fill="#0a0a0a" fill-opacity="0.8">104</text>
<text x="99.90" y="183.80" font-size="11.8" text-anchor="middle" fill="#0a0a0a">Rf</text>
<text x="99.90" y="188.80" font-size="3.7" text-anchor="middle" fill="#0a0a0a" fill-opacity="0.8">Rutherfordium</text>
<text x="99.90" y="192.60" font-size="3.7" text-anchor="middle" fill="#0a0a0a" fill-opacity="0.8">[261]</text>
<text x="114.40" y="173.20" font-size="4.2" font-weight="bold" fill="#0a0a0a" fill-opacity="0.8">105</text>
<text x="128.10" y="183.80" font-size="11.8" text-anchor="middle" fill="#0a0a0a">Db</text>
<text x="128.10" y="188.80" font-size="3.7" text-anchor="middle" fill="#0a0a0a" fill-opacity="0.8">Dubnium</text>
<text x="128.10" y="192.60" font-size="3.7" text-anchor="middle" fill="#0a0a0a" fill-opacity="0.8">[262]</text>
<text x="142.60" y="173.20" font-size="4.2" font-weight="bold" fill="#0a0a0a" fill-opacity="0.8">106</text>
<text x="156.30" y="183.80" font-size="11.8" text-anchor="middle" fill="#0a0a0a">Sg</text>
<text x="156.30" y="188.80" font-size="3.7" text-anchor="middle" fill="#0a0a0a" fill-opacity="0.8">Seaborgium</text>
<text x="156.30" y="192.60" font-size="3.7" text-anchor="middle" fill="#0a0a0a" fill-opacity="0.8">[266]</text>
<text x="170.80" y="173.20" font-size="4.2" font-weight="bold" fill="#0a0a0a" fill-opacity="0.8">107</text>
<text x="184.50" y="183.80" font-size="11.8" text-anchor="middle" fill="#0a0a0a">Bh</text>
<text x="184.50" y="188.80" font-size="3.7" text-anchor="middle" fill="#0a0a0a" fill-opacity="0.8">Bohrium</text>
<text x="184.50" y="192.60" font-size="3.7" text-anchor="middle" fill="#0a0a0a" fill-opacity="0.8">[264]</text>
<text x="199.00" y="173.20" font-size="4.2" font-weight="bold" fill="#0a0a0a" fill-opacity="0.8">108</text>
<text x="212.70" y="183.80" font-size="11.8" text-anchor="middle" fill="#0a0a0a">Hs</text>
<text x="212.70" y="188.80" font-size="3.7" text-anchor="middle" fill="#0a0a0a" fill-opacity="0.8">Hassium</text>
<text x="212.70" y="192.60" font-size="3.7" text-anchor="middle" fill="#0a0a0a" fill-opacity="0.8">[269]</text>
<text x="227.20" y="173.20" font-size="4.2" font-weight="bold" fill="#0a0a0a" fill-opacity="0.8">109</text>
<text x="240.90" y="183.80" font-size="11.8" text-anchor="middle" fill="#0a0a0a">Mt</text>
<text x="240.90" y="188.80" font-size="3.7" text-anchor="middle" fill="#0a0a0a" fill-opacity="0.8">Meitnerium</text>
<text x="240.90" y="192.60" font-size="3.7" text-anchor="middle" fill="#0a0a0a" fill-opacity="0.8">[268]</text>
<text x="255.40" y="173.20" font-size="4.2" font-weight="bold" fill="#0a0a0a" fill-opacity="0.8">110</text>
<text x="269.10" y="183.80" font-size="11.8" text-anchor="middle" fill="#0a0a0a">Ds</text>
<text x="269.10" y="188.80" font-size="3.7" text-anchor="middle" fill="#0a0a0a" fill-opacity="0.8">Darmstadtium</text>
<text x="269.10" y="192.60" font-size="3.7" text-anchor="middle" fill="#0a0a0a" fill-opacity="0.8">[269]</text>
<text x="283.60" y="173.20" font-size="4.2" font-weight="bold" fill="#0a0a0a" fill-opacity="0.8">111</text>
<text x="297.30" y="183.80" font-size="11.8" text-anchor="middle" fill="#0a0a0a">Rg</text>
<text x="297.30" y="188.80" font-size="3.7" text-anchor="middle" fill="#0a0a0a" fill-opacity="0.8">Roentgenium</text>
<text x="297.30" y="192.60" font-size="3.7" text-anchor="middle" fill="#0a0a0a" fill-opacity="0.8">[272]</text>
<text x="311.80" y="173.20" font-size="4.2" font-weight="bold" fill="#0a0a0a" fill-opacity="0.8">112</text>
<text x="325.50" y="183.80" font-size="11.8" text-anchor="middle" fill="#0a0a0a">Cn</text>
<text x="325.50" y="188.80" font-size="3.7" text-anchor="middle" fill="#0a0a0a" fill-opacity="0.8">Copernicium</text>
<text x="325.50" y="192.60" font-size="3.7" text-anchor="middle" fill="#0a0a0a" fill-opacity="0.8">[277]</text>
<text x="340.00" y="173.20" font-size="4.2" font-weight="bold" fill="#0a0a0a" fill-opacity="0.8">113</text>
<text x="353.70" y="183.80" font-size="10.8" text-anchor="middle" fill="#0a0a0a">Uut</text>
<text x="353.70" y="188.80" font-size="3.7" text-anchor="middle" fill="#0a0a0a" fill-opacity="0.8">Ununtrium</text>
<text x="353.70" y="192.60" font-size="3.7" text-anchor="middle" fill="#0a0a0a" fill-opacity="0.8">unknown</text>
<text x="368.20" y="173.20" font-size="4.2" font-weight="bold" fill="#0a0a0a" fill-opacity="0.8">114</text>
<text x="381.90" y="183.80" font-size="11.8" text-anchor="middle" fill="#0a0a0a">Fl</text>
<text x="381.90" y="188.80" font-size="3.7" text-anchor="middle" fill="#0a0a0a" fill-opacity="0.8">Flerovium</text>
<text x="381.90" y="192.60" font-size="3.7" text-anchor="middle" fill="#0a0a0a" fill-opacity="0.8">[289]</text>
<text x="396.40" y="173.20" font-size="4.2" font-weight="bold" fill="#0a0a0a" fill-opacity="0.8">115</text>
<text x="410.10" y="183.80" font-size="10.8" text-anchor="middle" fill="#0a0a0a">Uup</text>
<text x="410.10" y="188.80" font-size="3.7" text-anchor="middle" fill="#0a0a0a" fill-opacity="0.8">Ununpentium</text>
<text x="410.10" y="192.60" font-size="3.7" text-anchor="middle" fill="#0a0a0a" fill-opacity="0.8">unknown</text>
<text x="424.60" y="173.20" font-size="4.2" font-weight="bold" fill="#0a0a0a" fill-opacity="0.8">116</text>
<text x="438.30" y="183.80" font-size="11.8" text-anchor="middle" fill="#0a0a0a">Lv</text>
<text x="438.30" y="188.80" font-size="3.7" text-anchor="middle" fill="#0a0a0a" fill-opacity="0.8">Livermorium</text>
<text x="438.30" y="192.60" font-size="3.7" text-anchor="middle" fill="#0a0a0a" fill-opacity="0.8">[298]</text>
<text x="452.80" y="173.20" font-size="4.2" font-weight="bold" fill="#0a0a0a" fill-opacity="0.8">117</text>
<text x="466.50" y="183.80" font-size="10.8" text-anchor="middle" fill="#0a0a0a">Uus</text>
<text x="466.50" y="188.80" font-size="3.7" text-anchor="middle" fill="#0a0a0a" fill-opacity="0.8">Ununseptium</text>
<text x="466.50" y="192.60" font-size="3.7" text-anchor="middle" fill="#0a0a0a" fill-opacity="0.8">unknown</text>
<text x="481.00" y="173.20" font-size="4.2" font-weight="bold" fill="#0a0a0a" fill-opacity="0.8">118</text>
<text x="494.70" y="183.80" font-size="10.8" text-anchor="middle" fill="#0a0a0a">Uuo</text>
<text x="494.70" y="188.80" font-size="3.7" text-anchor="middle" fill="#0a0a0a" fill-opacity="0.8">Ununoctium</text>
<text x="494.70" y="192.60" font-size="3.7" text-anchor="middle" fill="#0a0a0a" fill-opacity="0.8">unknown</text>
<text x="70.97" y="207.45" font-size="4.2" font-weight="bold" fill="#0a0a0a" fill-opacity="0.8">57</text>
<text x="84.67" y="218.05" font-size="11.8" text-anchor="middle" fill="#0a0a0a">La</text>
<text x="84.67" y="223.05" font-size="3.7" text-anchor="middle" fill="#0a0a0a" fill-opacity="0.8">Lanthanum</text>
<text x="84.67" y="226.85" font-size="3.7" text-anchor="middle" fill="#0a0a0a" fill-opacity="0.8">138.905</text>
<text x="99.17" y="207.45" font-size="4.2" font-weight="bold" fill="#0a0a0a" fill-opacity="0.8">58</text>
<text x="112.87" y="218.05" font-size="11.8" text-anchor="middle" fill="#0a0a0a">Ce</text>
<text x="112.87" y="223.05" font-size="3.7" text-anchor="middle" fill="#0a0a0a" fill-opacity="0.8">Cerium</text>
<text x="112.87" y="226.85" font-size="3.7" text-anchor="middle" fill="#0a0a0a" fill-opacity="0.8">140.116</text>
<text x="127.37" y="207.45" font-size="4.2" font-weight="bold" fill="#0a0a0a" fill-opacity="0.8">59</text>
<text x="141.07" y="218.05" font-size="11.8" text-anchor="middle" fill="#0a0a0a">Pr</text>
<text x="141.07" y="223.05" font-size="3.7" text-anchor="middle" fill="#0a0a0a" fill-opacity="0.8">Praseodymium</text>
<text x="141.07" y="226.85" font-size="3.7" text-anchor="middle" fill="#0a0a0a" fill-opacity="0.8">140.908</text>
<text x="155.57" y="207.45" font-size="4.2" font-weight="bold" fill="#0a0a0a" fill-opacity="0.8">60</text>
<text x="169.27" y="218.05" font-size="11.8" text-anchor="middle" fill="#0a0a0a">Nd</text>
<text x="169.27" y="223.05" font-size="3.7" text-anchor="middle" fill="#0a0a0a" fill-opacity="0.8">Neodymium</text>
<text x="169.27" y="226.85" font-size="3.7" text-anchor="middle" fill="#0a0a0a" fill-opacity="0.8">144.243</text>
<text x="183.77" y="207.45" font-size="4.2" font-weight="bold" fill="#0a0a0a" fill-opacity="0.8">61</text>
<text x="197.47" y="218.05" font-size="11.8" text-anchor="middle" fill="#0a0a0a">Pm</text>
<text x="197.47" y="223.05" font-size="3.7" text-anchor="middle" fill="#0a0a0a" fill-opacity="0.8">Promethium</text>
<text x="197.47" y="226.85" font-size="3.7" text-anchor="middle" fill="#0a0a0a" fill-opacity="0.8">144.913</text>
<text x="211.97" y="207.45" font-size="4.2" font-weight="bold" fill="#0a0a0a" fill-opacity="0.8">62</text>
<text x="225.67" y="218.05" font-size="11.8" text-anchor="middle" fill="#0a0a0a">Sm</text>
<text x="225.67" y="223.05" font-size="3.7" text-anchor="middle" fill="#0a0a0a" fill-opacity="0.8">Samarium</text>
<text x="225.67" y="226.85" font-size="3.7" text-anchor="middle" fill="#0a0a0a" fill-opacity="0.8">150.36</text>
<text x="240.17" y="207.45" font-size="4.2" font-weight="bold" fill="#0a0a0a" fill-opacity="0.8">63</text>
<text x="253.87" y="218.05" font-size="11.8" text-anchor="middle" fill="#0a0a0a">Eu</text>
<text x="253.87" y="223.05" font-size="3.7" text-anchor="middle" fill="#0a0a0a" fill-opacity="0.8">Europium</text>
<text x="253.87" y="226.85" font-size="3.7" text-anchor="middle" fill="#0a0a0a" fill-opacity="0.8">151.964</text>
<text x="268.37" y="207.45" font-size="4.2" font-weight="bold" fill="#0a0a0a" fill-opacity="0.8">64</text>
<text x="282.07" y="218.05" font-size="11.8" text-anchor="middle" fill="#0a0a0a">Gd</text>
<text x="282.07" y="223.05" font-size="3.7" text-anchor="middle" fill="#0a0a0a" fill-opacity="0.8">Gadolinium</text>
<text x="282.07" y="226.85" font-size="3.7" text-anchor="middle" fill="#0a0a0a" fill-opacity="0.8">157.25</text>
<text x="296.57" y="207.45" font-size="4.2" font-weight="bold" fill="#0a0a0a" fill-opacity="0.8">65</text>
<text x="310.27" y="218.05" font-size="11.8" text-anchor="middle" fill="#0a0a0a">Tb</text>
<text x="310.27" y="223.05" font-size="3.7" text-anchor="middle" fill="#0a0a0a" fill-opacity="0.8">Terbium</text>
<text x="310.27" y="226.85" font-size="3.7" text-anchor="middle" fill="#0a0a0a" fill-opacity="0.8">158.925</text>
<text x="324.77" y="207.45" font-size="4.2" font-weight="bold" fill="#0a0a0a" fill-opacity="0.8">66</text>
<text x="338.47" y="218.05" font-size="11.8" text-anchor="middle" fill="#0a0a0a">Dy</text>
<text x="338.47" y="223.05" font-size="3.7" text-anchor="middle" fill="#0a0a0a" fill-opacity="0.8">Dysprosium</text>
<text x="338.47" y="226.85" font-size="3.7" text-anchor="middle" fill="#0a0a0a" fill-opacity="0.8">162.500</text>
<text x="352.97" y="207.45" font-size="4.2" font-weight="bold" fill="#0a0a0a" fill-opacity="0.8">67</text>
<text x="366.67" y="218.05" font-size="11.8" text-anchor="middle" fill="#0a0a0a">Ho</text>
<text x="366.67" y="223.05" font-size="3.7" text-anchor="middle" fill="#0a0a0a" fill-opacity="0.8">Holmium</text>
<text x="366.67" y="226.85" font-size="3.7" text-anchor="middle" fill="#0a0a0a" fill-opacity="0.8">164.930</text>
<text x="381.17" y="207.45" font-size="4.2" font-weight="bold" fill="#0a0a0a" fill-opacity="0.8">68</text>
<text x="394.87" y="218.05" font-size="11.8" text-anchor="middle" fill="#0a0a0a">Er</text>
<text x="394.87" y="223.05" font-size="3.7" text-anchor="middle" fill="#0a0a0a" fill-opacity="0.8">Erbium</text>
<text x="394.87" y="226.85" font-size="3.7" text-anchor="middle" fill="#0a0a0a" fill-opacity="0.8">167.259</text>
<text x="409.37" y="207.45" font-size="4.2" font-weight="bold" fill="#0a0a0a" fill-opacity="0.8">69</text>
<text x="423.07" y="218.05" font-size="11.8" text-anchor="middle" fill="#0a0a0a">Tm</text>
<text x="423.07" y="223.05" font-size="3.7" text-anchor="middle" fill="#0a0a0a" fill-opacity="0.8">Thulium</text>
<text x="423.07" y="226.85" font-size="3.7" text-anchor="middle" fill="#0a0a0a" fill-opacity="0.8">168.934</text>
<text x="437.57" y="207.45" font-size="4.2" font-weight="bold" fill="#0a0a0a" fill-opacity="0.8">70</text>
<text x="451.27" y="218.05" font-size="11.8" text-anchor="middle" fill="#0a0a0a">Yb</text>
<text x="451.27" y="223.05" font-size="3.7" text-anchor="middle" fill="#0a0a0a" fill-opacity="0.8">Ytterbium</text>
<text x="451.27" y="226.85" font-size="3.7" text-anchor="middle" fill="#0a0a0a" fill-opacity="0.8">173.055</text>
<text x="465.77" y="207.45" font-size="4.2" font-weight="bold" fill="#0a0a0a" fill-opacity="0.8">71</text>
<text x="479.47" y="218.05" font-size="11.8" text-anchor="middle" fill="#0a0a0a">Lu</text>
<text x="479.47" y="223.05" font-size="3.7" text-anchor="middle" fill="#0a0a0a" fill-opacity="0.8">Lutetium</text>
<text x="479.47" y="226.85" font-size="3.7" text-anchor="middle" fill="#0a0a0a" fill-opacity="0.8">174.967</text>
<text x="70.97" y="235.70" font-size="4.2" font-weight="bold" fill="#0a0a0a" fill-opacity="0.8">89</text>
<text x="84.67" y="246.30" font-size="11.8" text-anchor="middle" fill="#0a0a0a">Ac</text>
<text x="84.67" y="251.30" font-size="3.7" text-anchor="middle" fill="#0a0a0a" fill-opacity="0.8">Actinium</text>
<text x="84.67" y="255.10" font-size="3.7" text-anchor="middle" fill="#0a0a0a" fill-opacity="0.8">227.028</text>
<text x="99.17" y="235.70" font-size="4.2" font-weight="bold" fill="#0a0a0a" fill-opacity="0.8">90</text>
<text x="112.87" y="246.30" font-size="11.8" text-anchor="middle" fill="#0a0a0a">Th</text>
<text x="112.87" y="251.30" font-size="3.7" text-anchor="middle" fill="#0a0a0a" fill-opacity="0.8">Thorium</text>
<text x="112.87" y="255.10" font-size="3.7" text-anchor="middle" fill="#0a0a0a" fill-opacity="0.8">232.038</text>
<text x="127.37" y="235.70" font-size="4.2" font-weight="bold" fill="#0a0a0a" fill-opacity="0.8">91</text>
<text x="141.07" y="246.30" font-size="11.8" text-anchor="middle" fill="#0a0a0a">Pa</text>
<text x="141.07" y="251.30" font-size="3.7" text-anchor="middle" fill="#0a0a0a" fill-opacity="0.8">Protactinium</text>
<text x="141.07" y="255.10" font-size="3.7" text-anchor="middle" fill="#0a0a0a" fill-opacity="0.8">231.036</text>
<text x="155.57" y="235.70" font-size="4.2" font-weight="bold" fill="#0a0a0a" fill-opacity="0.8">92</text>
<text x="169.27" y="246.30" font-size="11.8" text-anchor="middle" fill="#0a0a0a">U</text>
<text x="169.27" y="251.30" font-size="3.7" text-anchor="middle" fill="#0a0a0a" fill-opacity="0.8">Uranium</text>
<text x="169.27" y="255.10" font-size="3.7" text-anchor="middle" fill="#0a0a0a" fill-opacity="0.8">238.029</text>
<text x="183.77" y="235.70" font-size="4.2" font-weight="bold" fill="#0a0a0a" fill-opacity="0.8">93</text>
<text x="197.47" y="246.30" font-size="11.8" text-anchor="middle" fill="#0a0a0a">Np</text>
<text x="197.47" y="251.30" font-size="3.7" text-anchor="middle" fill="#0a0a0a" fill-opacity="0.8">Neptunium</text>
<text x="197.47" y="255.10" font-size="3.7" text-anchor="middle" fill="#0a0a0a" fill-opacity="0.8">237.048</text>
<text x="211.97" y="235.70" font-size="4.2" font-weight="bold" fill="#0a0a0a" fill-opacity="0.8">94</text>
<text x="225.67" y="246.30" font-size="11.8" text-anchor="middle" fill="#0a0a0a">Pu</text>
<text x="225.67" y="251.30" font-size="3.7" text-anchor="middle" fill="#0a0a0a" fill-opacity="0.8">Plutonium</text>
<text x="225.67" y="255.10" font-size="3.7" text-anchor="middle" fill="#0a0a0a" fill-opacity="0.8">244.064</text>
<text x="240.17" y="235.70" font-size="4.2" font-weight="bold" fill="#0a0a0a" fill-opacity="0.8">95</text>
<text x="253.87" y="246.30" font-size="11.8" text-anchor="middle" fill="#0a0a0a">Am</text>
<text x="253.87" y="251.30" font-size="3.7" text-anchor="middle" fill="#0a0a0a" fill-opacity="0.8">Americium</text>
<text x="253.87" y="255.10" font-size="3.7" text-anchor="middle" fill="#0a0a0a" fill-opacity="0.8">243.061</text>
<text x="268.37" y="235.70" font-size="4.2" font-weight="bold" fill="#0a0a0a" fill-opacity="0.8">96</text>
<text x="282.07" y="246.30" font-size="11.8" text-anchor="middle" fill="#0a0a0a">Cm</text>
<text x="282.07" y="251.30" font-size="3.7" text-anchor="middle" fill="#0a0a0a" fill-opacity="0.8">Curium</text>
<text x="282.07" y="255.10" font-size="3.7" text-anchor="middle" fill="#0a0a0a" fill-opacity="0.8">247.070</text>
<text x="296.57" y="235.70" font-size="4.2" font-weight="bold" fill="#0a0a0a" fill-opacity="0.8">97</text>
<text x="310.27" y="246.30" font-size="11.8" text-anchor="middle" fill="#0a0a0a">Bk</text>
<text x="310.27" y="251.30" font-size="3.7" text-anchor="middle" fill="#0a0a0a" fill-opacity="0.8">Berkelium</text>
<text x="310.27" y="255.10" font-size="3.7" text-anchor="middle" fill="#0a0a0a" fill-opacity="0.8">247.070</text>
<text x="324.77" y="235.70" font-size="4.2" font-weight="bold" fill="#0a0a0a" fill-opacity="0.8">98</text>
<text x="338.47" y="246.30" font-size="11.8" text-anchor="middle" fill="#0a0a0a">Cf</text>
<text x="338.47" y="251.30" font-size="3.7" text-anchor="middle" fill="#0a0a0a" fill-opacity="0.8">Californium</text>
<text x="338.47" y="255.10" font-size="3.7" text-anchor="middle" fill="#0a0a0a" fill-opacity="0.8">251.080</text>
<text x="352.97" y="235.70" font-size="4.2" font-weight="bold" fill="#0a0a0a" fill-opacity="0.8">99</text>
<text x="366.67" y="246.30" font-size="11.8" text-anchor="middle" fill="#0a0a0a">Es</text>
<text x="366.67" y="251.30" font-size="3.7" text-anchor="middle" fill="#0a0a0a" fill-opacity="0.8">Einsteinium</text>
<text x="366.67" y="255.10" font-size="3.7" text-anchor="middle" fill="#0a0a0a" fill-opacity="0.8">[254]</text>
<text x="381.17" y="235.70" font-size="4.2" font-weight="bold" fill="#0a0a0a" fill-opacity="0.8">100</text>
<text x="394.87" y="246.30" font-size="11.8" text-anchor="middle" fill="#0a0a0a">Fm</text>
<text x="394.87" y="251.30" font-size="3.7" text-anchor="middle" fill="#0a0a0a" fill-opacity="0.8">Fermium</text>
<text x="394.87" y="255.10" font-size="3.7" text-anchor="middle" fill="#0a0a0a" fill-opacity="0.8">257.095</text>
<text x="409.37" y="235.70" font-size="4.2" font-weight="bold" fill="#0a0a0a" fill-opacity="0.8">101</text>
<text x="423.07" y="246.30" font-size="11.8" text-anchor="middle" fill="#0a0a0a">Md</text>
<text x="423.07" y="251.30" font-size="3.7" text-anchor="middle" fill="#0a0a0a" fill-opacity="0.8">Mendelevium</text>
<text x="423.07" y="255.10" font-size="3.7" text-anchor="middle" fill="#0a0a0a" fill-opacity="0.8">258.1</text>
<text x="437.57" y="235.70" font-size="4.2" font-weight="bold" fill="#0a0a0a" fill-opacity="0.8">102</text>
<text x="451.27" y="246.30" font-size="11.8" text-anchor="middle" fill="#0a0a0a">No</text>
<text x="451.27" y="251.30" font-size="3.7" text-anchor="middle" fill="#0a0a0a" fill-opacity="0.8">Nobelium</text>
<text x="451.27" y="255.10" font-size="3.7" text-anchor="middle" fill="#0a0a0a" fill-opacity="0.8">259.101</text>
<text x="465.77" y="235.70" font-size="4.2" font-weight="bold" fill="#0a0a0a" fill-opacity="0.8">103</text>
<text x="479.47" y="246.30" font-size="11.8" text-anchor="middle" fill="#0a0a0a">Lr</text>
<text x="479.47" y="251.30" font-size="3.7" text-anchor="middle" fill="#0a0a0a" fill-opacity="0.8">Lawrencium</text>
<text x="479.47" y="255.10" font-size="3.7" text-anchor="middle" fill="#0a0a0a" fill-opacity="0.8">[262]</text>
<rect x="56.40" y="140.00" width="28.20" height="28.00" fill="#addf4c" fill-opacity="0.38"/>
<rect x="56.85" y="140.20" width="27.30" height="26.10" fill="url(#g_lan)"/>
<rect x="56.85" y="140.20" width="27.30" height="26.10" fill="url(#g_shine)"/>
<text x="58.00" y="145.20" font-size="4.2" font-weight="bold" fill="#111" fill-opacity="0.8">57-71</text>
<rect x="56.40" y="168.00" width="28.20" height="28.00" fill="#84cd62" fill-opacity="0.38"/>
<rect x="56.85" y="168.20" width="27.30" height="26.10" fill="url(#g_act)"/>
<rect x="56.85" y="168.20" width="27.30" height="26.10" fill="url(#g_shine)"/>
<text x="58.00" y="173.20" font-size="4.2" font-weight="bold" fill="#111" fill-opacity="0.8">89-103</text>
</g>
<text font-family="Liberation Sans, sans-serif" font-weight="bold" font-style="italic" font-size="5.6" fill="#111" transform="translate(35.0,824.8) skewX(-14)" textLength="25.5" lengthAdjust="spacingAndGlyphs">Lanthanide</text>
<text font-family="Liberation Sans, sans-serif" font-weight="bold" font-style="italic" font-size="5.6" fill="#111" transform="translate(39.0,831.3) skewX(-14)" textLength="13.5" lengthAdjust="spacingAndGlyphs">Series</text>
<text font-family="Liberation Sans, sans-serif" font-weight="bold" font-style="italic" font-size="5.6" fill="#111" transform="translate(25.3,852.6) skewX(-14)" textLength="20.5" lengthAdjust="spacingAndGlyphs">Actinide</text>
<text font-family="Liberation Sans, sans-serif" font-weight="bold" font-style="italic" font-size="5.6" fill="#111" transform="translate(26.3,859.3) skewX(-14)" textLength="13.5" lengthAdjust="spacingAndGlyphs">Series</text>
<text font-family="Liberation Sans, sans-serif" font-style="italic" font-size="3.3" fill="#333" x="438.5" y="880.6" textLength="36" lengthAdjust="spacingAndGlyphs">© 2014 Todd Helmenstine</text>
<text font-family="Liberation Sans, sans-serif" font-style="italic" font-size="3.3" fill="#333" x="450.5" y="886.2" textLength="23" lengthAdjust="spacingAndGlyphs">sciencenotes.org</text>
<g transform="matrix(1,0,-0.33,1,55.80,873.00)" font-family="Liberation Sans, sans-serif" font-weight="bold" font-size="4.4" text-anchor="middle" fill="#111">
<rect x="0.00" y="0" width="28.5" height="14.6" fill="url(#g_alk)"/>
<text x="15.50" y="6.2">Alkali</text><text x="15.50" y="11.4">Metal</text>
<rect x="34.10" y="0" width="28.5" height="14.6" fill="url(#g_ae)"/>
<text x="49.60" y="6.2">Alkaline</text><text x="49.60" y="11.4">Earth</text>
<rect x="68.20" y="0" width="28.5" height="14.6" fill="url(#g_tm)"/>
<text x="83.70" y="6.2">Transition</text><text x="83.70" y="11.4">Metal</text>
<rect x="102.30" y="0" width="28.5" height="14.6" fill="url(#g_bm)"/>
<text x="117.80" y="6.2">Basic</text><text x="117.80" y="11.4">Metal</text>
<rect x="136.40" y="0" width="28.5" height="14.6" fill="url(#g_sm)"/>
<text x="151.90" y="8.8">Semimetal</text>
<rect x="170.50" y="0" width="28.5" height="14.6" fill="url(#g_nm)"/>
<text x="186.00" y="8.8">Nonmetal</text>
<rect x="204.60" y="0" width="28.5" height="14.6" fill="url(#g_hal)"/>
<text x="220.10" y="8.8">Halogen</text>
<rect x="238.70" y="0" width="28.5" height="14.6" fill="url(#g_ng)"/>
<text x="254.20" y="6.2">Noble</text><text x="254.20" y="11.4">Gas</text>
<rect x="272.80" y="0" width="28.5" height="14.6" fill="url(#g_lan)"/>
<text x="288.30" y="8.8">Lanthanide</text>
<rect x="306.90" y="0" width="28.5" height="14.6" fill="url(#g_act)"/>
<text x="322.40" y="8.8">Actinide</text>
</g>
<polygon points="78.7,638.5 106.9,638.5 94.1,666.5 65.9,666.5" fill="rgba(38,40,34,0.78)"/>
<polygon points="106.9,638.5 135.1,638.5 122.3,666.5 94.1,666.5" fill="rgba(38,40,34,0.78)"/>
<polygon points="94.1,666.5 122.3,666.5 109.4,694.5 81.2,694.5" fill="rgba(38,40,34,0.78)"/>
<polygon points="109.4,694.5 137.6,694.5 124.8,722.5 96.6,722.5" fill="rgba(38,40,34,0.78)"/>
<polygon points="137.6,694.5 165.8,694.5 153.0,722.5 124.8,722.5" fill="rgba(38,40,34,0.78)"/>
<polygon points="432.5,666.5 460.7,666.5 447.8,694.5 419.6,694.5" fill="rgba(30,40,36,0.84)"/>
<polygon points="306.8,694.5 335.0,694.5 322.2,722.5 294.0,722.5" fill="rgba(28,44,30,0.82)"/>
<polygon points="335.0,694.5 363.2,694.5 350.4,722.5 322.2,722.5" fill="rgba(28,44,30,0.82)"/>
<polygon points="363.2,694.5 391.4,694.5 378.6,722.5 350.4,722.5" fill="rgba(28,44,30,0.82)"/>
<polygon points="404.3,666.5 432.5,666.5 419.6,694.5 391.4,694.5" fill="rgba(28,44,30,0.82)"/>
<polygon points="406.8,722.5 435.0,722.5 422.2,750.5 394.0,750.5" fill="rgba(28,44,30,0.82)"/>
<polygon points="306.8,685.2 335.0,685.2 322.2,713.2 294.0,713.2" fill="rgba(50,62,190,0.95)" stroke="#141c58" stroke-width="0.9"/>
<polygon points="335.0,685.2 363.2,685.2 350.4,713.2 322.2,713.2" fill="rgba(50,62,190,0.95)" stroke="#141c58" stroke-width="0.9"/>
<polygon points="363.2,685.2 391.4,685.2 378.6,713.2 350.4,713.2" fill="rgba(50,62,190,0.95)" stroke="#141c58" stroke-width="0.9"/>
<polygon points="404.3,657.2 432.5,657.2 419.6,685.2 391.4,685.2" fill="rgba(50,62,190,0.95)" stroke="#141c58" stroke-width="0.9"/>
<polygon points="406.8,713.2 435.0,713.2 422.2,741.2 394.0,741.2" fill="rgba(50,62,190,0.95)" stroke="#141c58" stroke-width="0.9"/>
<g transform="matrix(1,0,-0.465,1,188.60,560.00)">
<rect x="0" y="0" width="195.30" height="27.5" fill="#4f6fcb"/>
<line x1="0.00" y1="0" x2="0.00" y2="27.5" stroke="#1c2a30" stroke-width="0.8"/>
<line x1="27.90" y1="0" x2="27.90" y2="27.5" stroke="#1c2a30" stroke-width="0.8"/>
<line x1="55.80" y1="0" x2="55.80" y2="27.5" stroke="#1c2a30" stroke-width="0.8"/>
<line x1="83.70" y1="0" x2="83.70" y2="27.5" stroke="#1c2a30" stroke-width="0.8"/>
<line x1="111.60" y1="0" x2="111.60" y2="27.5" stroke="#1c2a30" stroke-width="0.8"/>
<line x1="139.50" y1="0" x2="139.50" y2="27.5" stroke="#1c2a30" stroke-width="0.8"/>
<line x1="167.40" y1="0" x2="167.40" y2="27.5" stroke="#1c2a30" stroke-width="0.8"/>
<line x1="195.30" y1="0" x2="195.30" y2="27.5" stroke="#1c2a30" stroke-width="0.8"/>
<line x1="0" y1="0" x2="195.30" y2="0" stroke="#1c2a30" stroke-width="0.6"/><line x1="0" y1="27.5" x2="195.30" y2="27.5" stroke="#1c2a30" stroke-width="0.6"/>
</g>
<g transform="matrix(1,0,-0.465,1,188.90,597.20)">
<rect x="0" y="0" width="195.30" height="27.5" fill="#d95b2a"/>
<line x1="0.00" y1="0" x2="0.00" y2="27.5" stroke="#9aa88c" stroke-width="0.8"/>
<line x1="27.90" y1="0" x2="27.90" y2="27.5" stroke="#9aa88c" stroke-width="0.8"/>
<line x1="55.80" y1="0" x2="55.80" y2="27.5" stroke="#9aa88c" stroke-width="0.8"/>
<line x1="83.70" y1="0" x2="83.70" y2="27.5" stroke="#9aa88c" stroke-width="0.8"/>
<line x1="111.60" y1="0" x2="111.60" y2="27.5" stroke="#9aa88c" stroke-width="0.8"/>
<line x1="139.50" y1="0" x2="139.50" y2="27.5" stroke="#9aa88c" stroke-width="0.8"/>
<line x1="167.40" y1="0" x2="167.40" y2="27.5" stroke="#9aa88c" stroke-width="0.8"/>
<line x1="195.30" y1="0" x2="195.30" y2="27.5" stroke="#9aa88c" stroke-width="0.8"/>
<line x1="0" y1="0" x2="195.30" y2="0" stroke="#9aa88c" stroke-width="0.6"/><line x1="0" y1="27.5" x2="195.30" y2="27.5" stroke="#9aa88c" stroke-width="0.6"/>
</g>
<g transform="matrix(1,0,-0.465,1,188.30,634.30)">
<rect x="0" y="0" width="195.30" height="27.5" fill="#53565c"/>
<line x1="0.00" y1="0" x2="0.00" y2="27.5" stroke="#1a1a1a" stroke-width="0.8"/>
<line x1="27.90" y1="0" x2="27.90" y2="27.5" stroke="#1a1a1a" stroke-width="0.8"/>
<line x1="55.80" y1="0" x2="55.80" y2="27.5" stroke="#1a1a1a" stroke-width="0.8"/>
<line x1="83.70" y1="0" x2="83.70" y2="27.5" stroke="#1a1a1a" stroke-width="0.8"/>
<line x1="111.60" y1="0" x2="111.60" y2="27.5" stroke="#1a1a1a" stroke-width="0.8"/>
<line x1="139.50" y1="0" x2="139.50" y2="27.5" stroke="#1a1a1a" stroke-width="0.8"/>
<line x1="167.40" y1="0" x2="167.40" y2="27.5" stroke="#1a1a1a" stroke-width="0.8"/>
<line x1="195.30" y1="0" x2="195.30" y2="27.5" stroke="#1a1a1a" stroke-width="0.8"/>
<line x1="0" y1="0" x2="195.30" y2="0" stroke="#1a1a1a" stroke-width="0.6"/><line x1="0" y1="27.5" x2="195.30" y2="27.5" stroke="#1a1a1a" stroke-width="0.6"/>
</g>
<text x="184.8" y="581.2" font-family="Liberation Sans, sans-serif" font-weight="bold" font-style="italic" font-size="17.8" fill="#111" textLength="185.5" lengthAdjust="spacingAndGlyphs">CCA Brasses &amp; Bronzes</text>
<text x="196.8" y="617.6" font-family="Liberation Sans, sans-serif" font-weight="bold" font-style="italic" font-size="17.8" fill="#111" textLength="169.5" lengthAdjust="spacingAndGlyphs">Precious Metal CCAs</text>
<text x="207.2" y="652.6" font-family="Liberation Sans, sans-serif" font-weight="bold" font-style="italic" font-size="17.8" fill="#111" textLength="149" lengthAdjust="spacingAndGlyphs">Low Density CCAs</text>
<text x="536" y="852.5" font-family="Liberation Sans, sans-serif" font-weight="bold" font-style="normal" font-size="32" fill="#111" textLength="40.5" lengthAdjust="spacingAndGlyphs">(b)</text>
</svg></body></html>
